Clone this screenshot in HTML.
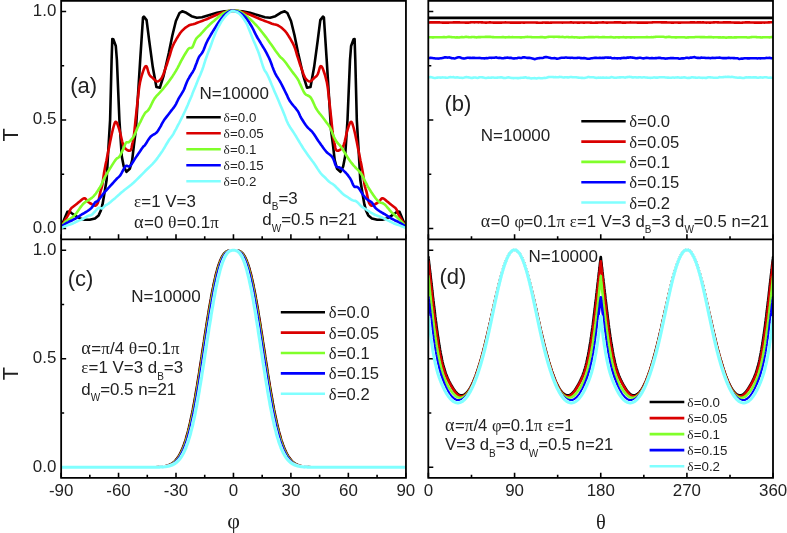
<!DOCTYPE html>
<html><head><meta charset="utf-8"><style>html,body{margin:0;padding:0;background:#fff;width:787px;height:533px;overflow:hidden}svg{display:block}</style></head>
<body><svg width="787" height="533" viewBox="0 0 787 533" style="will-change:transform">
<style>text{font-family:"Liberation Sans",sans-serif;fill:#222}.s{font-family:"Liberation Serif",serif}</style>
<rect width="787" height="533" fill="#fff"/>
<defs><clipPath id="ca"><rect x="61.1" y="0" width="344.7" height="239"/></clipPath><clipPath id="cb"><rect x="428.4" y="0" width="344.70000000000005" height="239"/></clipPath><clipPath id="cc"><rect x="61.1" y="239" width="344.7" height="239"/></clipPath><clipPath id="cd"><rect x="428.4" y="239" width="344.70000000000005" height="239"/></clipPath></defs>
<path d="M61.10 239.3V234.3M89.83 239.3V236.3M118.55 239.3V234.3M147.28 239.3V236.3M176.00 239.3V234.3M204.72 239.3V236.3M233.45 239.3V234.3M262.18 239.3V236.3M290.90 239.3V234.3M319.62 239.3V236.3M348.35 239.3V234.3M377.07 239.3V236.3M405.80 239.3V234.3M428.40 239.3V234.3M471.49 239.3V236.3M514.58 239.3V234.3M557.66 239.3V236.3M600.75 239.3V234.3M643.84 239.3V236.3M686.92 239.3V234.3M730.01 239.3V236.3M773.10 239.3V234.3M61.10 477.85V472.85M89.83 477.85V474.85M118.55 477.85V472.85M147.28 477.85V474.85M176.00 477.85V472.85M204.72 477.85V474.85M233.45 477.85V472.85M262.18 477.85V474.85M290.90 477.85V472.85M319.62 477.85V474.85M348.35 477.85V472.85M377.07 477.85V474.85M405.80 477.85V472.85M428.40 477.85V472.85M471.49 477.85V474.85M514.58 477.85V472.85M557.66 477.85V474.85M600.75 477.85V472.85M643.84 477.85V474.85M686.92 477.85V472.85M730.01 477.85V474.85M773.10 477.85V472.85M61.15 228.50H66.15M61.15 174.25H64.15M61.15 120.00H66.15M61.15 65.75H64.15M61.15 11.50H66.15M61.15 467.30H66.15M61.15 413.05H64.15M61.15 358.80H66.15M61.15 304.55H64.15M61.15 250.30H66.15M428.3 228.50H433.3M428.3 174.25H431.3M428.3 120.00H433.3M428.3 65.75H431.3M428.3 11.50H433.3M428.3 467.30H433.3M428.3 413.05H431.3M428.3 358.80H433.3M428.3 304.55H431.3M428.3 250.30H433.3" stroke="#000" stroke-width="1.6" fill="none"/>
<path d="M61.3 226.5L64.6 218.5 67.3 211.9 69.5 211.5 71.7 213.2 75.6 215.9 80 218.5 84.5 219.8 89.7 219.8 95 218.5 98.6 215.4 100.8 210.6 102.5 204.4 103.9 196.5 105.2 188.5 106.6 180 108.3 150 110.1 120 111.6 60 112.3 39 113.3 39.2 115.8 46 116.9 60 119.4 120 120.6 138.3 121.8 156.6 123.7 166.3 126.5 171.8 129.8 168.8 132.2 160.2 134 144.4 135.9 129.8 137.7 100 140.3 58.4 143 17.5 143.9 16.6 146.6 20.1 149.2 40.6 152.8 67.3 156.4 86.9 159.9 87.7 163.5 76.2 168.8 53 172.4 35.2 175.9 21 179.5 13 182.2 11.3 186.3 12.8 191.5 16.2 196.8 17.7 202 17.3 209.5 15 217 12.8 224.5 11.3 233.4 10.8 242.4 11.3 249.9 12.8 257.4 15 264.9 17.3 270.1 17.7 275.4 16.2 280.6 12.8 284.7 11.3 287.4 13 291 21 294.5 35.2 298.1 53 303.4 76.2 307 87.7 310.5 86.9 314.1 67.3 317.7 40.6 320.3 20.1 323 16.6 323.9 17.5 326.6 58.4 329.2 100 331 129.8 332.9 144.4 334.7 160.2 337.1 168.8 340.4 171.8 343.2 166.3 345.1 156.6 346.3 138.3 347.5 120 350 60 351.1 46 353.6 39.2 354.6 39 355.3 60 356.8 120 358.6 150 360.3 180 361.7 188.5 363 196.5 364.4 204.4 366.1 210.6 368.3 215.4 371.9 218.5 377.2 219.8 382.4 219.8 386.9 218.5 391.3 215.9 395.2 213.2 397.4 211.5 399.6 211.9 402.3 218.5 405.6 226.5" fill="none" stroke="#000000" stroke-width="2.6" stroke-linejoin="round" stroke-linecap="round" clip-path="url(#ca)"/>
<path d="M61.3 226.5L62 225.4 62.9 223.8 64 222 65 220.3 65.9 218.7 66.9 217.1 67.8 215.6 68.6 214.1 69.2 212.7 69.6 211.3 70.1 210 70.8 208.8 71.8 207.7 73.1 206.7 74.4 205.7 75.6 204.8 76.7 203.9 77.8 203 78.9 202.1 80 201.3 81.1 200.3 82.3 199.3 83.4 198.5 84.5 198.2 85.4 198.7 86.3 199.7 87.1 200.8 88 201.8 88.9 202.5 89.7 203 90.6 203.5 91.5 204 92.5 204.6 93.6 205.2 94.6 205.7 95.5 205.7 96.3 205.2 97 204.4 97.6 203.4 98.1 202.2 98.5 200.9 98.8 199.5 99.1 198 99.4 196.5 99.7 195 100.1 193.4 100.4 191.8 100.8 190.3 101.2 189.1 101.5 188.1 101.9 186.8 102.3 185 102.7 182.4 103.1 179.4 103.6 175.9 104.1 172.4 104.8 168.7 105.5 164.9 106.4 160.8 107.2 156.6 108.1 152 109.1 147.2 110 142.4 110.9 138.3 111.6 134.8 112.3 131.8 112.9 129.2 113.5 127 114.1 125 114.7 123.2 115.3 122 116 121.8 116.8 122.7 117.6 124.6 118.5 127 119.4 129.8 120.3 133.2 121.2 137.3 122.1 141.3 123 144.4 123.8 146.4 124.5 147.7 125.3 148.6 126.1 149.3 127.1 150 128.3 150.6 129.5 150.8 130.4 150.5 131 149.6 131.5 148.1 131.8 146.4 132.2 144.4 132.7 142.3 133.1 140 133.6 137.5 134 134.6 134.4 131.5 134.7 128.1 135.1 124.3 135.5 120 136.1 114.8 136.7 108.8 137.4 102.8 138 97.5 138.5 93.2 138.9 89.4 139.4 86 140 82.5 140.9 78.8 141.9 75 143 71.7 143.9 69.1 144.7 67.4 145.3 66.4 146 66.1 146.6 66.4 147.2 67.8 147.8 70 148.5 72.5 149.2 74.4 150 75.6 150.9 76.5 151.8 77.2 152.8 78 153.8 79 154.9 80.2 156.1 81.1 157.2 81.5 158.3 81.2 159.5 80.5 160.6 79.4 161.7 78 162.6 76.2 163.5 74 164.3 71.6 165.2 69.1 166.1 66.6 167 64 167.9 61.2 168.8 58.4 169.8 55.3 170.7 52.1 171.7 48.9 172.8 46 174 43.4 175.3 41.1 176.5 38.9 177.7 37 178.7 35.4 179.6 34 180.4 32.8 181.3 31.7 182.2 30.7 183.1 29.8 184 28.9 185 28.1 186 27.3 187.2 26.5 188.3 25.8 189.3 25.2 190.1 24.9 190.9 24.8 191.7 24.6 193 24.3 194.9 23.7 197.2 22.8 199.6 21.9 202 21 204.2 20.1 206.5 19.2 208.8 18.2 211 17.3 213.3 16.3 215.6 15.3 217.9 14.3 220 13.5 222 12.8 223.9 12.2 225.8 11.7 227.5 11.3 229.1 11 230.6 10.9 232 10.8 233.4 10.8 234.9 10.8 236.3 10.9 237.8 11 239.4 11.3 241.1 11.7 243 12.2 244.9 12.8 246.9 13.5 249 14.3 251.3 15.3 253.6 16.3 255.9 17.3 258.2 18.2 260.4 19.2 262.7 20.1 264.9 21 267.3 21.9 269.7 22.8 272 23.7 273.9 24.3 275.2 24.6 276 24.8 276.8 24.9 277.6 25.2 278.6 25.8 279.8 26.5 280.9 27.3 281.9 28.1 282.9 28.9 283.8 29.8 284.7 30.7 285.6 31.7 286.5 32.8 287.3 34 288.2 35.4 289.2 37 290.4 38.9 291.6 41.1 292.9 43.4 294.1 46 295.2 48.9 296.2 52.1 297.1 55.3 298.1 58.4 299 61.2 299.9 64 300.8 66.6 301.7 69.1 302.6 71.6 303.4 74 304.3 76.2 305.2 78 306.3 79.4 307.4 80.5 308.6 81.2 309.7 81.5 310.8 81.1 312 80.2 313.1 79 314.1 78 315.1 77.2 316 76.5 316.9 75.6 317.7 74.4 318.4 72.5 319.1 70 319.7 67.8 320.3 66.4 320.9 66.1 321.6 66.4 322.2 67.4 323 69.1 323.9 71.7 325 75 326 78.8 326.9 82.5 327.5 86 328 89.4 328.4 93.2 328.9 97.5 329.5 102.8 330.2 108.8 330.8 114.8 331.4 120 331.8 124.3 332.2 128.1 332.5 131.5 332.9 134.6 333.3 137.5 333.8 140 334.2 142.3 334.7 144.4 335.1 146.4 335.4 148.1 335.9 149.6 336.5 150.5 337.4 150.8 338.6 150.6 339.8 150 340.8 149.3 341.6 148.6 342.4 147.7 343.1 146.4 343.9 144.4 344.8 141.3 345.7 137.3 346.6 133.2 347.5 129.8 348.4 127 349.3 124.6 350.1 122.7 350.9 121.8 351.6 122 352.2 123.2 352.8 125 353.4 127 354 129.2 354.6 131.8 355.3 134.8 356 138.3 356.9 142.4 357.8 147.2 358.8 152 359.7 156.6 360.5 160.8 361.4 164.9 362.1 168.7 362.8 172.4 363.3 175.9 363.8 179.4 364.2 182.4 364.6 185 365 186.8 365.4 188 365.7 189.1 366.1 190.3 366.5 191.8 366.8 193.4 367.2 195 367.5 196.5 367.8 198 368.1 199.5 368.4 200.9 368.8 202.2 369.3 203.4 369.9 204.4 370.6 205.2 371.4 205.7 372.3 205.7 373.3 205.2 374.4 204.6 375.4 204 376.3 203.5 377.2 203 378 202.5 378.9 201.8 379.8 200.8 380.6 199.7 381.5 198.7 382.4 198.2 383.5 198.5 384.6 199.3 385.8 200.3 386.9 201.3 388 202.1 389.1 203 390.2 203.9 391.3 204.8 392.5 205.7 393.8 206.7 395.1 207.7 396.1 208.8 396.8 210 397.3 211.3 397.7 212.7 398.3 214.1 399.1 215.6 400 217.1 401 218.7 401.9 220.3 402.9 222 404 223.8 404.9 225.4 405.6 226.5" fill="none" stroke="#da0000" stroke-width="2.6" stroke-linejoin="round" stroke-linecap="round" clip-path="url(#ca)"/>
<path d="M61.3 226.5L62.1 225.5 63.3 224 64.6 222.5 65.9 221.2 67.2 220.3 68.6 219.6 69.9 218.9 71.2 218.1 72.4 217.2 73.5 216.3 74.5 215.3 75.6 214.1 76.7 212.7 77.9 211 79 209.4 80 207.9 81 206.6 81.9 205.5 82.7 204.4 83.6 203.5 84.5 202.7 85.3 202.1 86.2 201.5 87.1 200.9 88.2 200.3 89.3 199.6 90.4 198.9 91.5 198.2 92.4 197.4 93.3 196.6 94.1 195.7 95 194.7 95.9 193.5 96.9 192.1 97.8 190.7 98.6 189.4 99.3 188.3 99.9 187.4 100.5 186.3 101.2 185 101.9 183.4 102.7 181.6 103.6 179.6 104.8 177.3 106.4 174.4 108.4 171.1 110.4 167.8 112.1 165.1 113.4 163.1 114.5 161.4 115.4 160.1 116.3 159 117.1 158.3 117.8 158 118.6 157.5 119.4 156.6 120.4 154.8 121.6 152.5 122.7 150.1 123.7 148 124.4 146.3 125 144.8 125.5 143.5 126.1 142.6 126.8 142.2 127.4 142.3 128.2 142.4 129.1 142 130.2 140.9 131.5 139.4 132.8 137.7 134 135.9 135 133.9 135.9 131.7 136.8 129.4 137.7 127.3 138.6 125.4 139.5 123.5 140.4 121.8 141.3 120 142.2 118.2 143.1 116.3 144.1 114.6 145 113.1 145.9 112.1 146.8 111.5 147.7 110.8 148.8 109.4 150.1 107.1 151.5 104.2 153 101.1 154.6 98.4 156.3 96.2 158.1 94.3 159.9 92.4 161.7 90.4 163.5 88.3 165.2 86.1 167 83.9 168.8 81.5 170.6 79 172.4 76.4 174.2 73.6 175.9 70.8 177.6 67.8 179.3 64.6 180.9 61.4 182.5 58.5 184.1 55.7 185.7 53 187.2 50.6 188.5 48.8 189.6 48 190.5 48 191.4 48 192.3 47.3 193.2 45.6 194.1 43.3 195 41 196 39 197.1 37.6 198.2 36.6 199.4 35.6 200.5 34.5 201.6 33.2 202.8 31.9 203.9 30.6 205 29.3 206.1 28.1 207.2 27.1 208.3 26 209.5 24.8 210.9 23.5 212.3 22.2 213.9 20.9 215.5 19.5 217.3 18 219.2 16.3 221.2 14.8 223 13.5 224.6 12.6 226.2 11.8 227.6 11.3 229 10.9 230.2 10.7 231.3 10.7 232.4 10.8 233.4 10.8 234.6 10.8 235.7 10.7 236.8 10.7 238 10.9 239.2 11.3 240.3 11.8 241.6 12.6 243 13.5 244.7 14.8 246.7 16.3 248.7 17.9 250.5 19.5 252.1 20.9 253.5 22.3 254.9 23.8 256.5 25.5 258.3 27.5 260.2 29.8 262.1 32.2 264 34.6 265.9 37.1 267.8 39.8 269.7 42.4 271.6 45.1 273.5 47.8 275.5 50.7 277.4 53.3 279.1 55.6 280.5 57.2 281.8 58.3 283 59.4 284.4 61 286.2 63.3 288.1 66 290.1 68.8 291.9 71.3 293.5 73.4 295 75.3 296.3 77.1 297.5 78.8 298.4 80.2 299 81.5 299.5 82.8 300.3 84.4 301.3 86.6 302.5 89.2 303.7 91.8 305 93.8 306.4 94.9 307.8 95.5 309.3 96.2 310.7 97.5 312.1 99.9 313.5 102.9 314.9 106.1 316.3 108.8 317.7 110.9 319.1 112.8 320.5 114.5 321.9 116.3 323.4 118.3 324.9 120.3 326.3 122.2 327.5 123.8 328.3 124.8 328.8 125.3 329.2 126 330 127.5 331.2 130.1 332.5 133.5 334 137 335.5 140 336.9 142.1 338.4 143.8 339.9 145.4 341.5 147.5 343.3 150.3 345.2 153.5 347.2 156.7 349 159.5 350.6 161.7 352.1 163.6 353.5 165.3 355 167 356.5 168.6 358.1 170.2 359.6 171.8 361 173.5 362.2 175.5 363.4 177.7 364.4 179.9 365.5 182 366.5 183.9 367.3 185.6 368.3 187.4 369.6 189.5 371.4 192.3 373.6 195.4 375.8 198.5 377.8 200.8 379.4 202.1 380.9 202.7 382.2 203 383.3 203.5 384.2 204.1 384.8 204.5 385.4 205.1 386.2 206 387.3 207.3 388.7 208.9 390 210.6 391.3 212 392.4 213.1 393.5 214 394.6 215 395.7 216 397 217.2 398.3 218.5 399.7 219.9 401 221.2 402.3 222.6 403.7 224.2 404.9 225.5 405.8 226.5" fill="none" stroke="#80ff2a" stroke-width="2.6" stroke-linejoin="round" stroke-linecap="round" clip-path="url(#ca)"/>
<path d="M61.3 226.5L62.3 225.8 63.8 224.8 65.4 223.8 66.8 222.9 68 222.3 69.1 221.7 70.1 221.2 71.2 220.7 72.3 220.2 73.3 219.7 74.4 219.1 75.6 218.5 76.9 217.7 78.2 216.8 79.6 215.9 80.9 215 82.2 214.2 83.6 213.5 84.9 212.7 86.2 211.9 87.6 211 89 210 90.3 209 91.5 207.9 92.5 206.6 93.4 205.1 94.2 203.7 95 202.6 95.7 202 96.3 201.7 97 201.4 97.7 200.9 98.5 200 99.4 198.9 100.3 197.7 101.2 196.5 102.1 195.4 103 194.2 103.8 193.1 104.7 192.1 105.5 191.2 106.3 190.3 107.1 189.4 108 188.5 108.9 187.5 109.9 186.4 111 185.2 112.1 184 113.3 182.7 114.6 181.2 115.8 179.8 117 178.5 118 177.6 118.8 176.9 119.6 176.1 120.6 174.9 121.7 172.9 123 170.4 124.3 168 125.5 166.3 126.6 165.8 127.7 166.1 128.7 166.5 129.8 166.3 130.8 165.2 131.9 163.7 132.9 162 134 160.2 135.2 158.4 136.4 156.6 137.7 154.7 138.9 152.9 140.1 151.2 141.2 149.5 142.3 148 143.2 146.8 143.7 146.2 144 146 144.3 145.8 145 145 146.2 143.3 147.6 140.9 149.2 138.5 150.7 136.6 152.2 135.4 153.6 134.5 155 133.8 156.3 132.8 157.4 131.6 158.3 130.3 159.1 128.9 160 127.4 160.9 125.8 161.7 124.2 162.7 122.4 163.8 120.6 165.2 118.6 166.9 116.4 168.6 114.2 170.1 112.2 171.5 110.4 172.8 108.8 174.1 107.1 175.2 105.5 176.1 103.8 176.9 102.2 177.7 100.5 178.6 98.7 179.8 96.7 181.1 94.6 182.4 92.4 183.6 90.3 184.6 88.1 185.4 85.8 186.2 83.7 187 81.8 187.7 80.3 188.2 79.2 188.9 78.1 189.6 76.8 190.6 75.2 191.7 73.4 192.9 71.7 193.8 70 194.5 68.6 195 67.3 195.4 66 196 64.5 196.7 62.7 197.4 60.7 198.2 58.8 199 57 199.9 55.6 200.9 54.5 201.8 53.3 202.8 51.8 203.7 49.8 204.6 47.5 205.5 45.1 206.5 42.8 207.5 40.7 208.6 38.7 209.8 36.7 211 34.5 212.4 32.1 213.9 29.7 215.5 27.2 217 24.8 218.5 22.5 220 20.3 221.5 18.3 223 16.5 224.5 15 226.1 13.6 227.6 12.5 229 11.7 230.2 11.1 231.2 10.8 232.2 10.7 233.4 10.8 235 11 236.6 11.4 238.4 12 240 12.8 241.5 13.8 243 15 244.5 16.4 246 18 247.5 20 249.1 22.3 250.6 24.7 252 27 253.2 29.3 254.3 31.6 255.4 33.8 256.5 36 257.6 38 258.8 39.9 259.9 41.7 261 43.6 262.1 45.4 263.2 47.3 264.4 49.1 265.5 51.1 266.6 53.2 267.7 55.3 268.8 57.5 270 60.1 271.2 63.2 272.4 66.6 273.7 70 275 73.1 276.4 75.7 277.8 77.9 279.2 80.1 280.6 82.5 282.1 85.3 283.6 88.3 285 91.2 286.3 93.8 287.3 95.9 288 97.7 288.9 99.4 290 101.3 291.7 103.6 293.7 106 295.8 108.4 297.5 110.7 298.7 112.7 299.5 114.5 300.3 116.3 301.3 118.2 302.6 120.3 304 122.5 305.5 124.7 306.9 126.6 308.3 128.1 309.7 129.4 311.1 130.7 312.5 132.2 314 134.2 315.5 136.5 316.9 138.7 318.2 140.7 319.3 142.2 320.2 143.5 321 144.7 322 146 323 147.5 324.1 149 325.3 150.5 326.5 152 327.9 153.3 329.6 154.5 331.1 155.7 332.5 157.3 333.6 159.5 334.5 162 335.3 164.5 336.2 166.3 337.1 167.1 338 167.3 338.9 167.3 340 167.8 341.4 168.8 343 170.1 344.6 171.6 346 173 347.2 174.4 348.4 175.9 349.5 177.4 350.5 179 351.5 180.9 352.4 183.1 353.3 185.1 354.2 186.5 355.1 187 356 186.9 357 186.8 358 187.3 359.1 188.6 360.2 190.4 361.4 192.3 362.5 194 363.6 195.5 364.7 196.9 365.8 198.1 367 199.3 368.2 200.2 369.5 201 370.8 201.7 371.9 202.6 372.8 203.8 373.6 205.2 374.4 206.6 375.4 207.9 376.6 209 377.9 210 379.3 211 380.7 211.9 382 212.7 383.4 213.5 384.7 214.2 386 215 387.3 215.9 388.7 216.8 390 217.7 391.3 218.5 392.5 219.1 393.6 219.7 394.6 220.2 395.7 220.7 396.8 221.2 397.8 221.7 398.9 222.3 400.1 222.9 401.6 223.8 403.2 224.8 404.7 225.8 405.8 226.5" fill="none" stroke="#0000ff" stroke-width="2.6" stroke-linejoin="round" stroke-linecap="round" clip-path="url(#ca)"/>
<path d="M61.3 228L62.3 227.6 63.7 226.9 65.3 226.2 66.8 225.6 68.1 225.1 69.5 224.7 70.8 224.3 72.1 223.8 73.4 223.2 74.8 222.5 76.1 221.8 77.4 221.2 78.7 220.6 80.1 220.1 81.4 219.6 82.7 219 84.1 218.2 85.5 217.4 86.8 216.5 88 215.9 89 215.6 89.9 215.5 90.7 215.4 91.5 215 92.4 214.3 93.2 213.4 94.1 212.4 95 211.5 95.9 210.5 96.8 209.4 97.7 208.5 98.6 207.9 99.5 207.8 100.4 208.1 101.2 208.4 102.1 208.4 103 207.8 103.9 207 104.8 206 105.6 205.3 106.2 204.9 106.7 204.8 107.2 204.5 108 204 109.2 203.1 110.7 201.9 112.2 200.5 113.8 199.2 115.4 197.9 117 196.4 118.6 195.1 120 193.8 121.1 192.8 122 192 123 191.2 124.4 190 126.4 188.5 128.7 186.7 131.2 184.7 133.8 182.5 136.5 179.9 139.4 177 142.3 174.1 145 171.3 147.6 168.8 150.1 166.4 152.4 164.1 154.4 161.9 156.1 159.9 157.6 157.9 158.8 156.1 160 154.5 161 153.1 161.7 152 162.5 150.9 163.4 149.4 164.6 147.5 165.8 145.3 167.2 143 168.4 141 169.5 139.3 170.7 137.8 171.7 136.4 172.7 135 173.6 133.6 174.3 132.2 175.1 130.7 176 129.1 177 127.2 178 125.2 179.2 123 180.3 120.7 181.5 118.3 182.8 115.8 184 113.2 185.3 110.5 186.6 107.6 188 104.5 189.2 101.4 190.4 98.7 191.4 96.4 192.2 94.4 192.9 92.4 193.8 90.3 194.8 87.9 195.9 85.3 196.9 82.7 198 80.1 199 77.6 200.1 75.2 201.1 72.7 202.2 70 203.3 66.9 204.3 63.6 205.4 60.2 206.5 57 207.6 53.9 208.7 50.9 209.9 48 211 45 212.1 41.9 213.2 38.8 214.4 35.8 215.5 33 216.6 30.5 217.8 28.2 218.9 26 220 24 221.1 22.1 222.2 20.4 223.4 18.8 224.5 17.3 225.6 16 226.8 14.7 227.9 13.7 229 12.8 230.1 12 231.1 11.4 232.2 11 233.4 11 235 11.4 236.6 12 238.4 13 240 14.3 241.6 16 243.1 18 244.6 20.2 246 22.5 247.3 25 248.4 27.8 249.5 30.5 250.5 33 251.3 35 252 36.8 252.7 38.6 253.5 40.6 254.6 43.1 255.8 45.8 256.9 48.5 258 51.1 258.9 53.5 259.6 55.7 260.3 57.9 261 60.1 261.7 62.4 262.5 64.8 263.2 67.1 264 69.1 264.8 70.6 265.6 71.8 266.5 73.1 267.5 75 268.8 77.8 270.2 81.1 271.6 84.6 273.1 88.1 274.5 91.4 276 94.8 277.4 98.1 278.8 101.3 280 104.2 281.2 107 282.4 109.7 283.5 112.5 284.7 115.4 285.8 118.4 286.9 121.2 288.1 123.8 289.3 125.9 290.4 127.8 291.6 129.5 292.8 131.3 294 133.1 295.1 134.9 296.3 136.8 297.5 138.8 298.8 141 300.2 143.4 301.7 145.8 303.2 148.2 304.8 150.6 306.5 153 308.2 155.4 309.7 157.5 311 159.3 312.1 160.8 313.3 162.3 314.5 164 316 166.2 317.5 168.6 319.1 171 320.5 173 321.7 174.4 322.8 175.5 323.9 176.5 325 177.5 326.1 178.7 327.2 179.8 328.4 181 329.5 182 330.6 182.8 331.8 183.5 332.9 184.2 334 185 335.1 186 336.2 187.2 337.4 188.3 338.5 189.5 339.6 190.7 340.8 191.8 341.9 193 343 194 344.1 194.9 345.2 195.6 346.4 196.3 347.5 197 348.6 197.8 349.8 198.6 350.9 199.4 352 200 353.1 200.4 354.2 200.7 355.4 200.9 356.5 201.5 357.6 202.4 358.8 203.7 359.9 204.9 361 206 362.1 206.9 363.2 207.6 364.4 208.3 365.5 209 366.6 209.8 367.7 210.5 368.8 211.2 370 212 371.3 212.8 372.6 213.5 373.9 214.3 375.4 215 376.9 215.6 378.6 216.2 380.3 216.8 382 217.5 383.9 218.4 385.8 219.3 387.8 220.3 389.5 221.2 391 221.9 392.3 222.6 393.5 223.2 394.8 223.8 396.1 224.3 397.4 224.7 398.7 225.1 400.1 225.6 401.6 226.2 403.3 226.9 404.8 227.6 405.8 228" fill="none" stroke="#80ffff" stroke-width="2.6" stroke-linejoin="round" stroke-linecap="round" clip-path="url(#ca)"/>
<path d="M428.4 17.9L429.4 17.9 430.4 17.9 431.4 17.9 432.4 17.9 433.4 17.9 434.4 17.9 435.4 17.9 436.4 17.9 437.4 17.9 438.4 17.9 439.4 17.9 440.4 17.9 441.4 17.9 442.4 17.9 443.4 17.9 444.4 17.9 445.4 17.9 446.4 17.9 447.4 17.9 448.4 17.9 449.4 17.9 450.4 17.9 451.4 17.9 452.4 17.9 453.4 17.9 454.4 17.9 455.4 17.9 456.4 17.9 457.4 17.9 458.4 17.9 459.4 17.9 460.4 17.9 461.4 17.9 462.4 17.9 463.4 17.9 464.4 17.9 465.4 17.9 466.4 17.9 467.4 17.9 468.4 17.9 469.4 17.9 470.4 17.9 471.4 17.9 472.4 17.9 473.4 17.9 474.4 17.9 475.4 17.9 476.4 17.9 477.4 17.9 478.4 17.9 479.4 17.9 480.4 17.9 481.4 17.9 482.4 17.9 483.4 17.9 484.4 17.9 485.4 17.9 486.4 17.9 487.4 17.9 488.4 17.9 489.4 17.9 490.4 17.9 491.4 17.9 492.4 17.9 493.4 17.9 494.4 17.9 495.4 17.9 496.4 17.9 497.4 17.9 498.4 17.9 499.4 17.9 500.4 17.9 501.4 17.9 502.4 17.9 503.4 17.9 504.4 17.9 505.4 17.9 506.4 17.9 507.4 17.9 508.4 17.9 509.4 17.9 510.4 17.9 511.4 17.9 512.4 17.9 513.4 17.9 514.4 17.9 515.4 17.9 516.4 17.9 517.4 17.9 518.4 17.9 519.4 17.9 520.4 17.9 521.4 17.9 522.4 17.9 523.4 17.9 524.4 17.9 525.4 17.9 526.4 17.9 527.4 17.9 528.4 17.9 529.4 17.9 530.4 17.9 531.4 17.9 532.4 17.9 533.4 17.9 534.4 17.9 535.4 17.9 536.4 17.9 537.4 17.9 538.4 17.9 539.4 17.9 540.4 17.9 541.4 17.9 542.4 17.9 543.4 17.9 544.4 17.9 545.4 17.9 546.4 17.9 547.4 17.9 548.4 17.9 549.4 17.9 550.4 17.9 551.4 17.9 552.4 17.9 553.4 17.9 554.4 17.9 555.4 17.9 556.4 17.9 557.4 17.9 558.4 17.9 559.4 17.9 560.4 17.9 561.4 17.9 562.4 17.9 563.4 17.9 564.4 17.9 565.4 17.9 566.4 17.9 567.4 17.9 568.4 17.9 569.4 17.9 570.4 17.9 571.4 17.9 572.4 17.9 573.4 17.9 574.4 17.9 575.4 17.9 576.4 17.9 577.4 17.9 578.4 17.9 579.4 17.9 580.4 17.9 581.4 17.9 582.4 17.9 583.4 17.9 584.4 17.9 585.4 17.9 586.4 17.9 587.4 17.9 588.4 17.9 589.4 17.9 590.4 17.9 591.4 17.9 592.4 17.9 593.4 17.9 594.4 17.9 595.4 17.9 596.4 17.9 597.4 17.9 598.4 17.9 599.4 17.9 600.4 17.9 601.4 17.9 602.4 17.9 603.4 17.9 604.4 17.9 605.4 17.9 606.4 17.9 607.4 17.9 608.4 17.9 609.4 17.9 610.4 17.9 611.4 17.9 612.4 17.9 613.4 17.9 614.4 17.9 615.4 17.9 616.4 17.9 617.4 17.9 618.4 17.9 619.4 17.9 620.4 17.9 621.4 17.9 622.4 17.9 623.4 17.9 624.4 17.9 625.4 17.9 626.4 17.9 627.4 17.9 628.4 17.9 629.4 17.9 630.4 17.9 631.4 17.9 632.4 17.9 633.4 17.9 634.4 17.9 635.4 17.9 636.4 17.9 637.4 17.9 638.4 17.9 639.4 17.9 640.4 17.9 641.4 17.9 642.4 17.9 643.4 17.9 644.4 17.9 645.4 17.9 646.4 17.9 647.4 17.9 648.4 17.9 649.4 17.9 650.4 17.9 651.4 17.9 652.4 17.9 653.4 17.9 654.4 17.9 655.4 17.9 656.4 17.9 657.4 17.9 658.4 17.9 659.4 17.9 660.4 17.9 661.4 17.9 662.4 17.9 663.4 17.9 664.4 17.9 665.4 17.9 666.4 17.9 667.4 17.9 668.4 17.9 669.4 17.9 670.4 17.9 671.4 17.9 672.4 17.9 673.4 17.9 674.4 17.9 675.4 17.9 676.4 17.9 677.4 17.9 678.4 17.9 679.4 17.9 680.4 17.9 681.4 17.9 682.4 17.9 683.4 17.9 684.4 17.9 685.4 17.9 686.4 17.9 687.4 17.9 688.4 17.9 689.4 17.9 690.4 17.9 691.4 17.9 692.4 17.9 693.4 17.9 694.4 17.9 695.4 17.9 696.4 17.9 697.4 17.9 698.4 17.9 699.4 17.9 700.4 17.9 701.4 17.9 702.4 17.9 703.4 17.9 704.4 17.9 705.4 17.9 706.4 17.9 707.4 17.9 708.4 17.9 709.4 17.9 710.4 17.9 711.4 17.9 712.4 17.9 713.4 17.9 714.4 17.9 715.4 17.9 716.4 17.9 717.4 17.9 718.4 17.9 719.4 17.9 720.4 17.9 721.4 17.9 722.4 17.9 723.4 17.9 724.4 17.9 725.4 17.9 726.4 17.9 727.4 17.9 728.4 17.9 729.4 17.9 730.4 17.9 731.4 17.9 732.4 17.9 733.4 17.9 734.4 17.9 735.4 17.9 736.4 17.9 737.4 17.9 738.4 17.9 739.4 17.9 740.4 17.9 741.4 17.9 742.4 17.9 743.4 17.9 744.4 17.9 745.4 17.9 746.4 17.9 747.4 17.9 748.4 17.9 749.4 17.9 750.4 17.9 751.4 17.9 752.4 17.9 753.4 17.9 754.4 17.9 755.4 17.9 756.4 17.9 757.4 17.9 758.4 17.9 759.4 17.9 760.4 17.9 761.4 17.9 762.4 17.9 763.4 17.9 764.4 17.9 765.4 17.9 766.4 17.9 767.4 17.9 768.4 17.9 769.4 17.9 770.4 17.9 771.4 17.9 772.4 17.9" fill="none" stroke="#000000" stroke-width="2.6" stroke-linejoin="round" stroke-linecap="round" clip-path="url(#cb)"/>
<path d="M428.4 22.4L429.4 22.5 430.4 22.4 431.4 22.4 432.4 22.4 433.4 22.4 434.4 22.3 435.4 22.4 436.4 22.4 437.4 22.4 438.4 22.4 439.4 22.4 440.4 22.5 441.4 22.5 442.4 22.6 443.4 22.6 444.4 22.6 445.4 22.6 446.4 22.6 447.4 22.6 448.4 22.6 449.4 22.5 450.4 22.5 451.4 22.5 452.4 22.5 453.4 22.4 454.4 22.4 455.4 22.4 456.4 22.4 457.4 22.3 458.4 22.4 459.4 22.4 460.4 22.5 461.4 22.5 462.4 22.5 463.4 22.5 464.4 22.5 465.4 22.6 466.4 22.6 467.4 22.6 468.4 22.6 469.4 22.5 470.4 22.4 471.4 22.3 472.4 22.3 473.4 22.3 474.4 22.4 475.4 22.3 476.4 22.3 477.4 22.3 478.4 22.4 479.4 22.3 480.4 22.3 481.4 22.4 482.4 22.4 483.4 22.5 484.4 22.5 485.4 22.6 486.4 22.6 487.4 22.5 488.4 22.5 489.4 22.4 490.4 22.4 491.4 22.5 492.4 22.5 493.4 22.6 494.4 22.5 495.4 22.6 496.4 22.6 497.4 22.6 498.4 22.6 499.4 22.6 500.4 22.6 501.4 22.6 502.4 22.5 503.4 22.5 504.4 22.5 505.4 22.4 506.4 22.5 507.4 22.5 508.4 22.5 509.4 22.5 510.4 22.6 511.4 22.6 512.4 22.5 513.4 22.6 514.4 22.6 515.4 22.6 516.4 22.6 517.4 22.6 518.4 22.6 519.4 22.6 520.4 22.6 521.4 22.5 522.4 22.5 523.4 22.6 524.4 22.6 525.4 22.5 526.4 22.5 527.4 22.5 528.4 22.5 529.4 22.5 530.4 22.5 531.4 22.5 532.4 22.5 533.4 22.5 534.4 22.5 535.4 22.5 536.4 22.6 537.4 22.6 538.4 22.7 539.4 22.7 540.4 22.7 541.4 22.7 542.4 22.6 543.4 22.5 544.4 22.5 545.4 22.6 546.4 22.6 547.4 22.6 548.4 22.6 549.4 22.7 550.4 22.6 551.4 22.6 552.4 22.5 553.4 22.5 554.4 22.5 555.4 22.5 556.4 22.5 557.4 22.5 558.4 22.5 559.4 22.5 560.4 22.5 561.4 22.5 562.4 22.6 563.4 22.5 564.4 22.5 565.4 22.5 566.4 22.5 567.4 22.5 568.4 22.5 569.4 22.5 570.4 22.4 571.4 22.4 572.4 22.5 573.4 22.6 574.4 22.5 575.4 22.5 576.4 22.5 577.4 22.6 578.4 22.6 579.4 22.6 580.4 22.5 581.4 22.5 582.4 22.5 583.4 22.6 584.4 22.6 585.4 22.5 586.4 22.5 587.4 22.5 588.4 22.5 589.4 22.5 590.4 22.6 591.4 22.6 592.4 22.7 593.4 22.7 594.4 22.7 595.4 22.6 596.4 22.6 597.4 22.6 598.4 22.5 599.4 22.5 600.4 22.5 601.4 22.5 602.4 22.4 603.4 22.4 604.4 22.5 605.4 22.5 606.4 22.6 607.4 22.6 608.4 22.5 609.4 22.5 610.4 22.5 611.4 22.5 612.4 22.5 613.4 22.5 614.4 22.4 615.4 22.4 616.4 22.4 617.4 22.4 618.4 22.4 619.4 22.4 620.4 22.4 621.4 22.5 622.4 22.6 623.4 22.6 624.4 22.6 625.4 22.6 626.4 22.5 627.4 22.5 628.4 22.5 629.4 22.5 630.4 22.4 631.4 22.5 632.4 22.5 633.4 22.5 634.4 22.5 635.4 22.5 636.4 22.5 637.4 22.6 638.4 22.6 639.4 22.6 640.4 22.6 641.4 22.6 642.4 22.6 643.4 22.6 644.4 22.5 645.4 22.6 646.4 22.6 647.4 22.6 648.4 22.5 649.4 22.5 650.4 22.5 651.4 22.5 652.4 22.4 653.4 22.3 654.4 22.3 655.4 22.3 656.4 22.3 657.4 22.3 658.4 22.3 659.4 22.3 660.4 22.3 661.4 22.4 662.4 22.4 663.4 22.4 664.4 22.4 665.4 22.4 666.4 22.4 667.4 22.5 668.4 22.5 669.4 22.5 670.4 22.5 671.4 22.6 672.4 22.6 673.4 22.6 674.4 22.5 675.4 22.5 676.4 22.5 677.4 22.5 678.4 22.6 679.4 22.6 680.4 22.6 681.4 22.5 682.4 22.5 683.4 22.5 684.4 22.5 685.4 22.5 686.4 22.5 687.4 22.5 688.4 22.5 689.4 22.5 690.4 22.4 691.4 22.4 692.4 22.4 693.4 22.4 694.4 22.4 695.4 22.5 696.4 22.5 697.4 22.4 698.4 22.4 699.4 22.4 700.4 22.4 701.4 22.5 702.4 22.4 703.4 22.4 704.4 22.5 705.4 22.5 706.4 22.6 707.4 22.5 708.4 22.5 709.4 22.6 710.4 22.6 711.4 22.5 712.4 22.5 713.4 22.4 714.4 22.4 715.4 22.3 716.4 22.3 717.4 22.4 718.4 22.4 719.4 22.5 720.4 22.5 721.4 22.5 722.4 22.5 723.4 22.4 724.4 22.4 725.4 22.4 726.4 22.4 727.4 22.4 728.4 22.4 729.4 22.4 730.4 22.4 731.4 22.5 732.4 22.5 733.4 22.5 734.4 22.6 735.4 22.6 736.4 22.6 737.4 22.6 738.4 22.6 739.4 22.6 740.4 22.7 741.4 22.7 742.4 22.6 743.4 22.5 744.4 22.5 745.4 22.4 746.4 22.4 747.4 22.4 748.4 22.4 749.4 22.4 750.4 22.5 751.4 22.5 752.4 22.5 753.4 22.5 754.4 22.6 755.4 22.6 756.4 22.6 757.4 22.6 758.4 22.6 759.4 22.5 760.4 22.6 761.4 22.6 762.4 22.5 763.4 22.5 764.4 22.6 765.4 22.5 766.4 22.5 767.4 22.5 768.4 22.4 769.4 22.4 770.4 22.3 771.4 22.3 772.4 22.3" fill="none" stroke="#da0000" stroke-width="2.6" stroke-linejoin="round" stroke-linecap="round" clip-path="url(#cb)"/>
<path d="M428.4 37.3L429.4 37.3 430.4 37.3 431.4 37.3 432.4 37.4 433.4 37.4 434.4 37.3 435.4 37.3 436.4 37.2 437.4 37.2 438.4 37.3 439.4 37.3 440.4 37.3 441.4 37.3 442.4 37.3 443.4 37.1 444.4 37.1 445.4 37.3 446.4 37.2 447.4 37 448.4 36.9 449.4 36.9 450.4 37 451.4 37.1 452.4 37.2 453.4 37.2 454.4 37.3 455.4 37.5 456.4 37.4 457.4 37.4 458.4 37.5 459.4 37.4 460.4 37.2 461.4 37.1 462.4 37.1 463.4 37.2 464.4 37.1 465.4 36.9 466.4 36.9 467.4 37 468.4 37.1 469.4 37.2 470.4 37.2 471.4 37.1 472.4 37 473.4 37 474.4 37.1 475.4 37.3 476.4 37.4 477.4 37.2 478.4 37 479.4 37.1 480.4 37.1 481.4 37 482.4 37 483.4 37 484.4 37 485.4 36.9 486.4 36.8 487.4 36.9 488.4 36.9 489.4 36.8 490.4 36.9 491.4 37 492.4 37.1 493.4 37.1 494.4 37.2 495.4 37.3 496.4 37.3 497.4 37.2 498.4 37.2 499.4 37.3 500.4 37.3 501.4 37.2 502.4 37 503.4 37.1 504.4 37.3 505.4 37.4 506.4 37.3 507.4 37.2 508.4 37.1 509.4 37.1 510.4 37.2 511.4 37.2 512.4 37.1 513.4 37.3 514.4 37.3 515.4 37.2 516.4 37.2 517.4 37.3 518.4 37.3 519.4 37.3 520.4 37.4 521.4 37.4 522.4 37.3 523.4 37.3 524.4 37.2 525.4 37 526.4 37 527.4 36.9 528.4 37 529.4 37 530.4 37 531.4 37.1 532.4 37.2 533.4 37.2 534.4 37.2 535.4 37.2 536.4 37.2 537.4 37.2 538.4 37.2 539.4 37.2 540.4 37.1 541.4 37.1 542.4 37.1 543.4 37.2 544.4 37.4 545.4 37.4 546.4 37.2 547.4 37 548.4 36.9 549.4 36.8 550.4 36.8 551.4 36.8 552.4 36.8 553.4 36.9 554.4 36.9 555.4 36.8 556.4 36.8 557.4 36.8 558.4 36.9 559.4 36.9 560.4 37 561.4 37 562.4 36.9 563.4 37 564.4 37.2 565.4 37.2 566.4 37 567.4 37 568.4 37.1 569.4 37.2 570.4 37.2 571.4 37.1 572.4 37.1 573.4 37.2 574.4 37.4 575.4 37.3 576.4 37.2 577.4 37.4 578.4 37.5 579.4 37.6 580.4 37.5 581.4 37.5 582.4 37.5 583.4 37.5 584.4 37.4 585.4 37.3 586.4 37.2 587.4 37.2 588.4 37.1 589.4 37.1 590.4 37.1 591.4 37.1 592.4 37.1 593.4 37.1 594.4 37.2 595.4 37 596.4 37 597.4 37 598.4 37.1 599.4 37.2 600.4 37.2 601.4 37.2 602.4 37.1 603.4 37.1 604.4 37.1 605.4 37.2 606.4 37.2 607.4 37.2 608.4 37.3 609.4 37.2 610.4 37 611.4 37.1 612.4 37.2 613.4 37.4 614.4 37.5 615.4 37.4 616.4 37.3 617.4 37.3 618.4 37.4 619.4 37.4 620.4 37.3 621.4 37.2 622.4 37.2 623.4 37.1 624.4 37.2 625.4 37.4 626.4 37.4 627.4 37.3 628.4 37.3 629.4 37.3 630.4 37.4 631.4 37.4 632.4 37.3 633.4 37.3 634.4 37.4 635.4 37.3 636.4 37.3 637.4 37.3 638.4 37.3 639.4 37.3 640.4 37.3 641.4 37.3 642.4 37.2 643.4 37.3 644.4 37.3 645.4 37.2 646.4 37.1 647.4 37.1 648.4 37.2 649.4 37.2 650.4 37.2 651.4 37.1 652.4 37.2 653.4 37.1 654.4 37 655.4 36.9 656.4 36.8 657.4 36.8 658.4 36.8 659.4 36.8 660.4 36.8 661.4 36.7 662.4 36.8 663.4 36.8 664.4 37 665.4 37.2 666.4 37.1 667.4 37 668.4 36.9 669.4 36.9 670.4 37 671.4 37.2 672.4 37.2 673.4 37.2 674.4 37.3 675.4 37.4 676.4 37.4 677.4 37.3 678.4 37.2 679.4 37.2 680.4 37.3 681.4 37.2 682.4 37.2 683.4 37.2 684.4 37.3 685.4 37.5 686.4 37.6 687.4 37.4 688.4 37.4 689.4 37.3 690.4 37.2 691.4 37.2 692.4 37.2 693.4 37.2 694.4 37.2 695.4 37 696.4 37 697.4 37 698.4 37 699.4 37 700.4 37.1 701.4 37.1 702.4 37.1 703.4 37.1 704.4 37 705.4 37.2 706.4 37.3 707.4 37.2 708.4 37.1 709.4 37 710.4 37.1 711.4 37.1 712.4 37.3 713.4 37.4 714.4 37.3 715.4 37.3 716.4 37.2 717.4 37.3 718.4 37.4 719.4 37.3 720.4 37.4 721.4 37.5 722.4 37.4 723.4 37.3 724.4 37.4 725.4 37.6 726.4 37.6 727.4 37.5 728.4 37.3 729.4 37.4 730.4 37.4 731.4 37.4 732.4 37.5 733.4 37.5 734.4 37.4 735.4 37.4 736.4 37.4 737.4 37.3 738.4 37.2 739.4 37.3 740.4 37.3 741.4 37.3 742.4 37.3 743.4 37.3 744.4 37.2 745.4 37.2 746.4 37.3 747.4 37.5 748.4 37.5 749.4 37.4 750.4 37.2 751.4 37.1 752.4 37 753.4 37 754.4 37 755.4 37 756.4 37.1 757.4 37.2 758.4 37.2 759.4 37.3 760.4 37.4 761.4 37.5 762.4 37.4 763.4 37.3 764.4 37.3 765.4 37.2 766.4 37.2 767.4 37.2 768.4 37.3 769.4 37.4 770.4 37.3 771.4 37.1 772.4 37" fill="none" stroke="#80ff2a" stroke-width="2.6" stroke-linejoin="round" stroke-linecap="round" clip-path="url(#cb)"/>
<path d="M428.4 58.1L429.4 58 430.4 57.9 431.4 57.9 432.4 58.1 433.4 58.3 434.4 58.3 435.4 58.5 436.4 58.5 437.4 58.5 438.4 58.6 439.4 58.4 440.4 58.2 441.4 58.3 442.4 58.1 443.4 57.7 444.4 57.4 445.4 57.3 446.4 57.4 447.4 57.6 448.4 57.5 449.4 57.4 450.4 57.7 451.4 58.1 452.4 58.2 453.4 58.3 454.4 58.5 455.4 58.3 456.4 57.9 457.4 57.5 458.4 57.2 459.4 57.3 460.4 57.6 461.4 57.9 462.4 58.2 463.4 58.4 464.4 58.4 465.4 58.2 466.4 57.9 467.4 57.7 468.4 57.8 469.4 57.9 470.4 57.9 471.4 58 472.4 57.9 473.4 57.8 474.4 57.9 475.4 58 476.4 58 477.4 58 478.4 58 479.4 57.9 480.4 58.1 481.4 58.3 482.4 58.2 483.4 58.3 484.4 58.4 485.4 58.3 486.4 58.1 487.4 58.2 488.4 58 489.4 57.8 490.4 57.8 491.4 57.9 492.4 57.8 493.4 57.7 494.4 57.7 495.4 57.5 496.4 57.4 497.4 57.7 498.4 57.9 499.4 57.9 500.4 57.9 501.4 58.1 502.4 58.2 503.4 58.2 504.4 57.9 505.4 57.9 506.4 57.8 507.4 57.6 508.4 57.7 509.4 57.9 510.4 57.9 511.4 57.9 512.4 58.2 513.4 58.4 514.4 58.4 515.4 58.2 516.4 58.2 517.4 58.1 518.4 57.8 519.4 57.7 520.4 58 521.4 58 522.4 57.6 523.4 57.3 524.4 57.4 525.4 57.5 526.4 57.7 527.4 57.9 528.4 57.8 529.4 57.9 530.4 58 531.4 58.2 532.4 58.4 533.4 58.7 534.4 59.1 535.4 59 536.4 58.6 537.4 58.4 538.4 58.3 539.4 58.1 540.4 58 541.4 58 542.4 58 543.4 57.7 544.4 57.3 545.4 57.1 546.4 57.1 547.4 57.3 548.4 57.5 549.4 57.8 550.4 57.9 551.4 58.2 552.4 58.3 553.4 58.3 554.4 58.1 555.4 58.2 556.4 58.6 557.4 58.7 558.4 58.5 559.4 58.3 560.4 58 561.4 57.8 562.4 57.7 563.4 57.8 564.4 57.7 565.4 57.5 566.4 57.5 567.4 57.7 568.4 57.7 569.4 57.7 570.4 57.9 571.4 57.8 572.4 57.8 573.4 58 574.4 58 575.4 58 576.4 58 577.4 57.9 578.4 57.8 579.4 57.8 580.4 58.1 581.4 58.1 582.4 58.2 583.4 58.1 584.4 58.1 585.4 58.3 586.4 58.5 587.4 58.7 588.4 58.8 589.4 58.7 590.4 58.5 591.4 58.3 592.4 58.3 593.4 58.1 594.4 57.9 595.4 57.9 596.4 57.9 597.4 58 598.4 58 599.4 57.9 600.4 57.9 601.4 58 602.4 57.8 603.4 57.9 604.4 57.9 605.4 57.5 606.4 57.5 607.4 57.6 608.4 57.5 609.4 57.7 610.4 57.5 611.4 57.9 612.4 58.2 613.4 58.2 614.4 58.1 615.4 58.2 616.4 58.2 617.4 58.4 618.4 58.3 619.4 58.3 620.4 58.4 621.4 58.1 622.4 58 623.4 57.9 624.4 57.9 625.4 58 626.4 57.9 627.4 57.6 628.4 57.6 629.4 57.5 630.4 57.4 631.4 57.5 632.4 57.6 633.4 57.8 634.4 57.9 635.4 58.1 636.4 58.2 637.4 58.1 638.4 58 639.4 57.8 640.4 57.8 641.4 58.1 642.4 58.3 643.4 58.4 644.4 58.3 645.4 58 646.4 57.9 647.4 57.9 648.4 58.1 649.4 58.3 650.4 58.2 651.4 58 652.4 58.1 653.4 58.3 654.4 58.2 655.4 58.1 656.4 58.1 657.4 58 658.4 57.9 659.4 57.9 660.4 57.9 661.4 58.3 662.4 58.3 663.4 58.3 664.4 58.4 665.4 58.6 666.4 58.5 667.4 58.4 668.4 58.2 669.4 58.2 670.4 58.1 671.4 58.1 672.4 58.1 673.4 58.1 674.4 58.2 675.4 58.2 676.4 58.2 677.4 58.3 678.4 58.4 679.4 58.7 680.4 58.6 681.4 58.4 682.4 58.4 683.4 58.4 684.4 58.3 685.4 58.1 686.4 57.8 687.4 57.8 688.4 58.1 689.4 57.9 690.4 57.6 691.4 57.6 692.4 57.5 693.4 57.2 694.4 57.1 695.4 57.4 696.4 57.8 697.4 57.9 698.4 57.9 699.4 58 700.4 57.9 701.4 57.6 702.4 57.7 703.4 57.7 704.4 57.7 705.4 57.9 706.4 58 707.4 58 708.4 57.9 709.4 58.1 710.4 58.3 711.4 57.9 712.4 57.7 713.4 57.9 714.4 58 715.4 57.9 716.4 57.7 717.4 57.8 718.4 57.7 719.4 57.6 720.4 57.7 721.4 57.9 722.4 58.1 723.4 58.1 724.4 58.1 725.4 58.1 726.4 58.1 727.4 58 728.4 57.8 729.4 57.9 730.4 58.1 731.4 58 732.4 58 733.4 58.1 734.4 58.1 735.4 58.2 736.4 58.3 737.4 58.2 738.4 58.7 739.4 58.9 740.4 58.7 741.4 58.5 742.4 58.6 743.4 58.5 744.4 58.2 745.4 58.2 746.4 58.3 747.4 58.4 748.4 58.4 749.4 58.4 750.4 58.3 751.4 58.3 752.4 58.3 753.4 58.3 754.4 58.3 755.4 58.3 756.4 58.3 757.4 58.5 758.4 58.3 759.4 58.2 760.4 58.4 761.4 58.3 762.4 58.3 763.4 58.3 764.4 58.2 765.4 58.1 766.4 57.9 767.4 58 768.4 58 769.4 57.8 770.4 58 771.4 58.3 772.4 58.2" fill="none" stroke="#0000ff" stroke-width="2.6" stroke-linejoin="round" stroke-linecap="round" clip-path="url(#cb)"/>
<path d="M428.4 77.2L429.4 77.2 430.4 77.1 431.4 77.3 432.4 77.5 433.4 77.8 434.4 78 435.4 78 436.4 77.8 437.4 77.6 438.4 77.5 439.4 77.5 440.4 77.6 441.4 77.6 442.4 77.4 443.4 77.5 444.4 77.5 445.4 77.6 446.4 77.8 447.4 77.8 448.4 77.6 449.4 77.3 450.4 77.1 451.4 77.2 452.4 77.2 453.4 77.1 454.4 77.4 455.4 77.6 456.4 77.4 457.4 77.4 458.4 77.5 459.4 77.7 460.4 77.7 461.4 77.8 462.4 78 463.4 77.8 464.4 77.6 465.4 77.3 466.4 77.1 467.4 77.3 468.4 77.4 469.4 77.5 470.4 77.7 471.4 78 472.4 77.9 473.4 77.6 474.4 77.5 475.4 77.5 476.4 77.8 477.4 77.9 478.4 77.7 479.4 77.3 480.4 77.2 481.4 77.3 482.4 77.4 483.4 77.5 484.4 77.8 485.4 78 486.4 78 487.4 77.8 488.4 77.6 489.4 77.7 490.4 77.7 491.4 77.6 492.4 77.5 493.4 77.5 494.4 77.7 495.4 77.7 496.4 77.7 497.4 77.6 498.4 77.5 499.4 77.5 500.4 77.4 501.4 77.3 502.4 77.6 503.4 77.9 504.4 78 505.4 77.9 506.4 77.7 507.4 77.4 508.4 77.2 509.4 77.4 510.4 77.7 511.4 77.9 512.4 78 513.4 78.1 514.4 78 515.4 78 516.4 78 517.4 78.1 518.4 78.1 519.4 78 520.4 77.9 521.4 77.8 522.4 77.7 523.4 77.6 524.4 77.6 525.4 77.3 526.4 77.6 527.4 78 528.4 77.9 529.4 77.9 530.4 78.2 531.4 78.4 532.4 78.3 533.4 78.2 534.4 78.1 535.4 78.2 536.4 78.4 537.4 78.2 538.4 78 539.4 78 540.4 78.2 541.4 78.3 542.4 78.3 543.4 78.1 544.4 77.9 545.4 77.9 546.4 77.7 547.4 77.4 548.4 77.1 549.4 77 550.4 77 551.4 77 552.4 77 553.4 77.1 554.4 77.2 555.4 77.1 556.4 77.2 557.4 77.2 558.4 77.2 559.4 76.9 560.4 77 561.4 77 562.4 77.3 563.4 77.5 564.4 77.4 565.4 77.3 566.4 77.3 567.4 77.4 568.4 77.4 569.4 77.2 570.4 77 571.4 77 572.4 77.3 573.4 77.3 574.4 77.3 575.4 77.2 576.4 77.2 577.4 77.5 578.4 77.6 579.4 77.7 580.4 77.8 581.4 77.9 582.4 77.9 583.4 78 584.4 78 585.4 77.8 586.4 77.6 587.4 77.3 588.4 76.9 589.4 77.1 590.4 77.2 591.4 77.3 592.4 77.3 593.4 77.3 594.4 77.5 595.4 77.8 596.4 77.9 597.4 77.7 598.4 77.6 599.4 77.7 600.4 77.6 601.4 77.7 602.4 77.6 603.4 77.5 604.4 77.8 605.4 77.8 606.4 77.6 607.4 77.8 608.4 77.8 609.4 77.7 610.4 77.4 611.4 77.1 612.4 77.2 613.4 77.4 614.4 77.7 615.4 77.8 616.4 77.7 617.4 77.5 618.4 77.5 619.4 77.4 620.4 77.4 621.4 77.3 622.4 77.2 623.4 77.3 624.4 77.5 625.4 77.6 626.4 77.3 627.4 77.1 628.4 77 629.4 76.9 630.4 77 631.4 77.1 632.4 77.4 633.4 77.4 634.4 77.2 635.4 77.2 636.4 77.4 637.4 77.5 638.4 77.4 639.4 77.3 640.4 77.3 641.4 77.5 642.4 77.5 643.4 77.3 644.4 77.3 645.4 77.5 646.4 77.5 647.4 77.6 648.4 77.7 649.4 77.8 650.4 77.9 651.4 77.8 652.4 77.7 653.4 77.5 654.4 77.4 655.4 77.6 656.4 77.6 657.4 77.6 658.4 77.5 659.4 77.3 660.4 77.2 661.4 77.3 662.4 77.3 663.4 77.2 664.4 77.3 665.4 77.5 666.4 77.5 667.4 77.6 668.4 77.6 669.4 77.8 670.4 77.7 671.4 77.7 672.4 77.5 673.4 77.5 674.4 77.7 675.4 77.5 676.4 77.5 677.4 77.4 678.4 77.4 679.4 77.6 680.4 77.7 681.4 77.6 682.4 77.6 683.4 77.4 684.4 77.4 685.4 77.5 686.4 77.8 687.4 78 688.4 77.8 689.4 77.9 690.4 77.8 691.4 77.3 692.4 77.2 693.4 77.4 694.4 77.5 695.4 77.6 696.4 77.8 697.4 77.7 698.4 77.5 699.4 77.5 700.4 77.7 701.4 77.8 702.4 77.9 703.4 77.8 704.4 77.7 705.4 77.9 706.4 77.9 707.4 77.6 708.4 77.3 709.4 77.3 710.4 77.4 711.4 77.5 712.4 77.5 713.4 77.7 714.4 77.8 715.4 77.8 716.4 77.7 717.4 77.8 718.4 77.5 719.4 77.1 720.4 77.2 721.4 77.3 722.4 77.3 723.4 77.1 724.4 77 725.4 76.9 726.4 77 727.4 76.9 728.4 76.8 729.4 76.9 730.4 77.1 731.4 76.9 732.4 76.9 733.4 77.1 734.4 77.2 735.4 77.4 736.4 77.6 737.4 77.8 738.4 77.8 739.4 77.6 740.4 77.6 741.4 77.7 742.4 78 743.4 78 744.4 77.9 745.4 77.5 746.4 77.2 747.4 77.5 748.4 77.4 749.4 77.4 750.4 77.4 751.4 77.5 752.4 77.4 753.4 77.2 754.4 77.4 755.4 77.3 756.4 77.4 757.4 77.7 758.4 77.7 759.4 77.4 760.4 77.2 761.4 77.4 762.4 77.6 763.4 77.5 764.4 77.3 765.4 77.3 766.4 77.3 767.4 77.6 768.4 77.8 769.4 77.8 770.4 77.6 771.4 77.7 772.4 77.7" fill="none" stroke="#80ffff" stroke-width="2.6" stroke-linejoin="round" stroke-linecap="round" clip-path="url(#cb)"/>
<mask id="mc" maskUnits="userSpaceOnUse" x="0" y="0" width="787" height="533"><rect width="787" height="533" fill="#fff"/><path d="M61.1 467.3L61.5 467.3 61.9 467.3 62.2 467.3 62.6 467.3 63 467.3 63.4 467.3 63.8 467.3 64.2 467.3 64.5 467.3 64.9 467.3 65.3 467.3 65.7 467.3 66.1 467.3 66.5 467.3 66.8 467.3 67.2 467.3 67.6 467.3 68 467.3 68.4 467.3 68.8 467.3 69.1 467.3 69.5 467.3 69.9 467.3 70.3 467.3 70.7 467.3 71.1 467.3 71.4 467.3 71.8 467.3 72.2 467.3 72.6 467.3 73 467.3 73.4 467.3 73.7 467.3 74.1 467.3 74.5 467.3 74.9 467.3 75.3 467.3 75.7 467.3 76 467.3 76.4 467.3 76.8 467.3 77.2 467.3 77.6 467.3 78 467.3 78.3 467.3 78.7 467.3 79.1 467.3 79.5 467.3 79.9 467.3 80.2 467.3 80.6 467.3 81 467.3 81.4 467.3 81.8 467.3 82.2 467.3 82.5 467.3 82.9 467.3 83.3 467.3 83.7 467.3 84.1 467.3 84.5 467.3 84.8 467.3 85.2 467.3 85.6 467.3 86 467.3 86.4 467.3 86.8 467.3 87.1 467.3 87.5 467.3 87.9 467.3 88.3 467.3 88.7 467.3 89.1 467.3 89.4 467.3 89.8 467.3 90.2 467.3 90.6 467.3 91 467.3 91.4 467.3 91.7 467.3 92.1 467.3 92.5 467.3 92.9 467.3 93.3 467.3 93.7 467.3 94 467.3 94.4 467.3 94.8 467.3 95.2 467.3 95.6 467.3 96 467.3 96.3 467.3 96.7 467.3 97.1 467.3 97.5 467.3 97.9 467.3 98.3 467.3 98.6 467.3 99 467.3 99.4 467.3 99.8 467.3 100.2 467.3 100.5 467.3 100.9 467.3 101.3 467.3 101.7 467.3 102.1 467.3 102.5 467.3 102.8 467.3 103.2 467.3 103.6 467.3 104 467.3 104.4 467.3 104.8 467.3 105.1 467.3 105.5 467.3 105.9 467.3 106.3 467.3 106.7 467.3 107.1 467.3 107.4 467.3 107.8 467.3 108.2 467.3 108.6 467.3 109 467.3 109.4 467.3 109.7 467.3 110.1 467.3 110.5 467.3 110.9 467.3 111.3 467.3 111.7 467.3 112 467.3 112.4 467.3 112.8 467.3 113.2 467.3 113.6 467.3 114 467.3 114.3 467.3 114.7 467.3 115.1 467.3 115.5 467.3 115.9 467.3 116.3 467.3 116.6 467.3 117 467.3 117.4 467.3 117.8 467.3 118.2 467.3 118.5 467.3 118.9 467.3 119.3 467.3 119.7 467.3 120.1 467.3 120.5 467.3 120.8 467.3 121.2 467.3 121.6 467.3 122 467.3 122.4 467.3 122.8 467.3 123.1 467.3 123.5 467.3 123.9 467.3 124.3 467.3 124.7 467.3 125.1 467.3 125.4 467.3 125.8 467.3 126.2 467.3 126.6 467.3 127 467.3 127.4 467.3 127.7 467.3 128.1 467.3 128.5 467.3 128.9 467.3 129.3 467.3 129.7 467.3 130 467.3 130.4 467.3 130.8 467.3 131.2 467.3 131.6 467.3 132 467.3 132.3 467.3 132.7 467.3 133.1 467.3 133.5 467.3 133.9 467.3 134.3 467.3 134.6 467.3 135 467.3 135.4 467.3 135.8 467.3 136.2 467.3 136.6 467.3 136.9 467.3 137.3 467.3 137.7 467.3 138.1 467.3 138.5 467.3 138.8 467.3 139.2 467.3 139.6 467.3 140 467.3 140.4 467.3 140.8 467.3 141.1 467.3 141.5 467.3 141.9 467.3 142.3 467.3 142.7 467.3 143.1 467.3 143.4 467.3 143.8 467.3 144.2 467.3 144.6 467.3 145 467.3 145.4 467.3 145.7 467.3 146.1 467.3 146.5 467.3 146.9 467.3 147.3 467.3 147.7 467.3 148 467.3 148.4 467.3 148.8 467.3 149.2 467.3 149.6 467.3 150 467.3 150.3 467.3 150.7 467.3 151.1 467.3 151.5 467.3 151.9 467.3 152.3 467.3 152.6 467.3 153 467.3 153.4 467.3 153.8 467.3 154.2 467.3 154.6 467.3 154.9 467.3 155.3 467.3 155.7 467.2 156.1 467.2 156.5 467.2 156.8 467.2 157.2 467.2 157.6 467.2 158 467.2 158.4 467.2 158.8 467.2 159.1 467.2 159.5 467.2 159.9 467.1 160.3 467.1 160.7 467.1 161.1 467.1 161.4 467.1 161.8 467.1 162.2 467 162.6 467 163 467 163.4 466.9 163.7 466.9 164.1 466.9 164.5 466.8 164.9 466.8 165.3 466.8 165.7 466.7 166 466.7 166.4 466.6 166.8 466.5 167.2 466.5 167.6 466.4 168 466.3 168.3 466.3 168.7 466.2 169.1 466.1 169.5 466 169.9 465.9 170.3 465.8 170.6 465.6 171 465.5 171.4 465.4 171.8 465.2 172.2 465.1 172.6 464.9 172.9 464.7 173.3 464.5 173.7 464.3 174.1 464.1 174.5 463.9 174.9 463.7 175.2 463.4 175.6 463.1 176 462.9 176.4 462.6 176.8 462.2 177.1 461.9 177.5 461.6 177.9 461.2 178.3 460.8 178.7 460.4 179.1 460 179.4 459.5 179.8 459 180.2 458.5 180.6 458 181 457.5 181.4 456.9 181.7 456.3 182.1 455.7 182.5 455 182.9 454.3 183.3 453.6 183.7 452.9 184 452.1 184.4 451.3 184.8 450.5 185.2 449.6 185.6 448.7 186 447.8 186.3 446.8 186.7 445.8 187.1 444.7 187.5 443.7 187.9 442.5 188.3 441.4 188.6 440.2 189 438.9 189.4 437.7 189.8 436.4 190.2 435 190.6 433.6 190.9 432.2 191.3 430.7 191.7 429.2 192.1 427.6 192.5 426.1 192.9 424.4 193.2 422.7 193.6 421 194 419.3 194.4 417.5 194.8 415.7 195.2 413.8 195.5 411.9 195.9 409.9 196.3 408 196.7 405.9 197.1 403.9 197.4 401.8 197.8 399.7 198.2 397.5 198.6 395.3 199 393.1 199.4 390.9 199.7 388.6 200.1 386.3 200.5 384 200.9 381.6 201.3 379.3 201.7 376.9 202 374.5 202.4 372 202.8 369.6 203.2 367.1 203.6 364.6 204 362.2 204.3 359.7 204.7 357.2 205.1 354.6 205.5 352.1 205.9 349.6 206.3 347.1 206.6 344.6 207 342.1 207.4 339.5 207.8 337 208.2 334.5 208.6 332.1 208.9 329.6 209.3 327.1 209.7 324.7 210.1 322.3 210.5 319.9 210.9 317.5 211.2 315.1 211.6 312.8 212 310.5 212.4 308.2 212.8 306 213.2 303.7 213.5 301.6 213.9 299.4 214.3 297.3 214.7 295.2 215.1 293.2 215.4 291.2 215.8 289.2 216.2 287.3 216.6 285.5 217 283.7 217.4 281.9 217.7 280.2 218.1 278.5 218.5 276.8 218.9 275.3 219.3 273.7 219.7 272.3 220 270.8 220.4 269.4 220.8 268.1 221.2 266.8 221.6 265.6 222 264.4 222.3 263.3 222.7 262.2 223.1 261.2 223.5 260.3 223.9 259.3 224.3 258.5 224.6 257.7 225 256.9 225.4 256.2 225.8 255.5 226.2 254.9 226.6 254.3 226.9 253.8 227.3 253.3 227.7 252.8 228.1 252.4 228.5 252.1 228.9 251.7 229.2 251.5 229.6 251.2 230 251 230.4 250.8 230.8 250.7 231.2 250.6 231.5 250.5 231.9 250.4 232.3 250.3 232.7 250.3 233.1 250.3 233.4 250.3 233.8 250.3 234.2 250.3 234.6 250.3 235 250.4 235.4 250.5 235.7 250.6 236.1 250.7 236.5 250.8 236.9 251 237.3 251.2 237.7 251.5 238 251.7 238.4 252.1 238.8 252.4 239.2 252.8 239.6 253.3 240 253.8 240.3 254.3 240.7 254.9 241.1 255.5 241.5 256.2 241.9 256.9 242.3 257.7 242.6 258.5 243 259.3 243.4 260.3 243.8 261.2 244.2 262.2 244.6 263.3 244.9 264.4 245.3 265.6 245.7 266.8 246.1 268.1 246.5 269.4 246.9 270.8 247.2 272.3 247.6 273.7 248 275.3 248.4 276.8 248.8 278.5 249.2 280.2 249.5 281.9 249.9 283.7 250.3 285.5 250.7 287.3 251.1 289.2 251.5 291.2 251.8 293.2 252.2 295.2 252.6 297.3 253 299.4 253.4 301.6 253.7 303.7 254.1 306 254.5 308.2 254.9 310.5 255.3 312.8 255.7 315.1 256 317.5 256.4 319.9 256.8 322.3 257.2 324.7 257.6 327.1 258 329.6 258.3 332.1 258.7 334.5 259.1 337 259.5 339.5 259.9 342.1 260.3 344.6 260.6 347.1 261 349.6 261.4 352.1 261.8 354.6 262.2 357.2 262.6 359.7 262.9 362.2 263.3 364.6 263.7 367.1 264.1 369.6 264.5 372 264.9 374.5 265.2 376.9 265.6 379.3 266 381.6 266.4 384 266.8 386.3 267.2 388.6 267.5 390.9 267.9 393.1 268.3 395.3 268.7 397.5 269.1 399.7 269.5 401.8 269.8 403.9 270.2 405.9 270.6 408 271 409.9 271.4 411.9 271.8 413.8 272.1 415.7 272.5 417.5 272.9 419.3 273.3 421 273.7 422.7 274 424.4 274.4 426.1 274.8 427.6 275.2 429.2 275.6 430.7 276 432.2 276.3 433.6 276.7 435 277.1 436.4 277.5 437.7 277.9 438.9 278.3 440.2 278.6 441.4 279 442.5 279.4 443.7 279.8 444.7 280.2 445.8 280.6 446.8 280.9 447.8 281.3 448.7 281.7 449.6 282.1 450.5 282.5 451.3 282.9 452.1 283.2 452.9 283.6 453.6 284 454.3 284.4 455 284.8 455.7 285.2 456.3 285.5 456.9 285.9 457.5 286.3 458 286.7 458.5 287.1 459 287.5 459.5 287.8 460 288.2 460.4 288.6 460.8 289 461.2 289.4 461.6 289.8 461.9 290.1 462.2 290.5 462.6 290.9 462.9 291.3 463.1 291.7 463.4 292 463.7 292.4 463.9 292.8 464.1 293.2 464.3 293.6 464.5 294 464.7 294.3 464.9 294.7 465.1 295.1 465.2 295.5 465.4 295.9 465.5 296.3 465.6 296.6 465.8 297 465.9 297.4 466 297.8 466.1 298.2 466.2 298.6 466.3 298.9 466.3 299.3 466.4 299.7 466.5 300.1 466.5 300.5 466.6 300.9 466.7 301.2 466.7 301.6 466.8 302 466.8 302.4 466.8 302.8 466.9 303.2 466.9 303.5 466.9 303.9 467 304.3 467 304.7 467 305.1 467.1 305.5 467.1 305.8 467.1 306.2 467.1 306.6 467.1 307 467.1 307.4 467.2 307.8 467.2 308.1 467.2 308.5 467.2 308.9 467.2 309.3 467.2 309.7 467.2 310.1 467.2 310.4 467.2 310.8 467.2 311.2 467.2 311.6 467.3 312 467.3 312.3 467.3 312.7 467.3 313.1 467.3 313.5 467.3 313.9 467.3 314.3 467.3 314.6 467.3 315 467.3 315.4 467.3 315.8 467.3 316.2 467.3 316.6 467.3 316.9 467.3 317.3 467.3 317.7 467.3 318.1 467.3 318.5 467.3 318.9 467.3 319.2 467.3 319.6 467.3 320 467.3 320.4 467.3 320.8 467.3 321.2 467.3 321.5 467.3 321.9 467.3 322.3 467.3 322.7 467.3 323.1 467.3 323.5 467.3 323.8 467.3 324.2 467.3 324.6 467.3 325 467.3 325.4 467.3 325.8 467.3 326.1 467.3 326.5 467.3 326.9 467.3 327.3 467.3 327.7 467.3 328.1 467.3 328.4 467.3 328.8 467.3 329.2 467.3 329.6 467.3 330 467.3 330.3 467.3 330.7 467.3 331.1 467.3 331.5 467.3 331.9 467.3 332.3 467.3 332.6 467.3 333 467.3 333.4 467.3 333.8 467.3 334.2 467.3 334.6 467.3 334.9 467.3 335.3 467.3 335.7 467.3 336.1 467.3 336.5 467.3 336.9 467.3 337.2 467.3 337.6 467.3 338 467.3 338.4 467.3 338.8 467.3 339.2 467.3 339.5 467.3 339.9 467.3 340.3 467.3 340.7 467.3 341.1 467.3 341.5 467.3 341.8 467.3 342.2 467.3 342.6 467.3 343 467.3 343.4 467.3 343.8 467.3 344.1 467.3 344.5 467.3 344.9 467.3 345.3 467.3 345.7 467.3 346.1 467.3 346.4 467.3 346.8 467.3 347.2 467.3 347.6 467.3 348 467.3 348.4 467.3 348.7 467.3 349.1 467.3 349.5 467.3 349.9 467.3 350.3 467.3 350.6 467.3 351 467.3 351.4 467.3 351.8 467.3 352.2 467.3 352.6 467.3 352.9 467.3 353.3 467.3 353.7 467.3 354.1 467.3 354.5 467.3 354.9 467.3 355.2 467.3 355.6 467.3 356 467.3 356.4 467.3 356.8 467.3 357.2 467.3 357.5 467.3 357.9 467.3 358.3 467.3 358.7 467.3 359.1 467.3 359.5 467.3 359.8 467.3 360.2 467.3 360.6 467.3 361 467.3 361.4 467.3 361.8 467.3 362.1 467.3 362.5 467.3 362.9 467.3 363.3 467.3 363.7 467.3 364.1 467.3 364.4 467.3 364.8 467.3 365.2 467.3 365.6 467.3 366 467.3 366.4 467.3 366.7 467.3 367.1 467.3 367.5 467.3 367.9 467.3 368.3 467.3 368.6 467.3 369 467.3 369.4 467.3 369.8 467.3 370.2 467.3 370.6 467.3 370.9 467.3 371.3 467.3 371.7 467.3 372.1 467.3 372.5 467.3 372.9 467.3 373.2 467.3 373.6 467.3 374 467.3 374.4 467.3 374.8 467.3 375.2 467.3 375.5 467.3 375.9 467.3 376.3 467.3 376.7 467.3 377.1 467.3 377.5 467.3 377.8 467.3 378.2 467.3 378.6 467.3 379 467.3 379.4 467.3 379.8 467.3 380.1 467.3 380.5 467.3 380.9 467.3 381.3 467.3 381.7 467.3 382.1 467.3 382.4 467.3 382.8 467.3 383.2 467.3 383.6 467.3 384 467.3 384.4 467.3 384.7 467.3 385.1 467.3 385.5 467.3 385.9 467.3 386.3 467.3 386.6 467.3 387 467.3 387.4 467.3 387.8 467.3 388.2 467.3 388.6 467.3 388.9 467.3 389.3 467.3 389.7 467.3 390.1 467.3 390.5 467.3 390.9 467.3 391.2 467.3 391.6 467.3 392 467.3 392.4 467.3 392.8 467.3 393.2 467.3 393.5 467.3 393.9 467.3 394.3 467.3 394.7 467.3 395.1 467.3 395.5 467.3 395.8 467.3 396.2 467.3 396.6 467.3 397 467.3 397.4 467.3 397.8 467.3 398.1 467.3 398.5 467.3 398.9 467.3 399.3 467.3 399.7 467.3 400.1 467.3 400.4 467.3 400.8 467.3 401.2 467.3 401.6 467.3 402 467.3 402.4 467.3 402.7 467.3 403.1 467.3 403.5 467.3 403.9 467.3 404.3 467.3 404.7 467.3 405 467.3 405.4 467.3 405.8 467.3" fill="none" stroke="#000" stroke-width="3.6" stroke-linejoin="round"/></mask>
<g mask="url(#mc)">
<path d="M61.1 467.3L61.5 467.3 61.9 467.3 62.2 467.3 62.6 467.3 63 467.3 63.4 467.3 63.8 467.3 64.2 467.3 64.5 467.3 64.9 467.3 65.3 467.3 65.7 467.3 66.1 467.3 66.5 467.3 66.8 467.3 67.2 467.3 67.6 467.3 68 467.3 68.4 467.3 68.8 467.3 69.1 467.3 69.5 467.3 69.9 467.3 70.3 467.3 70.7 467.3 71.1 467.3 71.4 467.3 71.8 467.3 72.2 467.3 72.6 467.3 73 467.3 73.4 467.3 73.7 467.3 74.1 467.3 74.5 467.3 74.9 467.3 75.3 467.3 75.7 467.3 76 467.3 76.4 467.3 76.8 467.3 77.2 467.3 77.6 467.3 78 467.3 78.3 467.3 78.7 467.3 79.1 467.3 79.5 467.3 79.9 467.3 80.2 467.3 80.6 467.3 81 467.3 81.4 467.3 81.8 467.3 82.2 467.3 82.5 467.3 82.9 467.3 83.3 467.3 83.7 467.3 84.1 467.3 84.5 467.3 84.8 467.3 85.2 467.3 85.6 467.3 86 467.3 86.4 467.3 86.8 467.3 87.1 467.3 87.5 467.3 87.9 467.3 88.3 467.3 88.7 467.3 89.1 467.3 89.4 467.3 89.8 467.3 90.2 467.3 90.6 467.3 91 467.3 91.4 467.3 91.7 467.3 92.1 467.3 92.5 467.3 92.9 467.3 93.3 467.3 93.7 467.3 94 467.3 94.4 467.3 94.8 467.3 95.2 467.3 95.6 467.3 96 467.3 96.3 467.3 96.7 467.3 97.1 467.3 97.5 467.3 97.9 467.3 98.3 467.3 98.6 467.3 99 467.3 99.4 467.3 99.8 467.3 100.2 467.3 100.5 467.3 100.9 467.3 101.3 467.3 101.7 467.3 102.1 467.3 102.5 467.3 102.8 467.3 103.2 467.3 103.6 467.3 104 467.3 104.4 467.3 104.8 467.3 105.1 467.3 105.5 467.3 105.9 467.3 106.3 467.3 106.7 467.3 107.1 467.3 107.4 467.3 107.8 467.3 108.2 467.3 108.6 467.3 109 467.3 109.4 467.3 109.7 467.3 110.1 467.3 110.5 467.3 110.9 467.3 111.3 467.3 111.7 467.3 112 467.3 112.4 467.3 112.8 467.3 113.2 467.3 113.6 467.3 114 467.3 114.3 467.3 114.7 467.3 115.1 467.3 115.5 467.3 115.9 467.3 116.3 467.3 116.6 467.3 117 467.3 117.4 467.3 117.8 467.3 118.2 467.3 118.5 467.3 118.9 467.3 119.3 467.3 119.7 467.3 120.1 467.3 120.5 467.3 120.8 467.3 121.2 467.3 121.6 467.3 122 467.3 122.4 467.3 122.8 467.3 123.1 467.3 123.5 467.3 123.9 467.3 124.3 467.3 124.7 467.3 125.1 467.3 125.4 467.3 125.8 467.3 126.2 467.3 126.6 467.3 127 467.3 127.4 467.3 127.7 467.3 128.1 467.3 128.5 467.3 128.9 467.3 129.3 467.3 129.7 467.3 130 467.3 130.4 467.3 130.8 467.3 131.2 467.3 131.6 467.3 132 467.3 132.3 467.3 132.7 467.3 133.1 467.3 133.5 467.3 133.9 467.3 134.3 467.3 134.6 467.3 135 467.3 135.4 467.3 135.8 467.3 136.2 467.3 136.6 467.3 136.9 467.3 137.3 467.3 137.7 467.3 138.1 467.3 138.5 467.3 138.8 467.3 139.2 467.3 139.6 467.3 140 467.3 140.4 467.3 140.8 467.3 141.1 467.3 141.5 467.3 141.9 467.3 142.3 467.3 142.7 467.3 143.1 467.3 143.4 467.3 143.8 467.3 144.2 467.3 144.6 467.3 145 467.3 145.4 467.3 145.7 467.3 146.1 467.3 146.5 467.3 146.9 467.3 147.3 467.3 147.7 467.3 148 467.3 148.4 467.3 148.8 467.3 149.2 467.3 149.6 467.3 150 467.3 150.3 467.3 150.7 467.3 151.1 467.3 151.5 467.3 151.9 467.3 152.3 467.3 152.6 467.2 153 467.2 153.4 467.2 153.8 467.2 154.2 467.2 154.6 467.2 154.9 467.2 155.3 467.2 155.7 467.2 156.1 467.2 156.5 467.2 156.8 467.1 157.2 467.1 157.6 467.1 158 467.1 158.4 467.1 158.8 467 159.1 467 159.5 467 159.9 467 160.3 466.9 160.7 466.9 161.1 466.9 161.4 466.8 161.8 466.8 162.2 466.7 162.6 466.7 163 466.6 163.4 466.6 163.7 466.5 164.1 466.5 164.5 466.4 164.9 466.3 165.3 466.2 165.7 466.1 166 466 166.4 465.9 166.8 465.8 167.2 465.7 167.6 465.6 168 465.5 168.3 465.3 168.7 465.2 169.1 465 169.5 464.9 169.9 464.7 170.3 464.5 170.6 464.3 171 464.1 171.4 463.8 171.8 463.6 172.2 463.3 172.6 463.1 172.9 462.8 173.3 462.5 173.7 462.2 174.1 461.8 174.5 461.5 174.9 461.1 175.2 460.7 175.6 460.3 176 459.9 176.4 459.4 176.8 458.9 177.1 458.4 177.5 457.9 177.9 457.3 178.3 456.8 178.7 456.2 179.1 455.5 179.4 454.9 179.8 454.2 180.2 453.4 180.6 452.7 181 451.9 181.4 451.1 181.7 450.3 182.1 449.4 182.5 448.5 182.9 447.5 183.3 446.5 183.7 445.5 184 444.5 184.4 443.4 184.8 442.2 185.2 441.1 185.6 439.9 186 438.6 186.3 437.3 186.7 436 187.1 434.7 187.5 433.3 187.9 431.8 188.3 430.3 188.6 428.8 189 427.3 189.4 425.6 189.8 424 190.2 422.3 190.6 420.6 190.9 418.8 191.3 417 191.7 415.2 192.1 413.3 192.5 411.4 192.9 409.4 193.2 407.5 193.6 405.4 194 403.4 194.4 401.3 194.8 399.1 195.2 397 195.5 394.8 195.9 392.6 196.3 390.3 196.7 388 197.1 385.7 197.4 383.4 197.8 381.1 198.2 378.7 198.6 376.3 199 373.9 199.4 371.4 199.7 369 200.1 366.5 200.5 364 200.9 361.5 201.3 359 201.7 356.5 202 354 202.4 351.5 202.8 349 203.2 346.5 203.6 343.9 204 341.4 204.3 338.9 204.7 336.4 205.1 333.9 205.5 331.4 205.9 329 206.3 326.5 206.6 324.1 207 321.7 207.4 319.3 207.8 316.9 208.2 314.5 208.6 312.2 208.9 309.9 209.3 307.6 209.7 305.4 210.1 303.2 210.5 301 210.9 298.9 211.2 296.8 211.6 294.7 212 292.7 212.4 290.7 212.8 288.8 213.2 286.9 213.5 285 213.9 283.2 214.3 281.5 214.7 279.8 215.1 278.1 215.4 276.5 215.8 274.9 216.2 273.4 216.6 272 217 270.5 217.4 269.2 217.7 267.9 218.1 266.6 218.5 265.4 218.9 264.3 219.3 263.2 219.7 262.1 220 261.1 220.4 260.2 220.8 259.3 221.2 258.5 221.6 257.7 222 256.9 222.3 256.2 222.7 255.6 223.1 255 223.5 254.4 223.9 253.9 224.3 253.5 224.6 253 225 252.7 225.4 252.3 225.8 252 226.2 251.7 226.6 251.5 226.9 251.3 227.3 251.1 227.7 250.9 228.1 250.8 228.5 250.7 228.9 250.6 229.2 250.5 229.6 250.5 230 250.4 230.4 250.4 230.8 250.4 231.2 250.3 231.5 250.3 231.9 250.3 232.3 250.3 232.7 250.3 233.1 250.3 233.4 250.3 233.8 250.3 234.2 250.3 234.6 250.3 235 250.3 235.4 250.3 235.7 250.3 236.1 250.4 236.5 250.4 236.9 250.4 237.3 250.5 237.7 250.5 238 250.6 238.4 250.7 238.8 250.8 239.2 250.9 239.6 251.1 240 251.3 240.3 251.5 240.7 251.7 241.1 252 241.5 252.3 241.9 252.7 242.3 253 242.6 253.5 243 253.9 243.4 254.4 243.8 255 244.2 255.6 244.6 256.2 244.9 256.9 245.3 257.7 245.7 258.5 246.1 259.3 246.5 260.2 246.9 261.1 247.2 262.1 247.6 263.2 248 264.3 248.4 265.4 248.8 266.6 249.2 267.9 249.5 269.2 249.9 270.5 250.3 272 250.7 273.4 251.1 274.9 251.5 276.5 251.8 278.1 252.2 279.8 252.6 281.5 253 283.2 253.4 285 253.7 286.9 254.1 288.8 254.5 290.7 254.9 292.7 255.3 294.7 255.7 296.8 256 298.9 256.4 301 256.8 303.2 257.2 305.4 257.6 307.6 258 309.9 258.3 312.2 258.7 314.5 259.1 316.9 259.5 319.3 259.9 321.7 260.3 324.1 260.6 326.5 261 329 261.4 331.4 261.8 333.9 262.2 336.4 262.6 338.9 262.9 341.4 263.3 343.9 263.7 346.5 264.1 349 264.5 351.5 264.9 354 265.2 356.5 265.6 359 266 361.5 266.4 364 266.8 366.5 267.2 369 267.5 371.4 267.9 373.9 268.3 376.3 268.7 378.7 269.1 381.1 269.5 383.4 269.8 385.7 270.2 388 270.6 390.3 271 392.6 271.4 394.8 271.8 397 272.1 399.1 272.5 401.3 272.9 403.4 273.3 405.4 273.7 407.5 274 409.4 274.4 411.4 274.8 413.3 275.2 415.2 275.6 417 276 418.8 276.3 420.6 276.7 422.3 277.1 424 277.5 425.6 277.9 427.3 278.3 428.8 278.6 430.3 279 431.8 279.4 433.3 279.8 434.7 280.2 436 280.6 437.3 280.9 438.6 281.3 439.9 281.7 441.1 282.1 442.2 282.5 443.4 282.9 444.5 283.2 445.5 283.6 446.5 284 447.5 284.4 448.5 284.8 449.4 285.2 450.3 285.5 451.1 285.9 451.9 286.3 452.7 286.7 453.4 287.1 454.2 287.5 454.9 287.8 455.5 288.2 456.2 288.6 456.8 289 457.3 289.4 457.9 289.8 458.4 290.1 458.9 290.5 459.4 290.9 459.9 291.3 460.3 291.7 460.7 292 461.1 292.4 461.5 292.8 461.8 293.2 462.2 293.6 462.5 294 462.8 294.3 463.1 294.7 463.3 295.1 463.6 295.5 463.8 295.9 464.1 296.3 464.3 296.6 464.5 297 464.7 297.4 464.9 297.8 465 298.2 465.2 298.6 465.3 298.9 465.5 299.3 465.6 299.7 465.7 300.1 465.8 300.5 465.9 300.9 466 301.2 466.1 301.6 466.2 302 466.3 302.4 466.4 302.8 466.5 303.2 466.5 303.5 466.6 303.9 466.6 304.3 466.7 304.7 466.7 305.1 466.8 305.5 466.8 305.8 466.9 306.2 466.9 306.6 466.9 307 467 307.4 467 307.8 467 308.1 467 308.5 467.1 308.9 467.1 309.3 467.1 309.7 467.1 310.1 467.1 310.4 467.2 310.8 467.2 311.2 467.2 311.6 467.2 312 467.2 312.3 467.2 312.7 467.2 313.1 467.2 313.5 467.2 313.9 467.2 314.3 467.2 314.6 467.3 315 467.3 315.4 467.3 315.8 467.3 316.2 467.3 316.6 467.3 316.9 467.3 317.3 467.3 317.7 467.3 318.1 467.3 318.5 467.3 318.9 467.3 319.2 467.3 319.6 467.3 320 467.3 320.4 467.3 320.8 467.3 321.2 467.3 321.5 467.3 321.9 467.3 322.3 467.3 322.7 467.3 323.1 467.3 323.5 467.3 323.8 467.3 324.2 467.3 324.6 467.3 325 467.3 325.4 467.3 325.8 467.3 326.1 467.3 326.5 467.3 326.9 467.3 327.3 467.3 327.7 467.3 328.1 467.3 328.4 467.3 328.8 467.3 329.2 467.3 329.6 467.3 330 467.3 330.3 467.3 330.7 467.3 331.1 467.3 331.5 467.3 331.9 467.3 332.3 467.3 332.6 467.3 333 467.3 333.4 467.3 333.8 467.3 334.2 467.3 334.6 467.3 334.9 467.3 335.3 467.3 335.7 467.3 336.1 467.3 336.5 467.3 336.9 467.3 337.2 467.3 337.6 467.3 338 467.3 338.4 467.3 338.8 467.3 339.2 467.3 339.5 467.3 339.9 467.3 340.3 467.3 340.7 467.3 341.1 467.3 341.5 467.3 341.8 467.3 342.2 467.3 342.6 467.3 343 467.3 343.4 467.3 343.8 467.3 344.1 467.3 344.5 467.3 344.9 467.3 345.3 467.3 345.7 467.3 346.1 467.3 346.4 467.3 346.8 467.3 347.2 467.3 347.6 467.3 348 467.3 348.4 467.3 348.7 467.3 349.1 467.3 349.5 467.3 349.9 467.3 350.3 467.3 350.6 467.3 351 467.3 351.4 467.3 351.8 467.3 352.2 467.3 352.6 467.3 352.9 467.3 353.3 467.3 353.7 467.3 354.1 467.3 354.5 467.3 354.9 467.3 355.2 467.3 355.6 467.3 356 467.3 356.4 467.3 356.8 467.3 357.2 467.3 357.5 467.3 357.9 467.3 358.3 467.3 358.7 467.3 359.1 467.3 359.5 467.3 359.8 467.3 360.2 467.3 360.6 467.3 361 467.3 361.4 467.3 361.8 467.3 362.1 467.3 362.5 467.3 362.9 467.3 363.3 467.3 363.7 467.3 364.1 467.3 364.4 467.3 364.8 467.3 365.2 467.3 365.6 467.3 366 467.3 366.4 467.3 366.7 467.3 367.1 467.3 367.5 467.3 367.9 467.3 368.3 467.3 368.6 467.3 369 467.3 369.4 467.3 369.8 467.3 370.2 467.3 370.6 467.3 370.9 467.3 371.3 467.3 371.7 467.3 372.1 467.3 372.5 467.3 372.9 467.3 373.2 467.3 373.6 467.3 374 467.3 374.4 467.3 374.8 467.3 375.2 467.3 375.5 467.3 375.9 467.3 376.3 467.3 376.7 467.3 377.1 467.3 377.5 467.3 377.8 467.3 378.2 467.3 378.6 467.3 379 467.3 379.4 467.3 379.8 467.3 380.1 467.3 380.5 467.3 380.9 467.3 381.3 467.3 381.7 467.3 382.1 467.3 382.4 467.3 382.8 467.3 383.2 467.3 383.6 467.3 384 467.3 384.4 467.3 384.7 467.3 385.1 467.3 385.5 467.3 385.9 467.3 386.3 467.3 386.6 467.3 387 467.3 387.4 467.3 387.8 467.3 388.2 467.3 388.6 467.3 388.9 467.3 389.3 467.3 389.7 467.3 390.1 467.3 390.5 467.3 390.9 467.3 391.2 467.3 391.6 467.3 392 467.3 392.4 467.3 392.8 467.3 393.2 467.3 393.5 467.3 393.9 467.3 394.3 467.3 394.7 467.3 395.1 467.3 395.5 467.3 395.8 467.3 396.2 467.3 396.6 467.3 397 467.3 397.4 467.3 397.8 467.3 398.1 467.3 398.5 467.3 398.9 467.3 399.3 467.3 399.7 467.3 400.1 467.3 400.4 467.3 400.8 467.3 401.2 467.3 401.6 467.3 402 467.3 402.4 467.3 402.7 467.3 403.1 467.3 403.5 467.3 403.9 467.3 404.3 467.3 404.7 467.3 405 467.3 405.4 467.3 405.8 467.3" fill="none" stroke="#000000" stroke-width="2.6" stroke-linejoin="round" stroke-linecap="round" clip-path="url(#cc)"/>
<path d="M61.1 467.3L61.5 467.3 61.9 467.3 62.2 467.3 62.6 467.3 63 467.3 63.4 467.3 63.8 467.3 64.2 467.3 64.5 467.3 64.9 467.3 65.3 467.3 65.7 467.3 66.1 467.3 66.5 467.3 66.8 467.3 67.2 467.3 67.6 467.3 68 467.3 68.4 467.3 68.8 467.3 69.1 467.3 69.5 467.3 69.9 467.3 70.3 467.3 70.7 467.3 71.1 467.3 71.4 467.3 71.8 467.3 72.2 467.3 72.6 467.3 73 467.3 73.4 467.3 73.7 467.3 74.1 467.3 74.5 467.3 74.9 467.3 75.3 467.3 75.7 467.3 76 467.3 76.4 467.3 76.8 467.3 77.2 467.3 77.6 467.3 78 467.3 78.3 467.3 78.7 467.3 79.1 467.3 79.5 467.3 79.9 467.3 80.2 467.3 80.6 467.3 81 467.3 81.4 467.3 81.8 467.3 82.2 467.3 82.5 467.3 82.9 467.3 83.3 467.3 83.7 467.3 84.1 467.3 84.5 467.3 84.8 467.3 85.2 467.3 85.6 467.3 86 467.3 86.4 467.3 86.8 467.3 87.1 467.3 87.5 467.3 87.9 467.3 88.3 467.3 88.7 467.3 89.1 467.3 89.4 467.3 89.8 467.3 90.2 467.3 90.6 467.3 91 467.3 91.4 467.3 91.7 467.3 92.1 467.3 92.5 467.3 92.9 467.3 93.3 467.3 93.7 467.3 94 467.3 94.4 467.3 94.8 467.3 95.2 467.3 95.6 467.3 96 467.3 96.3 467.3 96.7 467.3 97.1 467.3 97.5 467.3 97.9 467.3 98.3 467.3 98.6 467.3 99 467.3 99.4 467.3 99.8 467.3 100.2 467.3 100.5 467.3 100.9 467.3 101.3 467.3 101.7 467.3 102.1 467.3 102.5 467.3 102.8 467.3 103.2 467.3 103.6 467.3 104 467.3 104.4 467.3 104.8 467.3 105.1 467.3 105.5 467.3 105.9 467.3 106.3 467.3 106.7 467.3 107.1 467.3 107.4 467.3 107.8 467.3 108.2 467.3 108.6 467.3 109 467.3 109.4 467.3 109.7 467.3 110.1 467.3 110.5 467.3 110.9 467.3 111.3 467.3 111.7 467.3 112 467.3 112.4 467.3 112.8 467.3 113.2 467.3 113.6 467.3 114 467.3 114.3 467.3 114.7 467.3 115.1 467.3 115.5 467.3 115.9 467.3 116.3 467.3 116.6 467.3 117 467.3 117.4 467.3 117.8 467.3 118.2 467.3 118.5 467.3 118.9 467.3 119.3 467.3 119.7 467.3 120.1 467.3 120.5 467.3 120.8 467.3 121.2 467.3 121.6 467.3 122 467.3 122.4 467.3 122.8 467.3 123.1 467.3 123.5 467.3 123.9 467.3 124.3 467.3 124.7 467.3 125.1 467.3 125.4 467.3 125.8 467.3 126.2 467.3 126.6 467.3 127 467.3 127.4 467.3 127.7 467.3 128.1 467.3 128.5 467.3 128.9 467.3 129.3 467.3 129.7 467.3 130 467.3 130.4 467.3 130.8 467.3 131.2 467.3 131.6 467.3 132 467.3 132.3 467.3 132.7 467.3 133.1 467.3 133.5 467.3 133.9 467.3 134.3 467.3 134.6 467.3 135 467.3 135.4 467.3 135.8 467.3 136.2 467.3 136.6 467.3 136.9 467.3 137.3 467.3 137.7 467.3 138.1 467.3 138.5 467.3 138.8 467.3 139.2 467.3 139.6 467.3 140 467.3 140.4 467.3 140.8 467.3 141.1 467.3 141.5 467.3 141.9 467.3 142.3 467.3 142.7 467.3 143.1 467.3 143.4 467.3 143.8 467.3 144.2 467.3 144.6 467.3 145 467.3 145.4 467.3 145.7 467.3 146.1 467.3 146.5 467.3 146.9 467.3 147.3 467.3 147.7 467.3 148 467.3 148.4 467.3 148.8 467.3 149.2 467.3 149.6 467.3 150 467.3 150.3 467.3 150.7 467.3 151.1 467.3 151.5 467.3 151.9 467.3 152.3 467.3 152.6 467.3 153 467.2 153.4 467.2 153.8 467.2 154.2 467.2 154.6 467.2 154.9 467.2 155.3 467.2 155.7 467.2 156.1 467.2 156.5 467.2 156.8 467.2 157.2 467.1 157.6 467.1 158 467.1 158.4 467.1 158.8 467.1 159.1 467 159.5 467 159.9 467 160.3 467 160.7 466.9 161.1 466.9 161.4 466.9 161.8 466.8 162.2 466.8 162.6 466.7 163 466.7 163.4 466.6 163.7 466.6 164.1 466.5 164.5 466.5 164.9 466.4 165.3 466.3 165.7 466.2 166 466.1 166.4 466 166.8 465.9 167.2 465.8 167.6 465.7 168 465.6 168.3 465.5 168.7 465.3 169.1 465.2 169.5 465 169.9 464.9 170.3 464.7 170.6 464.5 171 464.3 171.4 464.1 171.8 463.8 172.2 463.6 172.6 463.3 172.9 463.1 173.3 462.8 173.7 462.5 174.1 462.2 174.5 461.8 174.9 461.5 175.2 461.1 175.6 460.7 176 460.3 176.4 459.9 176.8 459.4 177.1 458.9 177.5 458.4 177.9 457.9 178.3 457.3 178.7 456.8 179.1 456.2 179.4 455.5 179.8 454.9 180.2 454.2 180.6 453.4 181 452.7 181.4 451.9 181.7 451.1 182.1 450.3 182.5 449.4 182.9 448.5 183.3 447.5 183.7 446.5 184 445.5 184.4 444.5 184.8 443.4 185.2 442.2 185.6 441.1 186 439.9 186.3 438.6 186.7 437.3 187.1 436 187.5 434.7 187.9 433.3 188.3 431.8 188.6 430.3 189 428.8 189.4 427.3 189.8 425.6 190.2 424 190.6 422.3 190.9 420.6 191.3 418.8 191.7 417 192.1 415.2 192.5 413.3 192.9 411.4 193.2 409.4 193.6 407.5 194 405.4 194.4 403.4 194.8 401.3 195.2 399.1 195.5 397 195.9 394.8 196.3 392.6 196.7 390.3 197.1 388 197.4 385.7 197.8 383.4 198.2 381.1 198.6 378.7 199 376.3 199.4 373.9 199.7 371.4 200.1 369 200.5 366.5 200.9 364 201.3 361.5 201.7 359 202 356.5 202.4 354 202.8 351.5 203.2 349 203.6 346.5 204 343.9 204.3 341.4 204.7 338.9 205.1 336.4 205.5 333.9 205.9 331.4 206.3 329 206.6 326.5 207 324.1 207.4 321.7 207.8 319.3 208.2 316.9 208.6 314.5 208.9 312.2 209.3 309.9 209.7 307.6 210.1 305.4 210.5 303.2 210.9 301 211.2 298.9 211.6 296.8 212 294.7 212.4 292.7 212.8 290.7 213.2 288.8 213.5 286.9 213.9 285 214.3 283.2 214.7 281.5 215.1 279.8 215.4 278.1 215.8 276.5 216.2 274.9 216.6 273.4 217 272 217.4 270.5 217.7 269.2 218.1 267.9 218.5 266.6 218.9 265.4 219.3 264.3 219.7 263.2 220 262.1 220.4 261.1 220.8 260.2 221.2 259.3 221.6 258.5 222 257.7 222.3 256.9 222.7 256.2 223.1 255.6 223.5 255 223.9 254.4 224.3 253.9 224.6 253.5 225 253 225.4 252.7 225.8 252.3 226.2 252 226.6 251.7 226.9 251.5 227.3 251.3 227.7 251.1 228.1 250.9 228.5 250.8 228.9 250.7 229.2 250.6 229.6 250.5 230 250.5 230.4 250.4 230.8 250.4 231.2 250.4 231.5 250.3 231.9 250.3 232.3 250.3 232.7 250.3 233.1 250.3 233.4 250.3 233.8 250.3 234.2 250.3 234.6 250.3 235 250.3 235.4 250.3 235.7 250.4 236.1 250.4 236.5 250.4 236.9 250.5 237.3 250.5 237.7 250.6 238 250.7 238.4 250.8 238.8 250.9 239.2 251.1 239.6 251.3 240 251.5 240.3 251.7 240.7 252 241.1 252.3 241.5 252.7 241.9 253 242.3 253.5 242.6 253.9 243 254.4 243.4 255 243.8 255.6 244.2 256.2 244.6 256.9 244.9 257.7 245.3 258.5 245.7 259.3 246.1 260.2 246.5 261.1 246.9 262.1 247.2 263.2 247.6 264.3 248 265.4 248.4 266.6 248.8 267.9 249.2 269.2 249.5 270.5 249.9 272 250.3 273.4 250.7 274.9 251.1 276.5 251.5 278.1 251.8 279.8 252.2 281.5 252.6 283.2 253 285 253.4 286.9 253.7 288.8 254.1 290.7 254.5 292.7 254.9 294.7 255.3 296.8 255.7 298.9 256 301 256.4 303.2 256.8 305.4 257.2 307.6 257.6 309.9 258 312.2 258.3 314.5 258.7 316.9 259.1 319.3 259.5 321.7 259.9 324.1 260.3 326.5 260.6 329 261 331.4 261.4 333.9 261.8 336.4 262.2 338.9 262.6 341.4 262.9 343.9 263.3 346.5 263.7 349 264.1 351.5 264.5 354 264.9 356.5 265.2 359 265.6 361.5 266 364 266.4 366.5 266.8 369 267.2 371.4 267.5 373.9 267.9 376.3 268.3 378.7 268.7 381.1 269.1 383.4 269.5 385.7 269.8 388 270.2 390.3 270.6 392.6 271 394.8 271.4 397 271.8 399.1 272.1 401.3 272.5 403.4 272.9 405.4 273.3 407.5 273.7 409.4 274 411.4 274.4 413.3 274.8 415.2 275.2 417 275.6 418.8 276 420.6 276.3 422.3 276.7 424 277.1 425.6 277.5 427.3 277.9 428.8 278.3 430.3 278.6 431.8 279 433.3 279.4 434.7 279.8 436 280.2 437.3 280.6 438.6 280.9 439.9 281.3 441.1 281.7 442.2 282.1 443.4 282.5 444.5 282.9 445.5 283.2 446.5 283.6 447.5 284 448.5 284.4 449.4 284.8 450.3 285.2 451.1 285.5 451.9 285.9 452.7 286.3 453.4 286.7 454.2 287.1 454.9 287.5 455.5 287.8 456.2 288.2 456.8 288.6 457.3 289 457.9 289.4 458.4 289.8 458.9 290.1 459.4 290.5 459.9 290.9 460.3 291.3 460.7 291.7 461.1 292 461.5 292.4 461.8 292.8 462.2 293.2 462.5 293.6 462.8 294 463.1 294.3 463.3 294.7 463.6 295.1 463.8 295.5 464.1 295.9 464.3 296.3 464.5 296.6 464.7 297 464.9 297.4 465 297.8 465.2 298.2 465.3 298.6 465.5 298.9 465.6 299.3 465.7 299.7 465.8 300.1 465.9 300.5 466 300.9 466.1 301.2 466.2 301.6 466.3 302 466.4 302.4 466.5 302.8 466.5 303.2 466.6 303.5 466.6 303.9 466.7 304.3 466.7 304.7 466.8 305.1 466.8 305.5 466.9 305.8 466.9 306.2 466.9 306.6 467 307 467 307.4 467 307.8 467 308.1 467.1 308.5 467.1 308.9 467.1 309.3 467.1 309.7 467.1 310.1 467.2 310.4 467.2 310.8 467.2 311.2 467.2 311.6 467.2 312 467.2 312.3 467.2 312.7 467.2 313.1 467.2 313.5 467.2 313.9 467.2 314.3 467.3 314.6 467.3 315 467.3 315.4 467.3 315.8 467.3 316.2 467.3 316.6 467.3 316.9 467.3 317.3 467.3 317.7 467.3 318.1 467.3 318.5 467.3 318.9 467.3 319.2 467.3 319.6 467.3 320 467.3 320.4 467.3 320.8 467.3 321.2 467.3 321.5 467.3 321.9 467.3 322.3 467.3 322.7 467.3 323.1 467.3 323.5 467.3 323.8 467.3 324.2 467.3 324.6 467.3 325 467.3 325.4 467.3 325.8 467.3 326.1 467.3 326.5 467.3 326.9 467.3 327.3 467.3 327.7 467.3 328.1 467.3 328.4 467.3 328.8 467.3 329.2 467.3 329.6 467.3 330 467.3 330.3 467.3 330.7 467.3 331.1 467.3 331.5 467.3 331.9 467.3 332.3 467.3 332.6 467.3 333 467.3 333.4 467.3 333.8 467.3 334.2 467.3 334.6 467.3 334.9 467.3 335.3 467.3 335.7 467.3 336.1 467.3 336.5 467.3 336.9 467.3 337.2 467.3 337.6 467.3 338 467.3 338.4 467.3 338.8 467.3 339.2 467.3 339.5 467.3 339.9 467.3 340.3 467.3 340.7 467.3 341.1 467.3 341.5 467.3 341.8 467.3 342.2 467.3 342.6 467.3 343 467.3 343.4 467.3 343.8 467.3 344.1 467.3 344.5 467.3 344.9 467.3 345.3 467.3 345.7 467.3 346.1 467.3 346.4 467.3 346.8 467.3 347.2 467.3 347.6 467.3 348 467.3 348.4 467.3 348.7 467.3 349.1 467.3 349.5 467.3 349.9 467.3 350.3 467.3 350.6 467.3 351 467.3 351.4 467.3 351.8 467.3 352.2 467.3 352.6 467.3 352.9 467.3 353.3 467.3 353.7 467.3 354.1 467.3 354.5 467.3 354.9 467.3 355.2 467.3 355.6 467.3 356 467.3 356.4 467.3 356.8 467.3 357.2 467.3 357.5 467.3 357.9 467.3 358.3 467.3 358.7 467.3 359.1 467.3 359.5 467.3 359.8 467.3 360.2 467.3 360.6 467.3 361 467.3 361.4 467.3 361.8 467.3 362.1 467.3 362.5 467.3 362.9 467.3 363.3 467.3 363.7 467.3 364.1 467.3 364.4 467.3 364.8 467.3 365.2 467.3 365.6 467.3 366 467.3 366.4 467.3 366.7 467.3 367.1 467.3 367.5 467.3 367.9 467.3 368.3 467.3 368.6 467.3 369 467.3 369.4 467.3 369.8 467.3 370.2 467.3 370.6 467.3 370.9 467.3 371.3 467.3 371.7 467.3 372.1 467.3 372.5 467.3 372.9 467.3 373.2 467.3 373.6 467.3 374 467.3 374.4 467.3 374.8 467.3 375.2 467.3 375.5 467.3 375.9 467.3 376.3 467.3 376.7 467.3 377.1 467.3 377.5 467.3 377.8 467.3 378.2 467.3 378.6 467.3 379 467.3 379.4 467.3 379.8 467.3 380.1 467.3 380.5 467.3 380.9 467.3 381.3 467.3 381.7 467.3 382.1 467.3 382.4 467.3 382.8 467.3 383.2 467.3 383.6 467.3 384 467.3 384.4 467.3 384.7 467.3 385.1 467.3 385.5 467.3 385.9 467.3 386.3 467.3 386.6 467.3 387 467.3 387.4 467.3 387.8 467.3 388.2 467.3 388.6 467.3 388.9 467.3 389.3 467.3 389.7 467.3 390.1 467.3 390.5 467.3 390.9 467.3 391.2 467.3 391.6 467.3 392 467.3 392.4 467.3 392.8 467.3 393.2 467.3 393.5 467.3 393.9 467.3 394.3 467.3 394.7 467.3 395.1 467.3 395.5 467.3 395.8 467.3 396.2 467.3 396.6 467.3 397 467.3 397.4 467.3 397.8 467.3 398.1 467.3 398.5 467.3 398.9 467.3 399.3 467.3 399.7 467.3 400.1 467.3 400.4 467.3 400.8 467.3 401.2 467.3 401.6 467.3 402 467.3 402.4 467.3 402.7 467.3 403.1 467.3 403.5 467.3 403.9 467.3 404.3 467.3 404.7 467.3 405 467.3 405.4 467.3 405.8 467.3" fill="none" stroke="#da0000" stroke-width="2.6" stroke-linejoin="round" stroke-linecap="round" clip-path="url(#cc)"/>
<path d="M61.1 467.3L61.5 467.3 61.9 467.3 62.2 467.3 62.6 467.3 63 467.3 63.4 467.3 63.8 467.3 64.2 467.3 64.5 467.3 64.9 467.3 65.3 467.3 65.7 467.3 66.1 467.3 66.5 467.3 66.8 467.3 67.2 467.3 67.6 467.3 68 467.3 68.4 467.3 68.8 467.3 69.1 467.3 69.5 467.3 69.9 467.3 70.3 467.3 70.7 467.3 71.1 467.3 71.4 467.3 71.8 467.3 72.2 467.3 72.6 467.3 73 467.3 73.4 467.3 73.7 467.3 74.1 467.3 74.5 467.3 74.9 467.3 75.3 467.3 75.7 467.3 76 467.3 76.4 467.3 76.8 467.3 77.2 467.3 77.6 467.3 78 467.3 78.3 467.3 78.7 467.3 79.1 467.3 79.5 467.3 79.9 467.3 80.2 467.3 80.6 467.3 81 467.3 81.4 467.3 81.8 467.3 82.2 467.3 82.5 467.3 82.9 467.3 83.3 467.3 83.7 467.3 84.1 467.3 84.5 467.3 84.8 467.3 85.2 467.3 85.6 467.3 86 467.3 86.4 467.3 86.8 467.3 87.1 467.3 87.5 467.3 87.9 467.3 88.3 467.3 88.7 467.3 89.1 467.3 89.4 467.3 89.8 467.3 90.2 467.3 90.6 467.3 91 467.3 91.4 467.3 91.7 467.3 92.1 467.3 92.5 467.3 92.9 467.3 93.3 467.3 93.7 467.3 94 467.3 94.4 467.3 94.8 467.3 95.2 467.3 95.6 467.3 96 467.3 96.3 467.3 96.7 467.3 97.1 467.3 97.5 467.3 97.9 467.3 98.3 467.3 98.6 467.3 99 467.3 99.4 467.3 99.8 467.3 100.2 467.3 100.5 467.3 100.9 467.3 101.3 467.3 101.7 467.3 102.1 467.3 102.5 467.3 102.8 467.3 103.2 467.3 103.6 467.3 104 467.3 104.4 467.3 104.8 467.3 105.1 467.3 105.5 467.3 105.9 467.3 106.3 467.3 106.7 467.3 107.1 467.3 107.4 467.3 107.8 467.3 108.2 467.3 108.6 467.3 109 467.3 109.4 467.3 109.7 467.3 110.1 467.3 110.5 467.3 110.9 467.3 111.3 467.3 111.7 467.3 112 467.3 112.4 467.3 112.8 467.3 113.2 467.3 113.6 467.3 114 467.3 114.3 467.3 114.7 467.3 115.1 467.3 115.5 467.3 115.9 467.3 116.3 467.3 116.6 467.3 117 467.3 117.4 467.3 117.8 467.3 118.2 467.3 118.5 467.3 118.9 467.3 119.3 467.3 119.7 467.3 120.1 467.3 120.5 467.3 120.8 467.3 121.2 467.3 121.6 467.3 122 467.3 122.4 467.3 122.8 467.3 123.1 467.3 123.5 467.3 123.9 467.3 124.3 467.3 124.7 467.3 125.1 467.3 125.4 467.3 125.8 467.3 126.2 467.3 126.6 467.3 127 467.3 127.4 467.3 127.7 467.3 128.1 467.3 128.5 467.3 128.9 467.3 129.3 467.3 129.7 467.3 130 467.3 130.4 467.3 130.8 467.3 131.2 467.3 131.6 467.3 132 467.3 132.3 467.3 132.7 467.3 133.1 467.3 133.5 467.3 133.9 467.3 134.3 467.3 134.6 467.3 135 467.3 135.4 467.3 135.8 467.3 136.2 467.3 136.6 467.3 136.9 467.3 137.3 467.3 137.7 467.3 138.1 467.3 138.5 467.3 138.8 467.3 139.2 467.3 139.6 467.3 140 467.3 140.4 467.3 140.8 467.3 141.1 467.3 141.5 467.3 141.9 467.3 142.3 467.3 142.7 467.3 143.1 467.3 143.4 467.3 143.8 467.3 144.2 467.3 144.6 467.3 145 467.3 145.4 467.3 145.7 467.3 146.1 467.3 146.5 467.3 146.9 467.3 147.3 467.3 147.7 467.3 148 467.3 148.4 467.3 148.8 467.3 149.2 467.3 149.6 467.3 150 467.3 150.3 467.3 150.7 467.3 151.1 467.3 151.5 467.3 151.9 467.3 152.3 467.3 152.6 467.3 153 467.3 153.4 467.2 153.8 467.2 154.2 467.2 154.6 467.2 154.9 467.2 155.3 467.2 155.7 467.2 156.1 467.2 156.5 467.2 156.8 467.2 157.2 467.2 157.6 467.1 158 467.1 158.4 467.1 158.8 467.1 159.1 467.1 159.5 467.1 159.9 467 160.3 467 160.7 467 161.1 466.9 161.4 466.9 161.8 466.9 162.2 466.8 162.6 466.8 163 466.8 163.4 466.7 163.7 466.7 164.1 466.6 164.5 466.5 164.9 466.5 165.3 466.4 165.7 466.3 166 466.3 166.4 466.2 166.8 466.1 167.2 466 167.6 465.9 168 465.8 168.3 465.6 168.7 465.5 169.1 465.4 169.5 465.2 169.9 465.1 170.3 464.9 170.6 464.7 171 464.5 171.4 464.3 171.8 464.1 172.2 463.9 172.6 463.7 172.9 463.4 173.3 463.1 173.7 462.9 174.1 462.6 174.5 462.2 174.9 461.9 175.2 461.6 175.6 461.2 176 460.8 176.4 460.4 176.8 460 177.1 459.5 177.5 459 177.9 458.5 178.3 458 178.7 457.5 179.1 456.9 179.4 456.3 179.8 455.7 180.2 455 180.6 454.3 181 453.6 181.4 452.9 181.7 452.1 182.1 451.3 182.5 450.5 182.9 449.6 183.3 448.7 183.7 447.8 184 446.8 184.4 445.8 184.8 444.7 185.2 443.7 185.6 442.5 186 441.4 186.3 440.2 186.7 438.9 187.1 437.7 187.5 436.4 187.9 435 188.3 433.6 188.6 432.2 189 430.7 189.4 429.2 189.8 427.6 190.2 426.1 190.6 424.4 190.9 422.7 191.3 421 191.7 419.3 192.1 417.5 192.5 415.7 192.9 413.8 193.2 411.9 193.6 409.9 194 408 194.4 405.9 194.8 403.9 195.2 401.8 195.5 399.7 195.9 397.5 196.3 395.3 196.7 393.1 197.1 390.9 197.4 388.6 197.8 386.3 198.2 384 198.6 381.6 199 379.3 199.4 376.9 199.7 374.5 200.1 372 200.5 369.6 200.9 367.1 201.3 364.6 201.7 362.2 202 359.7 202.4 357.2 202.8 354.6 203.2 352.1 203.6 349.6 204 347.1 204.3 344.6 204.7 342.1 205.1 339.5 205.5 337 205.9 334.5 206.3 332.1 206.6 329.6 207 327.1 207.4 324.7 207.8 322.3 208.2 319.9 208.6 317.5 208.9 315.1 209.3 312.8 209.7 310.5 210.1 308.2 210.5 306 210.9 303.7 211.2 301.6 211.6 299.4 212 297.3 212.4 295.2 212.8 293.2 213.2 291.2 213.5 289.3 213.9 287.4 214.3 285.5 214.7 283.7 215.1 281.9 215.4 280.2 215.8 278.5 216.2 276.9 216.6 275.3 217 273.8 217.4 272.3 217.7 270.9 218.1 269.5 218.5 268.2 218.9 266.9 219.3 265.7 219.7 264.6 220 263.4 220.4 262.4 220.8 261.4 221.2 260.4 221.6 259.5 222 258.7 222.3 257.9 222.7 257.1 223.1 256.4 223.5 255.7 223.9 255.1 224.3 254.6 224.6 254 225 253.6 225.4 253.1 225.8 252.7 226.2 252.4 226.6 252.1 226.9 251.8 227.3 251.5 227.7 251.3 228.1 251.1 228.5 251 228.9 250.8 229.2 250.7 229.6 250.6 230 250.5 230.4 250.5 230.8 250.4 231.2 250.4 231.5 250.3 231.9 250.3 232.3 250.3 232.7 250.3 233.1 250.3 233.4 250.3 233.8 250.3 234.2 250.3 234.6 250.3 235 250.3 235.4 250.3 235.7 250.4 236.1 250.4 236.5 250.5 236.9 250.5 237.3 250.6 237.7 250.7 238 250.8 238.4 251 238.8 251.1 239.2 251.3 239.6 251.5 240 251.8 240.3 252.1 240.7 252.4 241.1 252.7 241.5 253.1 241.9 253.6 242.3 254 242.6 254.6 243 255.1 243.4 255.7 243.8 256.4 244.2 257.1 244.6 257.9 244.9 258.7 245.3 259.5 245.7 260.4 246.1 261.4 246.5 262.4 246.9 263.4 247.2 264.6 247.6 265.7 248 266.9 248.4 268.2 248.8 269.5 249.2 270.9 249.5 272.3 249.9 273.8 250.3 275.3 250.7 276.9 251.1 278.5 251.5 280.2 251.8 281.9 252.2 283.7 252.6 285.5 253 287.4 253.4 289.3 253.7 291.2 254.1 293.2 254.5 295.2 254.9 297.3 255.3 299.4 255.7 301.6 256 303.7 256.4 306 256.8 308.2 257.2 310.5 257.6 312.8 258 315.1 258.3 317.5 258.7 319.9 259.1 322.3 259.5 324.7 259.9 327.1 260.3 329.6 260.6 332.1 261 334.5 261.4 337 261.8 339.5 262.2 342.1 262.6 344.6 262.9 347.1 263.3 349.6 263.7 352.1 264.1 354.6 264.5 357.2 264.9 359.7 265.2 362.2 265.6 364.6 266 367.1 266.4 369.6 266.8 372 267.2 374.5 267.5 376.9 267.9 379.3 268.3 381.6 268.7 384 269.1 386.3 269.5 388.6 269.8 390.9 270.2 393.1 270.6 395.3 271 397.5 271.4 399.7 271.8 401.8 272.1 403.9 272.5 405.9 272.9 408 273.3 409.9 273.7 411.9 274 413.8 274.4 415.7 274.8 417.5 275.2 419.3 275.6 421 276 422.7 276.3 424.4 276.7 426.1 277.1 427.6 277.5 429.2 277.9 430.7 278.3 432.2 278.6 433.6 279 435 279.4 436.4 279.8 437.7 280.2 438.9 280.6 440.2 280.9 441.4 281.3 442.5 281.7 443.7 282.1 444.7 282.5 445.8 282.9 446.8 283.2 447.8 283.6 448.7 284 449.6 284.4 450.5 284.8 451.3 285.2 452.1 285.5 452.9 285.9 453.6 286.3 454.3 286.7 455 287.1 455.7 287.5 456.3 287.8 456.9 288.2 457.5 288.6 458 289 458.5 289.4 459 289.8 459.5 290.1 460 290.5 460.4 290.9 460.8 291.3 461.2 291.7 461.6 292 461.9 292.4 462.2 292.8 462.6 293.2 462.9 293.6 463.1 294 463.4 294.3 463.7 294.7 463.9 295.1 464.1 295.5 464.3 295.9 464.5 296.3 464.7 296.6 464.9 297 465.1 297.4 465.2 297.8 465.4 298.2 465.5 298.6 465.6 298.9 465.8 299.3 465.9 299.7 466 300.1 466.1 300.5 466.2 300.9 466.3 301.2 466.3 301.6 466.4 302 466.5 302.4 466.5 302.8 466.6 303.2 466.7 303.5 466.7 303.9 466.8 304.3 466.8 304.7 466.8 305.1 466.9 305.5 466.9 305.8 466.9 306.2 467 306.6 467 307 467 307.4 467.1 307.8 467.1 308.1 467.1 308.5 467.1 308.9 467.1 309.3 467.1 309.7 467.2 310.1 467.2 310.4 467.2 310.8 467.2 311.2 467.2 311.6 467.2 312 467.2 312.3 467.2 312.7 467.2 313.1 467.2 313.5 467.2 313.9 467.3 314.3 467.3 314.6 467.3 315 467.3 315.4 467.3 315.8 467.3 316.2 467.3 316.6 467.3 316.9 467.3 317.3 467.3 317.7 467.3 318.1 467.3 318.5 467.3 318.9 467.3 319.2 467.3 319.6 467.3 320 467.3 320.4 467.3 320.8 467.3 321.2 467.3 321.5 467.3 321.9 467.3 322.3 467.3 322.7 467.3 323.1 467.3 323.5 467.3 323.8 467.3 324.2 467.3 324.6 467.3 325 467.3 325.4 467.3 325.8 467.3 326.1 467.3 326.5 467.3 326.9 467.3 327.3 467.3 327.7 467.3 328.1 467.3 328.4 467.3 328.8 467.3 329.2 467.3 329.6 467.3 330 467.3 330.3 467.3 330.7 467.3 331.1 467.3 331.5 467.3 331.9 467.3 332.3 467.3 332.6 467.3 333 467.3 333.4 467.3 333.8 467.3 334.2 467.3 334.6 467.3 334.9 467.3 335.3 467.3 335.7 467.3 336.1 467.3 336.5 467.3 336.9 467.3 337.2 467.3 337.6 467.3 338 467.3 338.4 467.3 338.8 467.3 339.2 467.3 339.5 467.3 339.9 467.3 340.3 467.3 340.7 467.3 341.1 467.3 341.5 467.3 341.8 467.3 342.2 467.3 342.6 467.3 343 467.3 343.4 467.3 343.8 467.3 344.1 467.3 344.5 467.3 344.9 467.3 345.3 467.3 345.7 467.3 346.1 467.3 346.4 467.3 346.8 467.3 347.2 467.3 347.6 467.3 348 467.3 348.4 467.3 348.7 467.3 349.1 467.3 349.5 467.3 349.9 467.3 350.3 467.3 350.6 467.3 351 467.3 351.4 467.3 351.8 467.3 352.2 467.3 352.6 467.3 352.9 467.3 353.3 467.3 353.7 467.3 354.1 467.3 354.5 467.3 354.9 467.3 355.2 467.3 355.6 467.3 356 467.3 356.4 467.3 356.8 467.3 357.2 467.3 357.5 467.3 357.9 467.3 358.3 467.3 358.7 467.3 359.1 467.3 359.5 467.3 359.8 467.3 360.2 467.3 360.6 467.3 361 467.3 361.4 467.3 361.8 467.3 362.1 467.3 362.5 467.3 362.9 467.3 363.3 467.3 363.7 467.3 364.1 467.3 364.4 467.3 364.8 467.3 365.2 467.3 365.6 467.3 366 467.3 366.4 467.3 366.7 467.3 367.1 467.3 367.5 467.3 367.9 467.3 368.3 467.3 368.6 467.3 369 467.3 369.4 467.3 369.8 467.3 370.2 467.3 370.6 467.3 370.9 467.3 371.3 467.3 371.7 467.3 372.1 467.3 372.5 467.3 372.9 467.3 373.2 467.3 373.6 467.3 374 467.3 374.4 467.3 374.8 467.3 375.2 467.3 375.5 467.3 375.9 467.3 376.3 467.3 376.7 467.3 377.1 467.3 377.5 467.3 377.8 467.3 378.2 467.3 378.6 467.3 379 467.3 379.4 467.3 379.8 467.3 380.1 467.3 380.5 467.3 380.9 467.3 381.3 467.3 381.7 467.3 382.1 467.3 382.4 467.3 382.8 467.3 383.2 467.3 383.6 467.3 384 467.3 384.4 467.3 384.7 467.3 385.1 467.3 385.5 467.3 385.9 467.3 386.3 467.3 386.6 467.3 387 467.3 387.4 467.3 387.8 467.3 388.2 467.3 388.6 467.3 388.9 467.3 389.3 467.3 389.7 467.3 390.1 467.3 390.5 467.3 390.9 467.3 391.2 467.3 391.6 467.3 392 467.3 392.4 467.3 392.8 467.3 393.2 467.3 393.5 467.3 393.9 467.3 394.3 467.3 394.7 467.3 395.1 467.3 395.5 467.3 395.8 467.3 396.2 467.3 396.6 467.3 397 467.3 397.4 467.3 397.8 467.3 398.1 467.3 398.5 467.3 398.9 467.3 399.3 467.3 399.7 467.3 400.1 467.3 400.4 467.3 400.8 467.3 401.2 467.3 401.6 467.3 402 467.3 402.4 467.3 402.7 467.3 403.1 467.3 403.5 467.3 403.9 467.3 404.3 467.3 404.7 467.3 405 467.3 405.4 467.3 405.8 467.3" fill="none" stroke="#80ff2a" stroke-width="2.6" stroke-linejoin="round" stroke-linecap="round" clip-path="url(#cc)"/>
<path d="M61.1 467.3L61.5 467.3 61.9 467.3 62.2 467.3 62.6 467.3 63 467.3 63.4 467.3 63.8 467.3 64.2 467.3 64.5 467.3 64.9 467.3 65.3 467.3 65.7 467.3 66.1 467.3 66.5 467.3 66.8 467.3 67.2 467.3 67.6 467.3 68 467.3 68.4 467.3 68.8 467.3 69.1 467.3 69.5 467.3 69.9 467.3 70.3 467.3 70.7 467.3 71.1 467.3 71.4 467.3 71.8 467.3 72.2 467.3 72.6 467.3 73 467.3 73.4 467.3 73.7 467.3 74.1 467.3 74.5 467.3 74.9 467.3 75.3 467.3 75.7 467.3 76 467.3 76.4 467.3 76.8 467.3 77.2 467.3 77.6 467.3 78 467.3 78.3 467.3 78.7 467.3 79.1 467.3 79.5 467.3 79.9 467.3 80.2 467.3 80.6 467.3 81 467.3 81.4 467.3 81.8 467.3 82.2 467.3 82.5 467.3 82.9 467.3 83.3 467.3 83.7 467.3 84.1 467.3 84.5 467.3 84.8 467.3 85.2 467.3 85.6 467.3 86 467.3 86.4 467.3 86.8 467.3 87.1 467.3 87.5 467.3 87.9 467.3 88.3 467.3 88.7 467.3 89.1 467.3 89.4 467.3 89.8 467.3 90.2 467.3 90.6 467.3 91 467.3 91.4 467.3 91.7 467.3 92.1 467.3 92.5 467.3 92.9 467.3 93.3 467.3 93.7 467.3 94 467.3 94.4 467.3 94.8 467.3 95.2 467.3 95.6 467.3 96 467.3 96.3 467.3 96.7 467.3 97.1 467.3 97.5 467.3 97.9 467.3 98.3 467.3 98.6 467.3 99 467.3 99.4 467.3 99.8 467.3 100.2 467.3 100.5 467.3 100.9 467.3 101.3 467.3 101.7 467.3 102.1 467.3 102.5 467.3 102.8 467.3 103.2 467.3 103.6 467.3 104 467.3 104.4 467.3 104.8 467.3 105.1 467.3 105.5 467.3 105.9 467.3 106.3 467.3 106.7 467.3 107.1 467.3 107.4 467.3 107.8 467.3 108.2 467.3 108.6 467.3 109 467.3 109.4 467.3 109.7 467.3 110.1 467.3 110.5 467.3 110.9 467.3 111.3 467.3 111.7 467.3 112 467.3 112.4 467.3 112.8 467.3 113.2 467.3 113.6 467.3 114 467.3 114.3 467.3 114.7 467.3 115.1 467.3 115.5 467.3 115.9 467.3 116.3 467.3 116.6 467.3 117 467.3 117.4 467.3 117.8 467.3 118.2 467.3 118.5 467.3 118.9 467.3 119.3 467.3 119.7 467.3 120.1 467.3 120.5 467.3 120.8 467.3 121.2 467.3 121.6 467.3 122 467.3 122.4 467.3 122.8 467.3 123.1 467.3 123.5 467.3 123.9 467.3 124.3 467.3 124.7 467.3 125.1 467.3 125.4 467.3 125.8 467.3 126.2 467.3 126.6 467.3 127 467.3 127.4 467.3 127.7 467.3 128.1 467.3 128.5 467.3 128.9 467.3 129.3 467.3 129.7 467.3 130 467.3 130.4 467.3 130.8 467.3 131.2 467.3 131.6 467.3 132 467.3 132.3 467.3 132.7 467.3 133.1 467.3 133.5 467.3 133.9 467.3 134.3 467.3 134.6 467.3 135 467.3 135.4 467.3 135.8 467.3 136.2 467.3 136.6 467.3 136.9 467.3 137.3 467.3 137.7 467.3 138.1 467.3 138.5 467.3 138.8 467.3 139.2 467.3 139.6 467.3 140 467.3 140.4 467.3 140.8 467.3 141.1 467.3 141.5 467.3 141.9 467.3 142.3 467.3 142.7 467.3 143.1 467.3 143.4 467.3 143.8 467.3 144.2 467.3 144.6 467.3 145 467.3 145.4 467.3 145.7 467.3 146.1 467.3 146.5 467.3 146.9 467.3 147.3 467.3 147.7 467.3 148 467.3 148.4 467.3 148.8 467.3 149.2 467.3 149.6 467.3 150 467.3 150.3 467.3 150.7 467.3 151.1 467.3 151.5 467.3 151.9 467.3 152.3 467.3 152.6 467.3 153 467.3 153.4 467.3 153.8 467.3 154.2 467.2 154.6 467.2 154.9 467.2 155.3 467.2 155.7 467.2 156.1 467.2 156.5 467.2 156.8 467.2 157.2 467.2 157.6 467.2 158 467.2 158.4 467.1 158.8 467.1 159.1 467.1 159.5 467.1 159.9 467.1 160.3 467 160.7 467 161.1 467 161.4 467 161.8 466.9 162.2 466.9 162.6 466.9 163 466.8 163.4 466.8 163.7 466.7 164.1 466.7 164.5 466.6 164.9 466.6 165.3 466.5 165.7 466.5 166 466.4 166.4 466.3 166.8 466.2 167.2 466.1 167.6 466 168 465.9 168.3 465.8 168.7 465.7 169.1 465.6 169.5 465.5 169.9 465.3 170.3 465.2 170.6 465 171 464.9 171.4 464.7 171.8 464.5 172.2 464.3 172.6 464.1 172.9 463.8 173.3 463.6 173.7 463.3 174.1 463.1 174.5 462.8 174.9 462.5 175.2 462.2 175.6 461.8 176 461.5 176.4 461.1 176.8 460.7 177.1 460.3 177.5 459.9 177.9 459.4 178.3 458.9 178.7 458.4 179.1 457.9 179.4 457.3 179.8 456.8 180.2 456.2 180.6 455.5 181 454.9 181.4 454.2 181.7 453.4 182.1 452.7 182.5 451.9 182.9 451.1 183.3 450.3 183.7 449.4 184 448.5 184.4 447.5 184.8 446.5 185.2 445.5 185.6 444.5 186 443.4 186.3 442.2 186.7 441.1 187.1 439.9 187.5 438.6 187.9 437.3 188.3 436 188.6 434.7 189 433.3 189.4 431.8 189.8 430.3 190.2 428.8 190.6 427.3 190.9 425.6 191.3 424 191.7 422.3 192.1 420.6 192.5 418.8 192.9 417 193.2 415.2 193.6 413.3 194 411.4 194.4 409.4 194.8 407.5 195.2 405.4 195.5 403.4 195.9 401.3 196.3 399.1 196.7 397 197.1 394.8 197.4 392.6 197.8 390.3 198.2 388 198.6 385.7 199 383.4 199.4 381.1 199.7 378.7 200.1 376.3 200.5 373.9 200.9 371.4 201.3 369 201.7 366.5 202 364 202.4 361.5 202.8 359 203.2 356.5 203.6 354 204 351.5 204.3 349 204.7 346.5 205.1 343.9 205.5 341.4 205.9 338.9 206.3 336.4 206.6 333.9 207 331.4 207.4 329 207.8 326.5 208.2 324.1 208.6 321.7 208.9 319.3 209.3 316.9 209.7 314.5 210.1 312.2 210.5 309.9 210.9 307.6 211.2 305.4 211.6 303.2 212 301 212.4 298.9 212.8 296.8 213.2 294.7 213.5 292.7 213.9 290.7 214.3 288.8 214.7 286.9 215.1 285 215.4 283.2 215.8 281.5 216.2 279.8 216.6 278.1 217 276.5 217.4 274.9 217.7 273.4 218.1 272 218.5 270.5 218.9 269.2 219.3 267.9 219.7 266.6 220 265.4 220.4 264.3 220.8 263.2 221.2 262.1 221.6 261.1 222 260.2 222.3 259.3 222.7 258.4 223.1 257.6 223.5 256.9 223.9 256.2 224.3 255.6 224.6 255 225 254.4 225.4 253.9 225.8 253.4 226.2 253 226.6 252.6 226.9 252.3 227.3 252 227.7 251.7 228.1 251.4 228.5 251.2 228.9 251 229.2 250.9 229.6 250.7 230 250.6 230.4 250.5 230.8 250.5 231.2 250.4 231.5 250.4 231.9 250.3 232.3 250.3 232.7 250.3 233.1 250.3 233.4 250.3 233.8 250.3 234.2 250.3 234.6 250.3 235 250.3 235.4 250.4 235.7 250.4 236.1 250.5 236.5 250.5 236.9 250.6 237.3 250.7 237.7 250.9 238 251 238.4 251.2 238.8 251.4 239.2 251.7 239.6 252 240 252.3 240.3 252.6 240.7 253 241.1 253.4 241.5 253.9 241.9 254.4 242.3 255 242.6 255.6 243 256.2 243.4 256.9 243.8 257.6 244.2 258.4 244.6 259.3 244.9 260.2 245.3 261.1 245.7 262.1 246.1 263.2 246.5 264.3 246.9 265.4 247.2 266.6 247.6 267.9 248 269.2 248.4 270.5 248.8 272 249.2 273.4 249.5 274.9 249.9 276.5 250.3 278.1 250.7 279.8 251.1 281.5 251.5 283.2 251.8 285 252.2 286.9 252.6 288.8 253 290.7 253.4 292.7 253.7 294.7 254.1 296.8 254.5 298.9 254.9 301 255.3 303.2 255.7 305.4 256 307.6 256.4 309.9 256.8 312.2 257.2 314.5 257.6 316.9 258 319.3 258.3 321.7 258.7 324.1 259.1 326.5 259.5 329 259.9 331.4 260.3 333.9 260.6 336.4 261 338.9 261.4 341.4 261.8 343.9 262.2 346.5 262.6 349 262.9 351.5 263.3 354 263.7 356.5 264.1 359 264.5 361.5 264.9 364 265.2 366.5 265.6 369 266 371.4 266.4 373.9 266.8 376.3 267.2 378.7 267.5 381.1 267.9 383.4 268.3 385.7 268.7 388 269.1 390.3 269.5 392.6 269.8 394.8 270.2 397 270.6 399.1 271 401.3 271.4 403.4 271.8 405.4 272.1 407.5 272.5 409.4 272.9 411.4 273.3 413.3 273.7 415.2 274 417 274.4 418.8 274.8 420.6 275.2 422.3 275.6 424 276 425.6 276.3 427.3 276.7 428.8 277.1 430.3 277.5 431.8 277.9 433.3 278.3 434.7 278.6 436 279 437.3 279.4 438.6 279.8 439.9 280.2 441.1 280.6 442.2 280.9 443.4 281.3 444.5 281.7 445.5 282.1 446.5 282.5 447.5 282.9 448.5 283.2 449.4 283.6 450.3 284 451.1 284.4 451.9 284.8 452.7 285.2 453.4 285.5 454.2 285.9 454.9 286.3 455.5 286.7 456.2 287.1 456.8 287.5 457.3 287.8 457.9 288.2 458.4 288.6 458.9 289 459.4 289.4 459.9 289.8 460.3 290.1 460.7 290.5 461.1 290.9 461.5 291.3 461.8 291.7 462.2 292 462.5 292.4 462.8 292.8 463.1 293.2 463.3 293.6 463.6 294 463.8 294.3 464.1 294.7 464.3 295.1 464.5 295.5 464.7 295.9 464.9 296.3 465 296.6 465.2 297 465.3 297.4 465.5 297.8 465.6 298.2 465.7 298.6 465.8 298.9 465.9 299.3 466 299.7 466.1 300.1 466.2 300.5 466.3 300.9 466.4 301.2 466.5 301.6 466.5 302 466.6 302.4 466.6 302.8 466.7 303.2 466.7 303.5 466.8 303.9 466.8 304.3 466.9 304.7 466.9 305.1 466.9 305.5 467 305.8 467 306.2 467 306.6 467 307 467.1 307.4 467.1 307.8 467.1 308.1 467.1 308.5 467.1 308.9 467.2 309.3 467.2 309.7 467.2 310.1 467.2 310.4 467.2 310.8 467.2 311.2 467.2 311.6 467.2 312 467.2 312.3 467.2 312.7 467.2 313.1 467.3 313.5 467.3 313.9 467.3 314.3 467.3 314.6 467.3 315 467.3 315.4 467.3 315.8 467.3 316.2 467.3 316.6 467.3 316.9 467.3 317.3 467.3 317.7 467.3 318.1 467.3 318.5 467.3 318.9 467.3 319.2 467.3 319.6 467.3 320 467.3 320.4 467.3 320.8 467.3 321.2 467.3 321.5 467.3 321.9 467.3 322.3 467.3 322.7 467.3 323.1 467.3 323.5 467.3 323.8 467.3 324.2 467.3 324.6 467.3 325 467.3 325.4 467.3 325.8 467.3 326.1 467.3 326.5 467.3 326.9 467.3 327.3 467.3 327.7 467.3 328.1 467.3 328.4 467.3 328.8 467.3 329.2 467.3 329.6 467.3 330 467.3 330.3 467.3 330.7 467.3 331.1 467.3 331.5 467.3 331.9 467.3 332.3 467.3 332.6 467.3 333 467.3 333.4 467.3 333.8 467.3 334.2 467.3 334.6 467.3 334.9 467.3 335.3 467.3 335.7 467.3 336.1 467.3 336.5 467.3 336.9 467.3 337.2 467.3 337.6 467.3 338 467.3 338.4 467.3 338.8 467.3 339.2 467.3 339.5 467.3 339.9 467.3 340.3 467.3 340.7 467.3 341.1 467.3 341.5 467.3 341.8 467.3 342.2 467.3 342.6 467.3 343 467.3 343.4 467.3 343.8 467.3 344.1 467.3 344.5 467.3 344.9 467.3 345.3 467.3 345.7 467.3 346.1 467.3 346.4 467.3 346.8 467.3 347.2 467.3 347.6 467.3 348 467.3 348.4 467.3 348.7 467.3 349.1 467.3 349.5 467.3 349.9 467.3 350.3 467.3 350.6 467.3 351 467.3 351.4 467.3 351.8 467.3 352.2 467.3 352.6 467.3 352.9 467.3 353.3 467.3 353.7 467.3 354.1 467.3 354.5 467.3 354.9 467.3 355.2 467.3 355.6 467.3 356 467.3 356.4 467.3 356.8 467.3 357.2 467.3 357.5 467.3 357.9 467.3 358.3 467.3 358.7 467.3 359.1 467.3 359.5 467.3 359.8 467.3 360.2 467.3 360.6 467.3 361 467.3 361.4 467.3 361.8 467.3 362.1 467.3 362.5 467.3 362.9 467.3 363.3 467.3 363.7 467.3 364.1 467.3 364.4 467.3 364.8 467.3 365.2 467.3 365.6 467.3 366 467.3 366.4 467.3 366.7 467.3 367.1 467.3 367.5 467.3 367.9 467.3 368.3 467.3 368.6 467.3 369 467.3 369.4 467.3 369.8 467.3 370.2 467.3 370.6 467.3 370.9 467.3 371.3 467.3 371.7 467.3 372.1 467.3 372.5 467.3 372.9 467.3 373.2 467.3 373.6 467.3 374 467.3 374.4 467.3 374.8 467.3 375.2 467.3 375.5 467.3 375.9 467.3 376.3 467.3 376.7 467.3 377.1 467.3 377.5 467.3 377.8 467.3 378.2 467.3 378.6 467.3 379 467.3 379.4 467.3 379.8 467.3 380.1 467.3 380.5 467.3 380.9 467.3 381.3 467.3 381.7 467.3 382.1 467.3 382.4 467.3 382.8 467.3 383.2 467.3 383.6 467.3 384 467.3 384.4 467.3 384.7 467.3 385.1 467.3 385.5 467.3 385.9 467.3 386.3 467.3 386.6 467.3 387 467.3 387.4 467.3 387.8 467.3 388.2 467.3 388.6 467.3 388.9 467.3 389.3 467.3 389.7 467.3 390.1 467.3 390.5 467.3 390.9 467.3 391.2 467.3 391.6 467.3 392 467.3 392.4 467.3 392.8 467.3 393.2 467.3 393.5 467.3 393.9 467.3 394.3 467.3 394.7 467.3 395.1 467.3 395.5 467.3 395.8 467.3 396.2 467.3 396.6 467.3 397 467.3 397.4 467.3 397.8 467.3 398.1 467.3 398.5 467.3 398.9 467.3 399.3 467.3 399.7 467.3 400.1 467.3 400.4 467.3 400.8 467.3 401.2 467.3 401.6 467.3 402 467.3 402.4 467.3 402.7 467.3 403.1 467.3 403.5 467.3 403.9 467.3 404.3 467.3 404.7 467.3 405 467.3 405.4 467.3 405.8 467.3" fill="none" stroke="#0000ff" stroke-width="2.6" stroke-linejoin="round" stroke-linecap="round" clip-path="url(#cc)"/>
</g>
<path d="M61.1 467.3L61.5 467.3 61.9 467.3 62.2 467.3 62.6 467.3 63 467.3 63.4 467.3 63.8 467.3 64.2 467.3 64.5 467.3 64.9 467.3 65.3 467.3 65.7 467.3 66.1 467.3 66.5 467.3 66.8 467.3 67.2 467.3 67.6 467.3 68 467.3 68.4 467.3 68.8 467.3 69.1 467.3 69.5 467.3 69.9 467.3 70.3 467.3 70.7 467.3 71.1 467.3 71.4 467.3 71.8 467.3 72.2 467.3 72.6 467.3 73 467.3 73.4 467.3 73.7 467.3 74.1 467.3 74.5 467.3 74.9 467.3 75.3 467.3 75.7 467.3 76 467.3 76.4 467.3 76.8 467.3 77.2 467.3 77.6 467.3 78 467.3 78.3 467.3 78.7 467.3 79.1 467.3 79.5 467.3 79.9 467.3 80.2 467.3 80.6 467.3 81 467.3 81.4 467.3 81.8 467.3 82.2 467.3 82.5 467.3 82.9 467.3 83.3 467.3 83.7 467.3 84.1 467.3 84.5 467.3 84.8 467.3 85.2 467.3 85.6 467.3 86 467.3 86.4 467.3 86.8 467.3 87.1 467.3 87.5 467.3 87.9 467.3 88.3 467.3 88.7 467.3 89.1 467.3 89.4 467.3 89.8 467.3 90.2 467.3 90.6 467.3 91 467.3 91.4 467.3 91.7 467.3 92.1 467.3 92.5 467.3 92.9 467.3 93.3 467.3 93.7 467.3 94 467.3 94.4 467.3 94.8 467.3 95.2 467.3 95.6 467.3 96 467.3 96.3 467.3 96.7 467.3 97.1 467.3 97.5 467.3 97.9 467.3 98.3 467.3 98.6 467.3 99 467.3 99.4 467.3 99.8 467.3 100.2 467.3 100.5 467.3 100.9 467.3 101.3 467.3 101.7 467.3 102.1 467.3 102.5 467.3 102.8 467.3 103.2 467.3 103.6 467.3 104 467.3 104.4 467.3 104.8 467.3 105.1 467.3 105.5 467.3 105.9 467.3 106.3 467.3 106.7 467.3 107.1 467.3 107.4 467.3 107.8 467.3 108.2 467.3 108.6 467.3 109 467.3 109.4 467.3 109.7 467.3 110.1 467.3 110.5 467.3 110.9 467.3 111.3 467.3 111.7 467.3 112 467.3 112.4 467.3 112.8 467.3 113.2 467.3 113.6 467.3 114 467.3 114.3 467.3 114.7 467.3 115.1 467.3 115.5 467.3 115.9 467.3 116.3 467.3 116.6 467.3 117 467.3 117.4 467.3 117.8 467.3 118.2 467.3 118.5 467.3 118.9 467.3 119.3 467.3 119.7 467.3 120.1 467.3 120.5 467.3 120.8 467.3 121.2 467.3 121.6 467.3 122 467.3 122.4 467.3 122.8 467.3 123.1 467.3 123.5 467.3 123.9 467.3 124.3 467.3 124.7 467.3 125.1 467.3 125.4 467.3 125.8 467.3 126.2 467.3 126.6 467.3 127 467.3 127.4 467.3 127.7 467.3 128.1 467.3 128.5 467.3 128.9 467.3 129.3 467.3 129.7 467.3 130 467.3 130.4 467.3 130.8 467.3 131.2 467.3 131.6 467.3 132 467.3 132.3 467.3 132.7 467.3 133.1 467.3 133.5 467.3 133.9 467.3 134.3 467.3 134.6 467.3 135 467.3 135.4 467.3 135.8 467.3 136.2 467.3 136.6 467.3 136.9 467.3 137.3 467.3 137.7 467.3 138.1 467.3 138.5 467.3 138.8 467.3 139.2 467.3 139.6 467.3 140 467.3 140.4 467.3 140.8 467.3 141.1 467.3 141.5 467.3 141.9 467.3 142.3 467.3 142.7 467.3 143.1 467.3 143.4 467.3 143.8 467.3 144.2 467.3 144.6 467.3 145 467.3 145.4 467.3 145.7 467.3 146.1 467.3 146.5 467.3 146.9 467.3 147.3 467.3 147.7 467.3 148 467.3 148.4 467.3 148.8 467.3 149.2 467.3 149.6 467.3 150 467.3 150.3 467.3 150.7 467.3 151.1 467.3 151.5 467.3 151.9 467.3 152.3 467.3 152.6 467.3 153 467.3 153.4 467.3 153.8 467.3 154.2 467.3 154.6 467.3 154.9 467.3 155.3 467.3 155.7 467.2 156.1 467.2 156.5 467.2 156.8 467.2 157.2 467.2 157.6 467.2 158 467.2 158.4 467.2 158.8 467.2 159.1 467.2 159.5 467.2 159.9 467.1 160.3 467.1 160.7 467.1 161.1 467.1 161.4 467.1 161.8 467.1 162.2 467 162.6 467 163 467 163.4 466.9 163.7 466.9 164.1 466.9 164.5 466.8 164.9 466.8 165.3 466.8 165.7 466.7 166 466.7 166.4 466.6 166.8 466.5 167.2 466.5 167.6 466.4 168 466.3 168.3 466.3 168.7 466.2 169.1 466.1 169.5 466 169.9 465.9 170.3 465.8 170.6 465.6 171 465.5 171.4 465.4 171.8 465.2 172.2 465.1 172.6 464.9 172.9 464.7 173.3 464.5 173.7 464.3 174.1 464.1 174.5 463.9 174.9 463.7 175.2 463.4 175.6 463.1 176 462.9 176.4 462.6 176.8 462.2 177.1 461.9 177.5 461.6 177.9 461.2 178.3 460.8 178.7 460.4 179.1 460 179.4 459.5 179.8 459 180.2 458.5 180.6 458 181 457.5 181.4 456.9 181.7 456.3 182.1 455.7 182.5 455 182.9 454.3 183.3 453.6 183.7 452.9 184 452.1 184.4 451.3 184.8 450.5 185.2 449.6 185.6 448.7 186 447.8 186.3 446.8 186.7 445.8 187.1 444.7 187.5 443.7 187.9 442.5 188.3 441.4 188.6 440.2 189 438.9 189.4 437.7 189.8 436.4 190.2 435 190.6 433.6 190.9 432.2 191.3 430.7 191.7 429.2 192.1 427.6 192.5 426.1 192.9 424.4 193.2 422.7 193.6 421 194 419.3 194.4 417.5 194.8 415.7 195.2 413.8 195.5 411.9 195.9 409.9 196.3 408 196.7 405.9 197.1 403.9 197.4 401.8 197.8 399.7 198.2 397.5 198.6 395.3 199 393.1 199.4 390.9 199.7 388.6 200.1 386.3 200.5 384 200.9 381.6 201.3 379.3 201.7 376.9 202 374.5 202.4 372 202.8 369.6 203.2 367.1 203.6 364.6 204 362.2 204.3 359.7 204.7 357.2 205.1 354.6 205.5 352.1 205.9 349.6 206.3 347.1 206.6 344.6 207 342.1 207.4 339.5 207.8 337 208.2 334.5 208.6 332.1 208.9 329.6 209.3 327.1 209.7 324.7 210.1 322.3 210.5 319.9 210.9 317.5 211.2 315.1 211.6 312.8 212 310.5 212.4 308.2 212.8 306 213.2 303.7 213.5 301.6 213.9 299.4 214.3 297.3 214.7 295.2 215.1 293.2 215.4 291.2 215.8 289.2 216.2 287.3 216.6 285.5 217 283.7 217.4 281.9 217.7 280.2 218.1 278.5 218.5 276.8 218.9 275.3 219.3 273.7 219.7 272.3 220 270.8 220.4 269.4 220.8 268.1 221.2 266.8 221.6 265.6 222 264.4 222.3 263.3 222.7 262.2 223.1 261.2 223.5 260.3 223.9 259.3 224.3 258.5 224.6 257.7 225 256.9 225.4 256.2 225.8 255.5 226.2 254.9 226.6 254.3 226.9 253.8 227.3 253.3 227.7 252.8 228.1 252.4 228.5 252.1 228.9 251.7 229.2 251.5 229.6 251.2 230 251 230.4 250.8 230.8 250.7 231.2 250.6 231.5 250.5 231.9 250.4 232.3 250.3 232.7 250.3 233.1 250.3 233.4 250.3 233.8 250.3 234.2 250.3 234.6 250.3 235 250.4 235.4 250.5 235.7 250.6 236.1 250.7 236.5 250.8 236.9 251 237.3 251.2 237.7 251.5 238 251.7 238.4 252.1 238.8 252.4 239.2 252.8 239.6 253.3 240 253.8 240.3 254.3 240.7 254.9 241.1 255.5 241.5 256.2 241.9 256.9 242.3 257.7 242.6 258.5 243 259.3 243.4 260.3 243.8 261.2 244.2 262.2 244.6 263.3 244.9 264.4 245.3 265.6 245.7 266.8 246.1 268.1 246.5 269.4 246.9 270.8 247.2 272.3 247.6 273.7 248 275.3 248.4 276.8 248.8 278.5 249.2 280.2 249.5 281.9 249.9 283.7 250.3 285.5 250.7 287.3 251.1 289.2 251.5 291.2 251.8 293.2 252.2 295.2 252.6 297.3 253 299.4 253.4 301.6 253.7 303.7 254.1 306 254.5 308.2 254.9 310.5 255.3 312.8 255.7 315.1 256 317.5 256.4 319.9 256.8 322.3 257.2 324.7 257.6 327.1 258 329.6 258.3 332.1 258.7 334.5 259.1 337 259.5 339.5 259.9 342.1 260.3 344.6 260.6 347.1 261 349.6 261.4 352.1 261.8 354.6 262.2 357.2 262.6 359.7 262.9 362.2 263.3 364.6 263.7 367.1 264.1 369.6 264.5 372 264.9 374.5 265.2 376.9 265.6 379.3 266 381.6 266.4 384 266.8 386.3 267.2 388.6 267.5 390.9 267.9 393.1 268.3 395.3 268.7 397.5 269.1 399.7 269.5 401.8 269.8 403.9 270.2 405.9 270.6 408 271 409.9 271.4 411.9 271.8 413.8 272.1 415.7 272.5 417.5 272.9 419.3 273.3 421 273.7 422.7 274 424.4 274.4 426.1 274.8 427.6 275.2 429.2 275.6 430.7 276 432.2 276.3 433.6 276.7 435 277.1 436.4 277.5 437.7 277.9 438.9 278.3 440.2 278.6 441.4 279 442.5 279.4 443.7 279.8 444.7 280.2 445.8 280.6 446.8 280.9 447.8 281.3 448.7 281.7 449.6 282.1 450.5 282.5 451.3 282.9 452.1 283.2 452.9 283.6 453.6 284 454.3 284.4 455 284.8 455.7 285.2 456.3 285.5 456.9 285.9 457.5 286.3 458 286.7 458.5 287.1 459 287.5 459.5 287.8 460 288.2 460.4 288.6 460.8 289 461.2 289.4 461.6 289.8 461.9 290.1 462.2 290.5 462.6 290.9 462.9 291.3 463.1 291.7 463.4 292 463.7 292.4 463.9 292.8 464.1 293.2 464.3 293.6 464.5 294 464.7 294.3 464.9 294.7 465.1 295.1 465.2 295.5 465.4 295.9 465.5 296.3 465.6 296.6 465.8 297 465.9 297.4 466 297.8 466.1 298.2 466.2 298.6 466.3 298.9 466.3 299.3 466.4 299.7 466.5 300.1 466.5 300.5 466.6 300.9 466.7 301.2 466.7 301.6 466.8 302 466.8 302.4 466.8 302.8 466.9 303.2 466.9 303.5 466.9 303.9 467 304.3 467 304.7 467 305.1 467.1 305.5 467.1 305.8 467.1 306.2 467.1 306.6 467.1 307 467.1 307.4 467.2 307.8 467.2 308.1 467.2 308.5 467.2 308.9 467.2 309.3 467.2 309.7 467.2 310.1 467.2 310.4 467.2 310.8 467.2 311.2 467.2 311.6 467.3 312 467.3 312.3 467.3 312.7 467.3 313.1 467.3 313.5 467.3 313.9 467.3 314.3 467.3 314.6 467.3 315 467.3 315.4 467.3 315.8 467.3 316.2 467.3 316.6 467.3 316.9 467.3 317.3 467.3 317.7 467.3 318.1 467.3 318.5 467.3 318.9 467.3 319.2 467.3 319.6 467.3 320 467.3 320.4 467.3 320.8 467.3 321.2 467.3 321.5 467.3 321.9 467.3 322.3 467.3 322.7 467.3 323.1 467.3 323.5 467.3 323.8 467.3 324.2 467.3 324.6 467.3 325 467.3 325.4 467.3 325.8 467.3 326.1 467.3 326.5 467.3 326.9 467.3 327.3 467.3 327.7 467.3 328.1 467.3 328.4 467.3 328.8 467.3 329.2 467.3 329.6 467.3 330 467.3 330.3 467.3 330.7 467.3 331.1 467.3 331.5 467.3 331.9 467.3 332.3 467.3 332.6 467.3 333 467.3 333.4 467.3 333.8 467.3 334.2 467.3 334.6 467.3 334.9 467.3 335.3 467.3 335.7 467.3 336.1 467.3 336.5 467.3 336.9 467.3 337.2 467.3 337.6 467.3 338 467.3 338.4 467.3 338.8 467.3 339.2 467.3 339.5 467.3 339.9 467.3 340.3 467.3 340.7 467.3 341.1 467.3 341.5 467.3 341.8 467.3 342.2 467.3 342.6 467.3 343 467.3 343.4 467.3 343.8 467.3 344.1 467.3 344.5 467.3 344.9 467.3 345.3 467.3 345.7 467.3 346.1 467.3 346.4 467.3 346.8 467.3 347.2 467.3 347.6 467.3 348 467.3 348.4 467.3 348.7 467.3 349.1 467.3 349.5 467.3 349.9 467.3 350.3 467.3 350.6 467.3 351 467.3 351.4 467.3 351.8 467.3 352.2 467.3 352.6 467.3 352.9 467.3 353.3 467.3 353.7 467.3 354.1 467.3 354.5 467.3 354.9 467.3 355.2 467.3 355.6 467.3 356 467.3 356.4 467.3 356.8 467.3 357.2 467.3 357.5 467.3 357.9 467.3 358.3 467.3 358.7 467.3 359.1 467.3 359.5 467.3 359.8 467.3 360.2 467.3 360.6 467.3 361 467.3 361.4 467.3 361.8 467.3 362.1 467.3 362.5 467.3 362.9 467.3 363.3 467.3 363.7 467.3 364.1 467.3 364.4 467.3 364.8 467.3 365.2 467.3 365.6 467.3 366 467.3 366.4 467.3 366.7 467.3 367.1 467.3 367.5 467.3 367.9 467.3 368.3 467.3 368.6 467.3 369 467.3 369.4 467.3 369.8 467.3 370.2 467.3 370.6 467.3 370.9 467.3 371.3 467.3 371.7 467.3 372.1 467.3 372.5 467.3 372.9 467.3 373.2 467.3 373.6 467.3 374 467.3 374.4 467.3 374.8 467.3 375.2 467.3 375.5 467.3 375.9 467.3 376.3 467.3 376.7 467.3 377.1 467.3 377.5 467.3 377.8 467.3 378.2 467.3 378.6 467.3 379 467.3 379.4 467.3 379.8 467.3 380.1 467.3 380.5 467.3 380.9 467.3 381.3 467.3 381.7 467.3 382.1 467.3 382.4 467.3 382.8 467.3 383.2 467.3 383.6 467.3 384 467.3 384.4 467.3 384.7 467.3 385.1 467.3 385.5 467.3 385.9 467.3 386.3 467.3 386.6 467.3 387 467.3 387.4 467.3 387.8 467.3 388.2 467.3 388.6 467.3 388.9 467.3 389.3 467.3 389.7 467.3 390.1 467.3 390.5 467.3 390.9 467.3 391.2 467.3 391.6 467.3 392 467.3 392.4 467.3 392.8 467.3 393.2 467.3 393.5 467.3 393.9 467.3 394.3 467.3 394.7 467.3 395.1 467.3 395.5 467.3 395.8 467.3 396.2 467.3 396.6 467.3 397 467.3 397.4 467.3 397.8 467.3 398.1 467.3 398.5 467.3 398.9 467.3 399.3 467.3 399.7 467.3 400.1 467.3 400.4 467.3 400.8 467.3 401.2 467.3 401.6 467.3 402 467.3 402.4 467.3 402.7 467.3 403.1 467.3 403.5 467.3 403.9 467.3 404.3 467.3 404.7 467.3 405 467.3 405.4 467.3 405.8 467.3" fill="none" stroke="#80ffff" stroke-width="3.0" stroke-linejoin="round" clip-path="url(#cc)"/>
<mask id="md" maskUnits="userSpaceOnUse" x="0" y="0" width="787" height="533"><rect width="787" height="533" fill="#fff"/><path d="M428.4 316.3L428.6 318.6 428.9 320.8 429.1 323 429.4 325.1 429.6 327.2 429.8 329.2 430.1 331.2 430.3 333.2 430.6 335 430.8 336.9 431 338.7 431.3 340.4 431.5 342.1 431.8 343.7 432 345.4 432.2 346.9 432.5 348.4 432.7 349.9 432.9 351.4 433.2 352.8 433.4 354.1 433.7 355.5 433.9 356.7 434.1 358 434.4 359.2 434.6 360.4 434.9 361.6 435.1 362.7 435.3 363.8 435.6 364.8 435.8 365.8 436.1 366.8 436.3 367.8 436.5 368.8 436.8 369.7 437 370.6 437.3 371.4 437.5 372.3 437.7 373.1 438 373.9 438.2 374.7 438.5 375.4 438.7 376.2 438.9 376.9 439.2 377.6 439.4 378.2 439.7 378.9 439.9 379.6 440.1 380.2 440.4 380.8 440.6 381.4 440.8 382 441.1 382.6 441.3 383.2 441.6 383.8 441.8 384.3 442 384.9 442.3 385.4 442.5 385.9 442.8 386.5 443 387 443.2 387.5 443.5 388 443.7 388.5 444 389 444.2 389.5 444.4 389.9 444.7 390.4 444.9 390.8 445.2 391.3 445.4 391.7 445.6 392.1 445.9 392.6 446.1 393 446.4 393.4 446.6 393.8 446.8 394.1 447.1 394.5 447.3 394.9 447.5 395.2 447.8 395.6 448 395.9 448.3 396.3 448.5 396.6 448.7 396.9 449 397.2 449.2 397.5 449.5 397.8 449.7 398.1 449.9 398.4 450.2 398.7 450.4 398.9 450.7 399.2 450.9 399.4 451.1 399.7 451.4 399.9 451.6 400.1 451.9 400.3 452.1 400.5 452.3 400.7 452.6 400.9 452.8 401.1 453.1 401.2 453.3 401.4 453.5 401.6 453.8 401.7 454 401.8 454.3 402 454.5 402.1 454.7 402.2 455 402.3 455.2 402.4 455.4 402.5 455.7 402.6 455.9 402.6 456.2 402.7 456.4 402.8 456.6 402.8 456.9 402.8 457.1 402.9 457.4 402.9 457.6 402.9 457.8 402.9 458.1 402.9 458.3 402.9 458.6 402.9 458.8 402.8 459 402.8 459.3 402.7 459.5 402.7 459.8 402.6 460 402.6 460.2 402.5 460.5 402.4 460.7 402.3 461 402.2 461.2 402.1 461.4 402 461.7 401.8 461.9 401.7 462.2 401.6 462.4 401.4 462.6 401.2 462.9 401.1 463.1 400.9 463.3 400.7 463.6 400.5 463.8 400.3 464.1 400.1 464.3 399.9 464.5 399.6 464.8 399.4 465 399.2 465.3 398.9 465.5 398.6 465.7 398.4 466 398.1 466.2 397.8 466.5 397.5 466.7 397.2 466.9 396.9 467.2 396.6 467.4 396.3 467.7 395.9 467.9 395.6 468.1 395.2 468.4 394.9 468.6 394.5 468.9 394.1 469.1 393.7 469.3 393.3 469.6 392.9 469.8 392.5 470.1 392.1 470.3 391.6 470.5 391.2 470.8 390.8 471 390.3 471.2 389.8 471.5 389.4 471.7 388.9 472 388.4 472.2 387.9 472.4 387.4 472.7 386.9 472.9 386.4 473.2 385.8 473.4 385.3 473.6 384.7 473.9 384.2 474.1 383.6 474.4 383 474.6 382.5 474.8 381.9 475.1 381.3 475.3 380.7 475.6 380 475.8 379.4 476 378.8 476.3 378.1 476.5 377.5 476.8 376.8 477 376.2 477.2 375.5 477.5 374.8 477.7 374.1 478 373.4 478.2 372.7 478.4 372 478.7 371.2 478.9 370.5 479.1 369.8 479.4 369 479.6 368.2 479.9 367.5 480.1 366.7 480.3 365.9 480.6 365.1 480.8 364.3 481.1 363.5 481.3 362.7 481.5 361.8 481.8 361 482 360.1 482.3 359.3 482.5 358.4 482.7 357.5 483 356.7 483.2 355.8 483.5 354.9 483.7 354 483.9 353 484.2 352.1 484.4 351.2 484.7 350.2 484.9 349.3 485.1 348.3 485.4 347.3 485.6 346.4 485.8 345.4 486.1 344.4 486.3 343.4 486.6 342.4 486.8 341.3 487 340.3 487.3 339.3 487.5 338.2 487.8 337.2 488 336.1 488.2 335 488.5 334 488.7 332.9 489 331.8 489.2 330.7 489.4 329.6 489.7 328.5 489.9 327.4 490.2 326.2 490.4 325.1 490.6 324 490.9 322.9 491.1 321.7 491.4 320.6 491.6 319.5 491.8 318.3 492.1 317.2 492.3 316.1 492.6 314.9 492.8 313.8 493 312.6 493.3 311.5 493.5 310.4 493.7 309.2 494 308.1 494.2 307 494.5 305.8 494.7 304.7 494.9 303.6 495.2 302.4 495.4 301.3 495.7 300.2 495.9 299.1 496.1 298 496.4 296.9 496.6 295.8 496.9 294.7 497.1 293.6 497.3 292.5 497.6 291.5 497.8 290.4 498.1 289.4 498.3 288.3 498.5 287.3 498.8 286.2 499 285.2 499.3 284.2 499.5 283.2 499.7 282.2 500 281.2 500.2 280.3 500.5 279.3 500.7 278.4 500.9 277.4 501.2 276.5 501.4 275.6 501.6 274.7 501.9 273.8 502.1 273 502.4 272.1 502.6 271.3 502.8 270.5 503.1 269.7 503.3 268.9 503.6 268.1 503.8 267.3 504 266.6 504.3 265.8 504.5 265.1 504.8 264.4 505 263.7 505.2 263.1 505.5 262.4 505.7 261.8 506 261.1 506.2 260.5 506.4 259.9 506.7 259.4 506.9 258.8 507.2 258.3 507.4 257.7 507.6 257.2 507.9 256.7 508.1 256.2 508.4 255.8 508.6 255.3 508.8 254.9 509.1 254.5 509.3 254.1 509.5 253.7 509.8 253.4 510 253 510.3 252.7 510.5 252.4 510.7 252.1 511 251.8 511.2 251.5 511.5 251.3 511.7 251.1 511.9 250.9 512.2 250.7 512.4 250.5 512.7 250.4 512.9 250.3 513.1 250.1 513.4 250.1 513.6 250 513.9 249.9 514.1 249.9 514.3 249.9 514.6 249.9 514.8 249.9 515.1 249.9 515.3 249.9 515.5 250 515.8 250.1 516 250.1 516.3 250.3 516.5 250.4 516.7 250.5 517 250.7 517.2 250.9 517.4 251.1 517.7 251.3 517.9 251.5 518.2 251.8 518.4 252.1 518.6 252.4 518.9 252.7 519.1 253 519.4 253.4 519.6 253.7 519.8 254.1 520.1 254.5 520.3 254.9 520.6 255.3 520.8 255.8 521 256.2 521.3 256.7 521.5 257.2 521.8 257.7 522 258.3 522.2 258.8 522.5 259.4 522.7 259.9 523 260.5 523.2 261.1 523.4 261.8 523.7 262.4 523.9 263.1 524.1 263.7 524.4 264.4 524.6 265.1 524.9 265.8 525.1 266.6 525.3 267.3 525.6 268.1 525.8 268.9 526.1 269.7 526.3 270.5 526.5 271.3 526.8 272.1 527 273 527.3 273.8 527.5 274.7 527.7 275.6 528 276.5 528.2 277.4 528.5 278.4 528.7 279.3 528.9 280.3 529.2 281.2 529.4 282.2 529.7 283.2 529.9 284.2 530.1 285.2 530.4 286.2 530.6 287.3 530.9 288.3 531.1 289.4 531.3 290.4 531.6 291.5 531.8 292.5 532 293.6 532.3 294.7 532.5 295.8 532.8 296.9 533 298 533.2 299.1 533.5 300.2 533.7 301.3 534 302.4 534.2 303.6 534.4 304.7 534.7 305.8 534.9 307 535.2 308.1 535.4 309.2 535.6 310.4 535.9 311.5 536.1 312.6 536.4 313.8 536.6 314.9 536.8 316.1 537.1 317.2 537.3 318.3 537.6 319.5 537.8 320.6 538 321.7 538.3 322.9 538.5 324 538.8 325.1 539 326.2 539.2 327.4 539.5 328.5 539.7 329.6 539.9 330.7 540.2 331.8 540.4 332.9 540.7 334 540.9 335 541.1 336.1 541.4 337.2 541.6 338.2 541.9 339.3 542.1 340.3 542.3 341.3 542.6 342.4 542.8 343.4 543.1 344.4 543.3 345.4 543.5 346.4 543.8 347.3 544 348.3 544.3 349.3 544.5 350.2 544.7 351.2 545 352.1 545.2 353 545.5 354 545.7 354.9 545.9 355.8 546.2 356.7 546.4 357.5 546.7 358.4 546.9 359.3 547.1 360.1 547.4 361 547.6 361.8 547.8 362.7 548.1 363.5 548.3 364.3 548.6 365.1 548.8 365.9 549 366.7 549.3 367.5 549.5 368.2 549.8 369 550 369.8 550.2 370.5 550.5 371.2 550.7 372 551 372.7 551.2 373.4 551.4 374.1 551.7 374.8 551.9 375.5 552.2 376.2 552.4 376.8 552.6 377.5 552.9 378.1 553.1 378.8 553.4 379.4 553.6 380 553.8 380.7 554.1 381.3 554.3 381.9 554.6 382.5 554.8 383 555 383.6 555.3 384.2 555.5 384.7 555.7 385.3 556 385.8 556.2 386.4 556.5 386.9 556.7 387.4 556.9 387.9 557.2 388.4 557.4 388.9 557.7 389.4 557.9 389.8 558.1 390.3 558.4 390.8 558.6 391.2 558.9 391.6 559.1 392.1 559.3 392.5 559.6 392.9 559.8 393.3 560.1 393.7 560.3 394.1 560.5 394.5 560.8 394.9 561 395.2 561.3 395.6 561.5 395.9 561.7 396.3 562 396.6 562.2 396.9 562.5 397.2 562.7 397.5 562.9 397.8 563.2 398.1 563.4 398.4 563.6 398.6 563.9 398.9 564.1 399.2 564.4 399.4 564.6 399.6 564.8 399.9 565.1 400.1 565.3 400.3 565.6 400.5 565.8 400.7 566 400.9 566.3 401.1 566.5 401.2 566.8 401.4 567 401.6 567.2 401.7 567.5 401.8 567.7 402 568 402.1 568.2 402.2 568.4 402.3 568.7 402.4 568.9 402.5 569.2 402.6 569.4 402.6 569.6 402.7 569.9 402.7 570.1 402.8 570.3 402.8 570.6 402.9 570.8 402.9 571.1 402.9 571.3 402.9 571.5 402.9 571.8 402.9 572 402.9 572.3 402.8 572.5 402.8 572.7 402.8 573 402.7 573.2 402.6 573.5 402.6 573.7 402.5 573.9 402.4 574.2 402.3 574.4 402.2 574.7 402.1 574.9 402 575.1 401.8 575.4 401.7 575.6 401.6 575.9 401.4 576.1 401.2 576.3 401.1 576.6 400.9 576.8 400.7 577.1 400.5 577.3 400.3 577.5 400.1 577.8 399.9 578 399.7 578.2 399.4 578.5 399.2 578.7 398.9 579 398.7 579.2 398.4 579.4 398.1 579.7 397.8 579.9 397.5 580.2 397.2 580.4 396.9 580.6 396.6 580.9 396.3 581.1 395.9 581.4 395.6 581.6 395.2 581.8 394.9 582.1 394.5 582.3 394.1 582.6 393.8 582.8 393.4 583 393 583.3 392.6 583.5 392.1 583.8 391.7 584 391.3 584.2 390.8 584.5 390.4 584.7 389.9 585 389.5 585.2 389 585.4 388.5 585.7 388 585.9 387.5 586.1 387 586.4 386.5 586.6 385.9 586.9 385.4 587.1 384.9 587.3 384.3 587.6 383.8 587.8 383.2 588.1 382.6 588.3 382 588.5 381.4 588.8 380.8 589 380.2 589.3 379.6 589.5 378.9 589.7 378.2 590 377.6 590.2 376.9 590.5 376.2 590.7 375.4 590.9 374.7 591.2 373.9 591.4 373.1 591.7 372.3 591.9 371.4 592.1 370.6 592.4 369.7 592.6 368.8 592.9 367.8 593.1 366.8 593.3 365.8 593.6 364.8 593.8 363.8 594 362.7 594.3 361.6 594.5 360.4 594.8 359.2 595 358 595.2 356.7 595.5 355.5 595.7 354.1 596 352.8 596.2 351.4 596.4 349.9 596.7 348.4 596.9 346.9 597.2 345.4 597.4 343.7 597.6 342.1 597.9 340.4 598.1 338.7 598.4 336.9 598.6 335 598.8 333.2 599.1 331.2 599.3 329.2 599.6 327.2 599.8 325.1 600 323 600.3 320.8 600.5 318.6 600.8 316.3 601 318.6 601.2 320.8 601.5 323 601.7 325.1 601.9 327.2 602.2 329.2 602.4 331.2 602.7 333.2 602.9 335 603.1 336.9 603.4 338.7 603.6 340.4 603.9 342.1 604.1 343.7 604.3 345.4 604.6 346.9 604.8 348.4 605.1 349.9 605.3 351.4 605.5 352.8 605.8 354.1 606 355.5 606.3 356.7 606.5 358 606.7 359.2 607 360.4 607.2 361.6 607.5 362.7 607.7 363.8 607.9 364.8 608.2 365.8 608.4 366.8 608.6 367.8 608.9 368.8 609.1 369.7 609.4 370.6 609.6 371.4 609.8 372.3 610.1 373.1 610.3 373.9 610.6 374.7 610.8 375.4 611 376.2 611.3 376.9 611.5 377.6 611.8 378.2 612 378.9 612.2 379.6 612.5 380.2 612.7 380.8 613 381.4 613.2 382 613.4 382.6 613.7 383.2 613.9 383.8 614.2 384.3 614.4 384.9 614.6 385.4 614.9 385.9 615.1 386.5 615.4 387 615.6 387.5 615.8 388 616.1 388.5 616.3 389 616.5 389.5 616.8 389.9 617 390.4 617.3 390.8 617.5 391.3 617.7 391.7 618 392.1 618.2 392.6 618.5 393 618.7 393.4 618.9 393.8 619.2 394.1 619.4 394.5 619.7 394.9 619.9 395.2 620.1 395.6 620.4 395.9 620.6 396.3 620.9 396.6 621.1 396.9 621.3 397.2 621.6 397.5 621.8 397.8 622.1 398.1 622.3 398.4 622.5 398.7 622.8 398.9 623 399.2 623.3 399.4 623.5 399.7 623.7 399.9 624 400.1 624.2 400.3 624.4 400.5 624.7 400.7 624.9 400.9 625.2 401.1 625.4 401.2 625.6 401.4 625.9 401.6 626.1 401.7 626.4 401.8 626.6 402 626.8 402.1 627.1 402.2 627.3 402.3 627.6 402.4 627.8 402.5 628 402.6 628.3 402.6 628.5 402.7 628.8 402.8 629 402.8 629.2 402.8 629.5 402.9 629.7 402.9 630 402.9 630.2 402.9 630.4 402.9 630.7 402.9 630.9 402.9 631.2 402.8 631.4 402.8 631.6 402.7 631.9 402.7 632.1 402.6 632.3 402.6 632.6 402.5 632.8 402.4 633.1 402.3 633.3 402.2 633.5 402.1 633.8 402 634 401.8 634.3 401.7 634.5 401.6 634.7 401.4 635 401.2 635.2 401.1 635.5 400.9 635.7 400.7 635.9 400.5 636.2 400.3 636.4 400.1 636.7 399.9 636.9 399.6 637.1 399.4 637.4 399.2 637.6 398.9 637.9 398.6 638.1 398.4 638.3 398.1 638.6 397.8 638.8 397.5 639 397.2 639.3 396.9 639.5 396.6 639.8 396.3 640 395.9 640.2 395.6 640.5 395.2 640.7 394.9 641 394.5 641.2 394.1 641.4 393.7 641.7 393.3 641.9 392.9 642.2 392.5 642.4 392.1 642.6 391.6 642.9 391.2 643.1 390.8 643.4 390.3 643.6 389.8 643.8 389.4 644.1 388.9 644.3 388.4 644.6 387.9 644.8 387.4 645 386.9 645.3 386.4 645.5 385.8 645.8 385.3 646 384.7 646.2 384.2 646.5 383.6 646.7 383 646.9 382.5 647.2 381.9 647.4 381.3 647.7 380.7 647.9 380 648.1 379.4 648.4 378.8 648.6 378.1 648.9 377.5 649.1 376.8 649.3 376.2 649.6 375.5 649.8 374.8 650.1 374.1 650.3 373.4 650.5 372.7 650.8 372 651 371.2 651.3 370.5 651.5 369.8 651.7 369 652 368.2 652.2 367.5 652.5 366.7 652.7 365.9 652.9 365.1 653.2 364.3 653.4 363.5 653.7 362.7 653.9 361.8 654.1 361 654.4 360.1 654.6 359.3 654.8 358.4 655.1 357.5 655.3 356.7 655.6 355.8 655.8 354.9 656 354 656.3 353 656.5 352.1 656.8 351.2 657 350.2 657.2 349.3 657.5 348.3 657.7 347.3 658 346.4 658.2 345.4 658.4 344.4 658.7 343.4 658.9 342.4 659.2 341.3 659.4 340.3 659.6 339.3 659.9 338.2 660.1 337.2 660.4 336.1 660.6 335 660.8 334 661.1 332.9 661.3 331.8 661.6 330.7 661.8 329.6 662 328.5 662.3 327.4 662.5 326.2 662.7 325.1 663 324 663.2 322.9 663.5 321.7 663.7 320.6 663.9 319.5 664.2 318.3 664.4 317.2 664.7 316.1 664.9 314.9 665.1 313.8 665.4 312.6 665.6 311.5 665.9 310.4 666.1 309.2 666.3 308.1 666.6 307 666.8 305.8 667.1 304.7 667.3 303.6 667.5 302.4 667.8 301.3 668 300.2 668.3 299.1 668.5 298 668.7 296.9 669 295.8 669.2 294.7 669.5 293.6 669.7 292.5 669.9 291.5 670.2 290.4 670.4 289.4 670.6 288.3 670.9 287.3 671.1 286.2 671.4 285.2 671.6 284.2 671.8 283.2 672.1 282.2 672.3 281.2 672.6 280.3 672.8 279.3 673 278.4 673.3 277.4 673.5 276.5 673.8 275.6 674 274.7 674.2 273.8 674.5 273 674.7 272.1 675 271.3 675.2 270.5 675.4 269.7 675.7 268.9 675.9 268.1 676.2 267.3 676.4 266.6 676.6 265.8 676.9 265.1 677.1 264.4 677.4 263.7 677.6 263.1 677.8 262.4 678.1 261.8 678.3 261.1 678.5 260.5 678.8 259.9 679 259.4 679.3 258.8 679.5 258.3 679.7 257.7 680 257.2 680.2 256.7 680.5 256.2 680.7 255.8 680.9 255.3 681.2 254.9 681.4 254.5 681.7 254.1 681.9 253.7 682.1 253.4 682.4 253 682.6 252.7 682.9 252.4 683.1 252.1 683.3 251.8 683.6 251.5 683.8 251.3 684.1 251.1 684.3 250.9 684.5 250.7 684.8 250.5 685 250.4 685.2 250.3 685.5 250.1 685.7 250.1 686 250 686.2 249.9 686.4 249.9 686.7 249.9 686.9 249.9 687.2 249.9 687.4 249.9 687.6 249.9 687.9 250 688.1 250.1 688.4 250.1 688.6 250.3 688.8 250.4 689.1 250.5 689.3 250.7 689.6 250.9 689.8 251.1 690 251.3 690.3 251.5 690.5 251.8 690.8 252.1 691 252.4 691.2 252.7 691.5 253 691.7 253.4 692 253.7 692.2 254.1 692.4 254.5 692.7 254.9 692.9 255.3 693.1 255.8 693.4 256.2 693.6 256.7 693.9 257.2 694.1 257.7 694.3 258.3 694.6 258.8 694.8 259.4 695.1 259.9 695.3 260.5 695.5 261.1 695.8 261.8 696 262.4 696.3 263.1 696.5 263.7 696.7 264.4 697 265.1 697.2 265.8 697.5 266.6 697.7 267.3 697.9 268.1 698.2 268.9 698.4 269.7 698.7 270.5 698.9 271.3 699.1 272.1 699.4 273 699.6 273.8 699.9 274.7 700.1 275.6 700.3 276.5 700.6 277.4 700.8 278.4 701 279.3 701.3 280.3 701.5 281.2 701.8 282.2 702 283.2 702.2 284.2 702.5 285.2 702.7 286.2 703 287.3 703.2 288.3 703.4 289.4 703.7 290.4 703.9 291.5 704.2 292.5 704.4 293.6 704.6 294.7 704.9 295.8 705.1 296.9 705.4 298 705.6 299.1 705.8 300.2 706.1 301.3 706.3 302.4 706.6 303.6 706.8 304.7 707 305.8 707.3 307 707.5 308.1 707.8 309.2 708 310.4 708.2 311.5 708.5 312.6 708.7 313.8 708.9 314.9 709.2 316.1 709.4 317.2 709.7 318.3 709.9 319.5 710.1 320.6 710.4 321.7 710.6 322.9 710.9 324 711.1 325.1 711.3 326.2 711.6 327.4 711.8 328.5 712.1 329.6 712.3 330.7 712.5 331.8 712.8 332.9 713 334 713.3 335 713.5 336.1 713.7 337.2 714 338.2 714.2 339.3 714.5 340.3 714.7 341.3 714.9 342.4 715.2 343.4 715.4 344.4 715.7 345.4 715.9 346.4 716.1 347.3 716.4 348.3 716.6 349.3 716.8 350.2 717.1 351.2 717.3 352.1 717.6 353 717.8 354 718 354.9 718.3 355.8 718.5 356.7 718.8 357.5 719 358.4 719.2 359.3 719.5 360.1 719.7 361 720 361.8 720.2 362.7 720.4 363.5 720.7 364.3 720.9 365.1 721.2 365.9 721.4 366.7 721.6 367.5 721.9 368.2 722.1 369 722.4 369.8 722.6 370.5 722.8 371.2 723.1 372 723.3 372.7 723.5 373.4 723.8 374.1 724 374.8 724.3 375.5 724.5 376.2 724.7 376.8 725 377.5 725.2 378.1 725.5 378.8 725.7 379.4 725.9 380 726.2 380.7 726.4 381.3 726.7 381.9 726.9 382.5 727.1 383 727.4 383.6 727.6 384.2 727.9 384.7 728.1 385.3 728.3 385.8 728.6 386.4 728.8 386.9 729.1 387.4 729.3 387.9 729.5 388.4 729.8 388.9 730 389.4 730.3 389.8 730.5 390.3 730.7 390.8 731 391.2 731.2 391.6 731.4 392.1 731.7 392.5 731.9 392.9 732.2 393.3 732.4 393.7 732.6 394.1 732.9 394.5 733.1 394.9 733.4 395.2 733.6 395.6 733.8 395.9 734.1 396.3 734.3 396.6 734.6 396.9 734.8 397.2 735 397.5 735.3 397.8 735.5 398.1 735.8 398.4 736 398.6 736.2 398.9 736.5 399.2 736.7 399.4 737 399.6 737.2 399.9 737.4 400.1 737.7 400.3 737.9 400.5 738.2 400.7 738.4 400.9 738.6 401.1 738.9 401.2 739.1 401.4 739.3 401.6 739.6 401.7 739.8 401.8 740.1 402 740.3 402.1 740.5 402.2 740.8 402.3 741 402.4 741.3 402.5 741.5 402.6 741.7 402.6 742 402.7 742.2 402.7 742.5 402.8 742.7 402.8 742.9 402.9 743.2 402.9 743.4 402.9 743.7 402.9 743.9 402.9 744.1 402.9 744.4 402.9 744.6 402.8 744.9 402.8 745.1 402.8 745.3 402.7 745.6 402.6 745.8 402.6 746.1 402.5 746.3 402.4 746.5 402.3 746.8 402.2 747 402.1 747.2 402 747.5 401.8 747.7 401.7 748 401.6 748.2 401.4 748.4 401.2 748.7 401.1 748.9 400.9 749.2 400.7 749.4 400.5 749.6 400.3 749.9 400.1 750.1 399.9 750.4 399.7 750.6 399.4 750.8 399.2 751.1 398.9 751.3 398.7 751.6 398.4 751.8 398.1 752 397.8 752.3 397.5 752.5 397.2 752.8 396.9 753 396.6 753.2 396.3 753.5 395.9 753.7 395.6 754 395.2 754.2 394.9 754.4 394.5 754.7 394.1 754.9 393.8 755.1 393.4 755.4 393 755.6 392.6 755.9 392.1 756.1 391.7 756.3 391.3 756.6 390.8 756.8 390.4 757.1 389.9 757.3 389.5 757.5 389 757.8 388.5 758 388 758.3 387.5 758.5 387 758.7 386.5 759 385.9 759.2 385.4 759.5 384.9 759.7 384.3 759.9 383.8 760.2 383.2 760.4 382.6 760.7 382 760.9 381.4 761.1 380.8 761.4 380.2 761.6 379.6 761.8 378.9 762.1 378.2 762.3 377.6 762.6 376.9 762.8 376.2 763 375.4 763.3 374.7 763.5 373.9 763.8 373.1 764 372.3 764.2 371.4 764.5 370.6 764.7 369.7 765 368.8 765.2 367.8 765.4 366.8 765.7 365.8 765.9 364.8 766.2 363.8 766.4 362.7 766.6 361.6 766.9 360.4 767.1 359.2 767.4 358 767.6 356.7 767.8 355.5 768.1 354.1 768.3 352.8 768.6 351.4 768.8 349.9 769 348.4 769.3 346.9 769.5 345.4 769.7 343.7 770 342.1 770.2 340.4 770.5 338.7 770.7 336.9 770.9 335 771.2 333.2 771.4 331.2 771.7 329.2 771.9 327.2 772.1 325.1 772.4 323 772.6 320.8 772.9 318.6 773.1 316.3" fill="none" stroke="#000" stroke-width="3.6" stroke-linejoin="round"/></mask>
<g mask="url(#md)">
<path d="M428.4 257L428.6 259 428.9 261.1 429.1 263.1 429.4 265.2 429.6 267.3 429.8 269.3 430.1 271.4 430.3 273.5 430.6 275.6 430.8 277.7 431 279.8 431.3 281.9 431.5 284 431.8 286.1 432 288.2 432.2 290.3 432.5 292.4 432.7 294.5 432.9 296.6 433.2 298.7 433.4 300.7 433.7 302.8 433.9 304.8 434.1 306.8 434.4 308.8 434.6 310.8 434.9 312.8 435.1 314.8 435.3 316.7 435.6 318.6 435.8 320.5 436.1 322.4 436.3 324.2 436.5 326.1 436.8 327.9 437 329.6 437.3 331.4 437.5 333.1 437.7 334.8 438 336.4 438.2 338.1 438.5 339.7 438.7 341.2 438.9 342.8 439.2 344.3 439.4 345.8 439.7 347.2 439.9 348.6 440.1 350 440.4 351.3 440.6 352.7 440.8 353.9 441.1 355.2 441.3 356.4 441.6 357.6 441.8 358.7 442 359.8 442.3 360.9 442.5 362 442.8 363 443 364 443.2 364.9 443.5 365.8 443.7 366.7 444 367.6 444.2 368.4 444.4 369.2 444.7 370 444.9 370.8 445.2 371.5 445.4 372.2 445.6 372.9 445.9 373.6 446.1 374.2 446.4 374.9 446.6 375.5 446.8 376.1 447.1 376.7 447.3 377.2 447.5 377.8 447.8 378.3 448 378.9 448.3 379.4 448.5 379.9 448.7 380.4 449 380.9 449.2 381.3 449.5 381.8 449.7 382.3 449.9 382.7 450.2 383.2 450.4 383.6 450.7 384.1 450.9 384.5 451.1 385 451.4 385.4 451.6 385.8 451.9 386.2 452.1 386.6 452.3 387 452.6 387.4 452.8 387.8 453.1 388.2 453.3 388.6 453.5 388.9 453.8 389.3 454 389.7 454.3 390 454.5 390.3 454.7 390.7 455 391 455.2 391.3 455.4 391.6 455.7 391.9 455.9 392.1 456.2 392.4 456.4 392.7 456.6 392.9 456.9 393.2 457.1 393.4 457.4 393.6 457.6 393.8 457.8 394 458.1 394.2 458.3 394.3 458.6 394.5 458.8 394.7 459 394.8 459.3 394.9 459.5 395 459.8 395.1 460 395.2 460.2 395.3 460.5 395.3 460.7 395.4 461 395.4 461.2 395.4 461.4 395.4 461.7 395.4 461.9 395.4 462.2 395.4 462.4 395.3 462.6 395.3 462.9 395.2 463.1 395.1 463.3 395 463.6 394.9 463.8 394.8 464.1 394.7 464.3 394.6 464.5 394.4 464.8 394.3 465 394.1 465.3 393.9 465.5 393.7 465.7 393.5 466 393.3 466.2 393.1 466.5 392.8 466.7 392.6 466.9 392.3 467.2 392 467.4 391.8 467.7 391.5 467.9 391.2 468.1 390.9 468.4 390.6 468.6 390.2 468.9 389.9 469.1 389.6 469.3 389.2 469.6 388.8 469.8 388.5 470.1 388.1 470.3 387.7 470.5 387.2 470.8 386.8 471 386.4 471.2 385.9 471.5 385.5 471.7 385 472 384.5 472.2 384 472.4 383.5 472.7 383 472.9 382.5 473.2 381.9 473.4 381.4 473.6 380.8 473.9 380.2 474.1 379.6 474.4 379.1 474.6 378.5 474.8 377.8 475.1 377.2 475.3 376.6 475.6 375.9 475.8 375.3 476 374.6 476.3 374 476.5 373.3 476.8 372.6 477 371.9 477.2 371.2 477.5 370.5 477.7 369.8 478 369 478.2 368.3 478.4 367.5 478.7 366.8 478.9 366 479.1 365.3 479.4 364.5 479.6 363.7 479.9 362.9 480.1 362.1 480.3 361.3 480.6 360.5 480.8 359.7 481.1 358.8 481.3 358 481.5 357.2 481.8 356.3 482 355.5 482.3 354.6 482.5 353.7 482.7 352.8 483 351.9 483.2 351 483.5 350.1 483.7 349.2 483.9 348.3 484.2 347.4 484.4 346.5 484.7 345.5 484.9 344.6 485.1 343.6 485.4 342.6 485.6 341.7 485.8 340.7 486.1 339.7 486.3 338.7 486.6 337.7 486.8 336.7 487 335.7 487.3 334.7 487.5 333.7 487.8 332.6 488 331.6 488.2 330.5 488.5 329.5 488.7 328.5 489 327.4 489.2 326.3 489.4 325.3 489.7 324.2 489.9 323.2 490.2 322.1 490.4 321 490.6 319.9 490.9 318.9 491.1 317.8 491.4 316.7 491.6 315.6 491.8 314.6 492.1 313.5 492.3 312.4 492.6 311.3 492.8 310.3 493 309.2 493.3 308.1 493.5 307 493.7 306 494 304.9 494.2 303.8 494.5 302.8 494.7 301.7 494.9 300.7 495.2 299.6 495.4 298.6 495.7 297.5 495.9 296.5 496.1 295.4 496.4 294.4 496.6 293.4 496.9 292.4 497.1 291.4 497.3 290.4 497.6 289.4 497.8 288.4 498.1 287.4 498.3 286.4 498.5 285.4 498.8 284.5 499 283.5 499.3 282.6 499.5 281.6 499.7 280.7 500 279.8 500.2 278.9 500.5 278 500.7 277.1 500.9 276.2 501.2 275.4 501.4 274.5 501.6 273.7 501.9 272.9 502.1 272 502.4 271.2 502.6 270.5 502.8 269.7 503.1 268.9 503.3 268.2 503.6 267.4 503.8 266.7 504 266 504.3 265.3 504.5 264.6 504.8 263.9 505 263.3 505.2 262.7 505.5 262 505.7 261.4 506 260.8 506.2 260.2 506.4 259.7 506.7 259.1 506.9 258.6 507.2 258 507.4 257.5 507.6 257 507.9 256.6 508.1 256.1 508.4 255.7 508.6 255.2 508.8 254.8 509.1 254.4 509.3 254 509.5 253.7 509.8 253.3 510 253 510.3 252.6 510.5 252.3 510.7 252.1 511 251.8 511.2 251.5 511.5 251.3 511.7 251.1 511.9 250.9 512.2 250.7 512.4 250.5 512.7 250.4 512.9 250.3 513.1 250.1 513.4 250.1 513.6 250 513.9 249.9 514.1 249.9 514.3 249.9 514.6 249.9 514.8 249.9 515.1 249.9 515.3 249.9 515.5 250 515.8 250.1 516 250.1 516.3 250.3 516.5 250.4 516.7 250.5 517 250.7 517.2 250.9 517.4 251.1 517.7 251.3 517.9 251.5 518.2 251.8 518.4 252.1 518.6 252.3 518.9 252.6 519.1 253 519.4 253.3 519.6 253.7 519.8 254 520.1 254.4 520.3 254.8 520.6 255.2 520.8 255.7 521 256.1 521.3 256.6 521.5 257 521.8 257.5 522 258 522.2 258.6 522.5 259.1 522.7 259.7 523 260.2 523.2 260.8 523.4 261.4 523.7 262 523.9 262.7 524.1 263.3 524.4 263.9 524.6 264.6 524.9 265.3 525.1 266 525.3 266.7 525.6 267.4 525.8 268.2 526.1 268.9 526.3 269.7 526.5 270.5 526.8 271.2 527 272 527.3 272.9 527.5 273.7 527.7 274.5 528 275.4 528.2 276.2 528.5 277.1 528.7 278 528.9 278.9 529.2 279.8 529.4 280.7 529.7 281.6 529.9 282.6 530.1 283.5 530.4 284.5 530.6 285.4 530.9 286.4 531.1 287.4 531.3 288.4 531.6 289.4 531.8 290.4 532 291.4 532.3 292.4 532.5 293.4 532.8 294.4 533 295.4 533.2 296.5 533.5 297.5 533.7 298.6 534 299.6 534.2 300.7 534.4 301.7 534.7 302.8 534.9 303.8 535.2 304.9 535.4 306 535.6 307 535.9 308.1 536.1 309.2 536.4 310.3 536.6 311.3 536.8 312.4 537.1 313.5 537.3 314.6 537.6 315.6 537.8 316.7 538 317.8 538.3 318.9 538.5 319.9 538.8 321 539 322.1 539.2 323.2 539.5 324.2 539.7 325.3 539.9 326.3 540.2 327.4 540.4 328.5 540.7 329.5 540.9 330.5 541.1 331.6 541.4 332.6 541.6 333.7 541.9 334.7 542.1 335.7 542.3 336.7 542.6 337.7 542.8 338.7 543.1 339.7 543.3 340.7 543.5 341.7 543.8 342.6 544 343.6 544.3 344.6 544.5 345.5 544.7 346.5 545 347.4 545.2 348.3 545.5 349.2 545.7 350.1 545.9 351 546.2 351.9 546.4 352.8 546.7 353.7 546.9 354.6 547.1 355.5 547.4 356.3 547.6 357.2 547.8 358 548.1 358.8 548.3 359.7 548.6 360.5 548.8 361.3 549 362.1 549.3 362.9 549.5 363.7 549.8 364.5 550 365.3 550.2 366 550.5 366.8 550.7 367.5 551 368.3 551.2 369 551.4 369.8 551.7 370.5 551.9 371.2 552.2 371.9 552.4 372.6 552.6 373.3 552.9 374 553.1 374.6 553.4 375.3 553.6 375.9 553.8 376.6 554.1 377.2 554.3 377.8 554.6 378.5 554.8 379.1 555 379.6 555.3 380.2 555.5 380.8 555.7 381.4 556 381.9 556.2 382.5 556.5 383 556.7 383.5 556.9 384 557.2 384.5 557.4 385 557.7 385.5 557.9 385.9 558.1 386.4 558.4 386.8 558.6 387.2 558.9 387.7 559.1 388.1 559.3 388.5 559.6 388.8 559.8 389.2 560.1 389.6 560.3 389.9 560.5 390.2 560.8 390.6 561 390.9 561.3 391.2 561.5 391.5 561.7 391.8 562 392 562.2 392.3 562.5 392.6 562.7 392.8 562.9 393.1 563.2 393.3 563.4 393.5 563.6 393.7 563.9 393.9 564.1 394.1 564.4 394.3 564.6 394.4 564.8 394.6 565.1 394.7 565.3 394.8 565.6 394.9 565.8 395 566 395.1 566.3 395.2 566.5 395.3 566.8 395.3 567 395.4 567.2 395.4 567.5 395.4 567.7 395.4 568 395.4 568.2 395.4 568.4 395.4 568.7 395.3 568.9 395.3 569.2 395.2 569.4 395.1 569.6 395 569.9 394.9 570.1 394.8 570.3 394.7 570.6 394.5 570.8 394.3 571.1 394.2 571.3 394 571.5 393.8 571.8 393.6 572 393.4 572.3 393.2 572.5 392.9 572.7 392.7 573 392.4 573.2 392.1 573.5 391.9 573.7 391.6 573.9 391.3 574.2 391 574.4 390.7 574.7 390.3 574.9 390 575.1 389.7 575.4 389.3 575.6 388.9 575.9 388.6 576.1 388.2 576.3 387.8 576.6 387.4 576.8 387 577.1 386.6 577.3 386.2 577.5 385.8 577.8 385.4 578 385 578.2 384.5 578.5 384.1 578.7 383.6 579 383.2 579.2 382.7 579.4 382.3 579.7 381.8 579.9 381.3 580.2 380.9 580.4 380.4 580.6 379.9 580.9 379.4 581.1 378.9 581.4 378.3 581.6 377.8 581.8 377.2 582.1 376.7 582.3 376.1 582.6 375.5 582.8 374.9 583 374.2 583.3 373.6 583.5 372.9 583.8 372.2 584 371.5 584.2 370.8 584.5 370 584.7 369.2 585 368.4 585.2 367.6 585.4 366.7 585.7 365.8 585.9 364.9 586.1 364 586.4 363 586.6 362 586.9 360.9 587.1 359.8 587.3 358.7 587.6 357.6 587.8 356.4 588.1 355.2 588.3 353.9 588.5 352.7 588.8 351.3 589 350 589.3 348.6 589.5 347.2 589.7 345.8 590 344.3 590.2 342.8 590.5 341.2 590.7 339.7 590.9 338.1 591.2 336.4 591.4 334.8 591.7 333.1 591.9 331.4 592.1 329.6 592.4 327.9 592.6 326.1 592.9 324.2 593.1 322.4 593.3 320.5 593.6 318.6 593.8 316.7 594 314.8 594.3 312.8 594.5 310.8 594.8 308.8 595 306.8 595.2 304.8 595.5 302.8 595.7 300.7 596 298.7 596.2 296.6 596.4 294.5 596.7 292.4 596.9 290.3 597.2 288.2 597.4 286.1 597.6 284 597.9 281.9 598.1 279.8 598.4 277.7 598.6 275.6 598.8 273.5 599.1 271.4 599.3 269.3 599.6 267.3 599.8 265.2 600 263.1 600.3 261.1 600.5 259 600.8 257 601 259 601.2 261.1 601.5 263.1 601.7 265.2 601.9 267.3 602.2 269.3 602.4 271.4 602.7 273.5 602.9 275.6 603.1 277.7 603.4 279.8 603.6 281.9 603.9 284 604.1 286.1 604.3 288.2 604.6 290.3 604.8 292.4 605.1 294.5 605.3 296.6 605.5 298.7 605.8 300.7 606 302.8 606.3 304.8 606.5 306.8 606.7 308.8 607 310.8 607.2 312.8 607.5 314.8 607.7 316.7 607.9 318.6 608.2 320.5 608.4 322.4 608.6 324.2 608.9 326.1 609.1 327.9 609.4 329.6 609.6 331.4 609.8 333.1 610.1 334.8 610.3 336.4 610.6 338.1 610.8 339.7 611 341.2 611.3 342.8 611.5 344.3 611.8 345.8 612 347.2 612.2 348.6 612.5 350 612.7 351.3 613 352.7 613.2 353.9 613.4 355.2 613.7 356.4 613.9 357.6 614.2 358.7 614.4 359.8 614.6 360.9 614.9 362 615.1 363 615.4 364 615.6 364.9 615.8 365.8 616.1 366.7 616.3 367.6 616.5 368.4 616.8 369.2 617 370 617.3 370.8 617.5 371.5 617.7 372.2 618 372.9 618.2 373.6 618.5 374.2 618.7 374.9 618.9 375.5 619.2 376.1 619.4 376.7 619.7 377.2 619.9 377.8 620.1 378.3 620.4 378.9 620.6 379.4 620.9 379.9 621.1 380.4 621.3 380.9 621.6 381.3 621.8 381.8 622.1 382.3 622.3 382.7 622.5 383.2 622.8 383.6 623 384.1 623.3 384.5 623.5 385 623.7 385.4 624 385.8 624.2 386.2 624.4 386.6 624.7 387 624.9 387.4 625.2 387.8 625.4 388.2 625.6 388.6 625.9 388.9 626.1 389.3 626.4 389.7 626.6 390 626.8 390.3 627.1 390.7 627.3 391 627.6 391.3 627.8 391.6 628 391.9 628.3 392.1 628.5 392.4 628.8 392.7 629 392.9 629.2 393.2 629.5 393.4 629.7 393.6 630 393.8 630.2 394 630.4 394.2 630.7 394.3 630.9 394.5 631.2 394.7 631.4 394.8 631.6 394.9 631.9 395 632.1 395.1 632.3 395.2 632.6 395.3 632.8 395.3 633.1 395.4 633.3 395.4 633.5 395.4 633.8 395.4 634 395.4 634.3 395.4 634.5 395.4 634.7 395.3 635 395.3 635.2 395.2 635.5 395.1 635.7 395 635.9 394.9 636.2 394.8 636.4 394.7 636.7 394.6 636.9 394.4 637.1 394.3 637.4 394.1 637.6 393.9 637.9 393.7 638.1 393.5 638.3 393.3 638.6 393.1 638.8 392.8 639 392.6 639.3 392.3 639.5 392 639.8 391.8 640 391.5 640.2 391.2 640.5 390.9 640.7 390.6 641 390.2 641.2 389.9 641.4 389.6 641.7 389.2 641.9 388.8 642.2 388.5 642.4 388.1 642.6 387.7 642.9 387.2 643.1 386.8 643.4 386.4 643.6 385.9 643.8 385.5 644.1 385 644.3 384.5 644.6 384 644.8 383.5 645 383 645.3 382.5 645.5 381.9 645.8 381.4 646 380.8 646.2 380.2 646.5 379.6 646.7 379.1 646.9 378.5 647.2 377.8 647.4 377.2 647.7 376.6 647.9 375.9 648.1 375.3 648.4 374.6 648.6 374 648.9 373.3 649.1 372.6 649.3 371.9 649.6 371.2 649.8 370.5 650.1 369.8 650.3 369 650.5 368.3 650.8 367.5 651 366.8 651.3 366 651.5 365.3 651.7 364.5 652 363.7 652.2 362.9 652.5 362.1 652.7 361.3 652.9 360.5 653.2 359.7 653.4 358.8 653.7 358 653.9 357.2 654.1 356.3 654.4 355.5 654.6 354.6 654.8 353.7 655.1 352.8 655.3 351.9 655.6 351 655.8 350.1 656 349.2 656.3 348.3 656.5 347.4 656.8 346.5 657 345.5 657.2 344.6 657.5 343.6 657.7 342.6 658 341.7 658.2 340.7 658.4 339.7 658.7 338.7 658.9 337.7 659.2 336.7 659.4 335.7 659.6 334.7 659.9 333.7 660.1 332.6 660.4 331.6 660.6 330.5 660.8 329.5 661.1 328.5 661.3 327.4 661.6 326.3 661.8 325.3 662 324.2 662.3 323.2 662.5 322.1 662.7 321 663 319.9 663.2 318.9 663.5 317.8 663.7 316.7 663.9 315.6 664.2 314.6 664.4 313.5 664.7 312.4 664.9 311.3 665.1 310.3 665.4 309.2 665.6 308.1 665.9 307 666.1 306 666.3 304.9 666.6 303.8 666.8 302.8 667.1 301.7 667.3 300.7 667.5 299.6 667.8 298.6 668 297.5 668.3 296.5 668.5 295.4 668.7 294.4 669 293.4 669.2 292.4 669.5 291.4 669.7 290.4 669.9 289.4 670.2 288.4 670.4 287.4 670.6 286.4 670.9 285.4 671.1 284.5 671.4 283.5 671.6 282.6 671.8 281.6 672.1 280.7 672.3 279.8 672.6 278.9 672.8 278 673 277.1 673.3 276.2 673.5 275.4 673.8 274.5 674 273.7 674.2 272.9 674.5 272 674.7 271.2 675 270.5 675.2 269.7 675.4 268.9 675.7 268.2 675.9 267.4 676.2 266.7 676.4 266 676.6 265.3 676.9 264.6 677.1 263.9 677.4 263.3 677.6 262.7 677.8 262 678.1 261.4 678.3 260.8 678.5 260.2 678.8 259.7 679 259.1 679.3 258.6 679.5 258 679.7 257.5 680 257 680.2 256.6 680.5 256.1 680.7 255.7 680.9 255.2 681.2 254.8 681.4 254.4 681.7 254 681.9 253.7 682.1 253.3 682.4 253 682.6 252.6 682.9 252.3 683.1 252.1 683.3 251.8 683.6 251.5 683.8 251.3 684.1 251.1 684.3 250.9 684.5 250.7 684.8 250.5 685 250.4 685.2 250.3 685.5 250.1 685.7 250.1 686 250 686.2 249.9 686.4 249.9 686.7 249.9 686.9 249.9 687.2 249.9 687.4 249.9 687.6 249.9 687.9 250 688.1 250.1 688.4 250.1 688.6 250.3 688.8 250.4 689.1 250.5 689.3 250.7 689.6 250.9 689.8 251.1 690 251.3 690.3 251.5 690.5 251.8 690.8 252.1 691 252.3 691.2 252.6 691.5 253 691.7 253.3 692 253.7 692.2 254 692.4 254.4 692.7 254.8 692.9 255.2 693.1 255.7 693.4 256.1 693.6 256.6 693.9 257 694.1 257.5 694.3 258 694.6 258.6 694.8 259.1 695.1 259.7 695.3 260.2 695.5 260.8 695.8 261.4 696 262 696.3 262.7 696.5 263.3 696.7 263.9 697 264.6 697.2 265.3 697.5 266 697.7 266.7 697.9 267.4 698.2 268.2 698.4 268.9 698.7 269.7 698.9 270.5 699.1 271.2 699.4 272 699.6 272.9 699.9 273.7 700.1 274.5 700.3 275.4 700.6 276.2 700.8 277.1 701 278 701.3 278.9 701.5 279.8 701.8 280.7 702 281.6 702.2 282.6 702.5 283.5 702.7 284.5 703 285.4 703.2 286.4 703.4 287.4 703.7 288.4 703.9 289.4 704.2 290.4 704.4 291.4 704.6 292.4 704.9 293.4 705.1 294.4 705.4 295.4 705.6 296.5 705.8 297.5 706.1 298.6 706.3 299.6 706.6 300.7 706.8 301.7 707 302.8 707.3 303.8 707.5 304.9 707.8 306 708 307 708.2 308.1 708.5 309.2 708.7 310.3 708.9 311.3 709.2 312.4 709.4 313.5 709.7 314.6 709.9 315.6 710.1 316.7 710.4 317.8 710.6 318.9 710.9 319.9 711.1 321 711.3 322.1 711.6 323.2 711.8 324.2 712.1 325.3 712.3 326.3 712.5 327.4 712.8 328.5 713 329.5 713.3 330.5 713.5 331.6 713.7 332.6 714 333.7 714.2 334.7 714.5 335.7 714.7 336.7 714.9 337.7 715.2 338.7 715.4 339.7 715.7 340.7 715.9 341.7 716.1 342.6 716.4 343.6 716.6 344.6 716.8 345.5 717.1 346.5 717.3 347.4 717.6 348.3 717.8 349.2 718 350.1 718.3 351 718.5 351.9 718.8 352.8 719 353.7 719.2 354.6 719.5 355.5 719.7 356.3 720 357.2 720.2 358 720.4 358.8 720.7 359.7 720.9 360.5 721.2 361.3 721.4 362.1 721.6 362.9 721.9 363.7 722.1 364.5 722.4 365.3 722.6 366 722.8 366.8 723.1 367.5 723.3 368.3 723.5 369 723.8 369.8 724 370.5 724.3 371.2 724.5 371.9 724.7 372.6 725 373.3 725.2 374 725.5 374.6 725.7 375.3 725.9 375.9 726.2 376.6 726.4 377.2 726.7 377.8 726.9 378.5 727.1 379.1 727.4 379.6 727.6 380.2 727.9 380.8 728.1 381.4 728.3 381.9 728.6 382.5 728.8 383 729.1 383.5 729.3 384 729.5 384.5 729.8 385 730 385.5 730.3 385.9 730.5 386.4 730.7 386.8 731 387.2 731.2 387.7 731.4 388.1 731.7 388.5 731.9 388.8 732.2 389.2 732.4 389.6 732.6 389.9 732.9 390.2 733.1 390.6 733.4 390.9 733.6 391.2 733.8 391.5 734.1 391.8 734.3 392 734.6 392.3 734.8 392.6 735 392.8 735.3 393.1 735.5 393.3 735.8 393.5 736 393.7 736.2 393.9 736.5 394.1 736.7 394.3 737 394.4 737.2 394.6 737.4 394.7 737.7 394.8 737.9 394.9 738.2 395 738.4 395.1 738.6 395.2 738.9 395.3 739.1 395.3 739.3 395.4 739.6 395.4 739.8 395.4 740.1 395.4 740.3 395.4 740.5 395.4 740.8 395.4 741 395.3 741.3 395.3 741.5 395.2 741.7 395.1 742 395 742.2 394.9 742.5 394.8 742.7 394.7 742.9 394.5 743.2 394.3 743.4 394.2 743.7 394 743.9 393.8 744.1 393.6 744.4 393.4 744.6 393.2 744.9 392.9 745.1 392.7 745.3 392.4 745.6 392.1 745.8 391.9 746.1 391.6 746.3 391.3 746.5 391 746.8 390.7 747 390.3 747.2 390 747.5 389.7 747.7 389.3 748 388.9 748.2 388.6 748.4 388.2 748.7 387.8 748.9 387.4 749.2 387 749.4 386.6 749.6 386.2 749.9 385.8 750.1 385.4 750.4 385 750.6 384.5 750.8 384.1 751.1 383.6 751.3 383.2 751.6 382.7 751.8 382.3 752 381.8 752.3 381.3 752.5 380.9 752.8 380.4 753 379.9 753.2 379.4 753.5 378.9 753.7 378.3 754 377.8 754.2 377.2 754.4 376.7 754.7 376.1 754.9 375.5 755.1 374.9 755.4 374.2 755.6 373.6 755.9 372.9 756.1 372.2 756.3 371.5 756.6 370.8 756.8 370 757.1 369.2 757.3 368.4 757.5 367.6 757.8 366.7 758 365.8 758.3 364.9 758.5 364 758.7 363 759 362 759.2 360.9 759.5 359.8 759.7 358.7 759.9 357.6 760.2 356.4 760.4 355.2 760.7 353.9 760.9 352.7 761.1 351.3 761.4 350 761.6 348.6 761.8 347.2 762.1 345.8 762.3 344.3 762.6 342.8 762.8 341.2 763 339.7 763.3 338.1 763.5 336.4 763.8 334.8 764 333.1 764.2 331.4 764.5 329.6 764.7 327.9 765 326.1 765.2 324.2 765.4 322.4 765.7 320.5 765.9 318.6 766.2 316.7 766.4 314.8 766.6 312.8 766.9 310.8 767.1 308.8 767.4 306.8 767.6 304.8 767.8 302.8 768.1 300.7 768.3 298.7 768.6 296.6 768.8 294.5 769 292.4 769.3 290.3 769.5 288.2 769.7 286.1 770 284 770.2 281.9 770.5 279.8 770.7 277.7 770.9 275.6 771.2 273.5 771.4 271.4 771.7 269.3 771.9 267.3 772.1 265.2 772.4 263.1 772.6 261.1 772.9 259 773.1 257" fill="none" stroke="#000000" stroke-width="2.6" stroke-linejoin="round" stroke-linecap="round" clip-path="url(#cd)"/>
<path d="M428.4 261.4L428.6 263.5 428.9 265.6 429.1 267.8 429.4 269.9 429.6 272.1 429.8 274.3 430.1 276.5 430.3 278.7 430.6 280.9 430.8 283 431 285.2 431.3 287.4 431.5 289.6 431.8 291.8 432 293.9 432.2 296.1 432.5 298.2 432.7 300.4 432.9 302.5 433.2 304.6 433.4 306.7 433.7 308.8 433.9 310.8 434.1 312.9 434.4 314.9 434.6 316.9 434.9 318.8 435.1 320.8 435.3 322.7 435.6 324.6 435.8 326.4 436.1 328.3 436.3 330 436.5 331.8 436.8 333.5 437 335.2 437.3 336.9 437.5 338.5 437.7 340.1 438 341.7 438.2 343.2 438.5 344.8 438.7 346.2 438.9 347.7 439.2 349.1 439.4 350.4 439.7 351.8 439.9 353.1 440.1 354.3 440.4 355.6 440.6 356.8 440.8 357.9 441.1 359.1 441.3 360.1 441.6 361.2 441.8 362.2 442 363.2 442.3 364.2 442.5 365.1 442.8 366 443 366.9 443.2 367.7 443.5 368.5 443.7 369.3 444 370.1 444.2 370.8 444.4 371.6 444.7 372.3 444.9 372.9 445.2 373.6 445.4 374.2 445.6 374.8 445.9 375.4 446.1 376 446.4 376.6 446.6 377.1 446.8 377.7 447.1 378.2 447.3 378.7 447.5 379.2 447.8 379.7 448 380.2 448.3 380.7 448.5 381.1 448.7 381.6 449 382 449.2 382.5 449.5 382.9 449.7 383.4 449.9 383.8 450.2 384.3 450.4 384.7 450.7 385.1 450.9 385.6 451.1 386 451.4 386.4 451.6 386.8 451.9 387.2 452.1 387.6 452.3 388 452.6 388.4 452.8 388.8 453.1 389.2 453.3 389.5 453.5 389.9 453.8 390.3 454 390.6 454.3 391 454.5 391.3 454.7 391.6 455 391.9 455.2 392.2 455.4 392.5 455.7 392.8 455.9 393.1 456.2 393.4 456.4 393.6 456.6 393.9 456.9 394.1 457.1 394.4 457.4 394.6 457.6 394.8 457.8 395 458.1 395.2 458.3 395.3 458.6 395.5 458.8 395.6 459 395.8 459.3 395.9 459.5 396 459.8 396.1 460 396.2 460.2 396.2 460.5 396.3 460.7 396.3 461 396.4 461.2 396.4 461.4 396.4 461.7 396.4 461.9 396.4 462.2 396.3 462.4 396.3 462.6 396.2 462.9 396.2 463.1 396.1 463.3 396 463.6 395.9 463.8 395.8 464.1 395.6 464.3 395.5 464.5 395.3 464.8 395.2 465 395 465.3 394.8 465.5 394.6 465.7 394.4 466 394.2 466.2 393.9 466.5 393.7 466.7 393.4 466.9 393.1 467.2 392.9 467.4 392.6 467.7 392.3 467.9 392 468.1 391.7 468.4 391.3 468.6 391 468.9 390.7 469.1 390.3 469.3 389.9 469.6 389.5 469.8 389.1 470.1 388.7 470.3 388.3 470.5 387.9 470.8 387.5 471 387 471.2 386.5 471.5 386.1 471.7 385.6 472 385.1 472.2 384.6 472.4 384.1 472.7 383.5 472.9 383 473.2 382.5 473.4 381.9 473.6 381.3 473.9 380.7 474.1 380.2 474.4 379.6 474.6 379 474.8 378.3 475.1 377.7 475.3 377.1 475.6 376.4 475.8 375.8 476 375.1 476.3 374.5 476.5 373.8 476.8 373.1 477 372.4 477.2 371.7 477.5 371 477.7 370.3 478 369.5 478.2 368.8 478.4 368.1 478.7 367.3 478.9 366.6 479.1 365.8 479.4 365 479.6 364.2 479.9 363.5 480.1 362.7 480.3 361.9 480.6 361 480.8 360.2 481.1 359.4 481.3 358.6 481.5 357.7 481.8 356.9 482 356 482.3 355.2 482.5 354.3 482.7 353.4 483 352.5 483.2 351.6 483.5 350.7 483.7 349.8 483.9 348.9 484.2 348 484.4 347 484.7 346.1 484.9 345.1 485.1 344.2 485.4 343.2 485.6 342.2 485.8 341.3 486.1 340.3 486.3 339.3 486.6 338.3 486.8 337.3 487 336.2 487.3 335.2 487.5 334.2 487.8 333.2 488 332.1 488.2 331.1 488.5 330 488.7 329 489 327.9 489.2 326.9 489.4 325.8 489.7 324.7 489.9 323.7 490.2 322.6 490.4 321.5 490.6 320.4 490.9 319.3 491.1 318.3 491.4 317.2 491.6 316.1 491.8 315 492.1 313.9 492.3 312.8 492.6 311.8 492.8 310.7 493 309.6 493.3 308.5 493.5 307.4 493.7 306.4 494 305.3 494.2 304.2 494.5 303.1 494.7 302.1 494.9 301 495.2 299.9 495.4 298.9 495.7 297.8 495.9 296.8 496.1 295.7 496.4 294.7 496.6 293.7 496.9 292.6 497.1 291.6 497.3 290.6 497.6 289.6 497.8 288.6 498.1 287.6 498.3 286.6 498.5 285.6 498.8 284.7 499 283.7 499.3 282.8 499.5 281.8 499.7 280.9 500 280 500.2 279.1 500.5 278.1 500.7 277.3 500.9 276.4 501.2 275.5 501.4 274.6 501.6 273.8 501.9 273 502.1 272.2 502.4 271.3 502.6 270.5 502.8 269.8 503.1 269 503.3 268.2 503.6 267.5 503.8 266.8 504 266.1 504.3 265.4 504.5 264.7 504.8 264 505 263.3 505.2 262.7 505.5 262.1 505.7 261.5 506 260.9 506.2 260.3 506.4 259.7 506.7 259.1 506.9 258.6 507.2 258.1 507.4 257.6 507.6 257.1 507.9 256.6 508.1 256.1 508.4 255.7 508.6 255.2 508.8 254.8 509.1 254.4 509.3 254 509.5 253.7 509.8 253.3 510 253 510.3 252.6 510.5 252.3 510.7 252.1 511 251.8 511.2 251.5 511.5 251.3 511.7 251.1 511.9 250.9 512.2 250.7 512.4 250.5 512.7 250.4 512.9 250.3 513.1 250.1 513.4 250.1 513.6 250 513.9 249.9 514.1 249.9 514.3 249.9 514.6 249.9 514.8 249.9 515.1 249.9 515.3 249.9 515.5 250 515.8 250.1 516 250.1 516.3 250.3 516.5 250.4 516.7 250.5 517 250.7 517.2 250.9 517.4 251.1 517.7 251.3 517.9 251.5 518.2 251.8 518.4 252.1 518.6 252.3 518.9 252.6 519.1 253 519.4 253.3 519.6 253.7 519.8 254 520.1 254.4 520.3 254.8 520.6 255.2 520.8 255.7 521 256.1 521.3 256.6 521.5 257.1 521.8 257.6 522 258.1 522.2 258.6 522.5 259.1 522.7 259.7 523 260.3 523.2 260.9 523.4 261.5 523.7 262.1 523.9 262.7 524.1 263.3 524.4 264 524.6 264.7 524.9 265.4 525.1 266.1 525.3 266.8 525.6 267.5 525.8 268.2 526.1 269 526.3 269.8 526.5 270.5 526.8 271.3 527 272.2 527.3 273 527.5 273.8 527.7 274.6 528 275.5 528.2 276.4 528.5 277.3 528.7 278.1 528.9 279.1 529.2 280 529.4 280.9 529.7 281.8 529.9 282.8 530.1 283.7 530.4 284.7 530.6 285.6 530.9 286.6 531.1 287.6 531.3 288.6 531.6 289.6 531.8 290.6 532 291.6 532.3 292.6 532.5 293.7 532.8 294.7 533 295.7 533.2 296.8 533.5 297.8 533.7 298.9 534 299.9 534.2 301 534.4 302.1 534.7 303.1 534.9 304.2 535.2 305.3 535.4 306.4 535.6 307.4 535.9 308.5 536.1 309.6 536.4 310.7 536.6 311.8 536.8 312.8 537.1 313.9 537.3 315 537.6 316.1 537.8 317.2 538 318.3 538.3 319.3 538.5 320.4 538.8 321.5 539 322.6 539.2 323.7 539.5 324.7 539.7 325.8 539.9 326.9 540.2 327.9 540.4 329 540.7 330 540.9 331.1 541.1 332.1 541.4 333.2 541.6 334.2 541.9 335.2 542.1 336.2 542.3 337.3 542.6 338.3 542.8 339.3 543.1 340.3 543.3 341.3 543.5 342.2 543.8 343.2 544 344.2 544.3 345.1 544.5 346.1 544.7 347 545 348 545.2 348.9 545.5 349.8 545.7 350.7 545.9 351.6 546.2 352.5 546.4 353.4 546.7 354.3 546.9 355.2 547.1 356 547.4 356.9 547.6 357.7 547.8 358.6 548.1 359.4 548.3 360.2 548.6 361 548.8 361.9 549 362.7 549.3 363.5 549.5 364.2 549.8 365 550 365.8 550.2 366.6 550.5 367.3 550.7 368.1 551 368.8 551.2 369.5 551.4 370.3 551.7 371 551.9 371.7 552.2 372.4 552.4 373.1 552.6 373.8 552.9 374.5 553.1 375.1 553.4 375.8 553.6 376.4 553.8 377.1 554.1 377.7 554.3 378.3 554.6 379 554.8 379.6 555 380.2 555.3 380.7 555.5 381.3 555.7 381.9 556 382.5 556.2 383 556.5 383.5 556.7 384.1 556.9 384.6 557.2 385.1 557.4 385.6 557.7 386.1 557.9 386.5 558.1 387 558.4 387.5 558.6 387.9 558.9 388.3 559.1 388.7 559.3 389.1 559.6 389.5 559.8 389.9 560.1 390.3 560.3 390.7 560.5 391 560.8 391.3 561 391.7 561.3 392 561.5 392.3 561.7 392.6 562 392.9 562.2 393.1 562.5 393.4 562.7 393.7 562.9 393.9 563.2 394.2 563.4 394.4 563.6 394.6 563.9 394.8 564.1 395 564.4 395.2 564.6 395.3 564.8 395.5 565.1 395.6 565.3 395.8 565.6 395.9 565.8 396 566 396.1 566.3 396.2 566.5 396.2 566.8 396.3 567 396.3 567.2 396.4 567.5 396.4 567.7 396.4 568 396.4 568.2 396.4 568.4 396.3 568.7 396.3 568.9 396.2 569.2 396.2 569.4 396.1 569.6 396 569.9 395.9 570.1 395.8 570.3 395.6 570.6 395.5 570.8 395.3 571.1 395.2 571.3 395 571.5 394.8 571.8 394.6 572 394.4 572.3 394.1 572.5 393.9 572.7 393.6 573 393.4 573.2 393.1 573.5 392.8 573.7 392.5 573.9 392.2 574.2 391.9 574.4 391.6 574.7 391.3 574.9 391 575.1 390.6 575.4 390.3 575.6 389.9 575.9 389.5 576.1 389.2 576.3 388.8 576.6 388.4 576.8 388 577.1 387.6 577.3 387.2 577.5 386.8 577.8 386.4 578 386 578.2 385.6 578.5 385.1 578.7 384.7 579 384.3 579.2 383.8 579.4 383.4 579.7 382.9 579.9 382.5 580.2 382 580.4 381.6 580.6 381.1 580.9 380.7 581.1 380.2 581.4 379.7 581.6 379.2 581.8 378.7 582.1 378.2 582.3 377.7 582.6 377.1 582.8 376.6 583 376 583.3 375.4 583.5 374.8 583.8 374.2 584 373.6 584.2 372.9 584.5 372.3 584.7 371.6 585 370.8 585.2 370.1 585.4 369.3 585.7 368.5 585.9 367.7 586.1 366.9 586.4 366 586.6 365.1 586.9 364.2 587.1 363.2 587.3 362.2 587.6 361.2 587.8 360.1 588.1 359.1 588.3 357.9 588.5 356.8 588.8 355.6 589 354.3 589.3 353.1 589.5 351.8 589.7 350.4 590 349.1 590.2 347.7 590.5 346.2 590.7 344.8 590.9 343.2 591.2 341.7 591.4 340.1 591.7 338.5 591.9 336.9 592.1 335.2 592.4 333.5 592.6 331.8 592.9 330 593.1 328.3 593.3 326.4 593.6 324.6 593.8 322.7 594 320.8 594.3 318.8 594.5 316.9 594.8 314.9 595 312.9 595.2 310.8 595.5 308.8 595.7 306.7 596 304.6 596.2 302.5 596.4 300.4 596.7 298.2 596.9 296.1 597.2 293.9 597.4 291.8 597.6 289.6 597.9 287.4 598.1 285.2 598.4 283 598.6 280.9 598.8 278.7 599.1 276.5 599.3 274.3 599.6 272.1 599.8 269.9 600 267.8 600.3 265.6 600.5 263.5 600.8 261.4 601 263.5 601.2 265.6 601.5 267.8 601.7 269.9 601.9 272.1 602.2 274.3 602.4 276.5 602.7 278.7 602.9 280.9 603.1 283 603.4 285.2 603.6 287.4 603.9 289.6 604.1 291.8 604.3 293.9 604.6 296.1 604.8 298.2 605.1 300.4 605.3 302.5 605.5 304.6 605.8 306.7 606 308.8 606.3 310.8 606.5 312.9 606.7 314.9 607 316.9 607.2 318.8 607.5 320.8 607.7 322.7 607.9 324.6 608.2 326.4 608.4 328.3 608.6 330 608.9 331.8 609.1 333.5 609.4 335.2 609.6 336.9 609.8 338.5 610.1 340.1 610.3 341.7 610.6 343.2 610.8 344.8 611 346.2 611.3 347.7 611.5 349.1 611.8 350.4 612 351.8 612.2 353.1 612.5 354.3 612.7 355.6 613 356.8 613.2 357.9 613.4 359.1 613.7 360.1 613.9 361.2 614.2 362.2 614.4 363.2 614.6 364.2 614.9 365.1 615.1 366 615.4 366.9 615.6 367.7 615.8 368.5 616.1 369.3 616.3 370.1 616.5 370.8 616.8 371.6 617 372.3 617.3 372.9 617.5 373.6 617.7 374.2 618 374.8 618.2 375.4 618.5 376 618.7 376.6 618.9 377.1 619.2 377.7 619.4 378.2 619.7 378.7 619.9 379.2 620.1 379.7 620.4 380.2 620.6 380.7 620.9 381.1 621.1 381.6 621.3 382 621.6 382.5 621.8 382.9 622.1 383.4 622.3 383.8 622.5 384.3 622.8 384.7 623 385.1 623.3 385.6 623.5 386 623.7 386.4 624 386.8 624.2 387.2 624.4 387.6 624.7 388 624.9 388.4 625.2 388.8 625.4 389.2 625.6 389.5 625.9 389.9 626.1 390.3 626.4 390.6 626.6 391 626.8 391.3 627.1 391.6 627.3 391.9 627.6 392.2 627.8 392.5 628 392.8 628.3 393.1 628.5 393.4 628.8 393.6 629 393.9 629.2 394.1 629.5 394.4 629.7 394.6 630 394.8 630.2 395 630.4 395.2 630.7 395.3 630.9 395.5 631.2 395.6 631.4 395.8 631.6 395.9 631.9 396 632.1 396.1 632.3 396.2 632.6 396.2 632.8 396.3 633.1 396.3 633.3 396.4 633.5 396.4 633.8 396.4 634 396.4 634.3 396.4 634.5 396.3 634.7 396.3 635 396.2 635.2 396.2 635.5 396.1 635.7 396 635.9 395.9 636.2 395.8 636.4 395.6 636.7 395.5 636.9 395.3 637.1 395.2 637.4 395 637.6 394.8 637.9 394.6 638.1 394.4 638.3 394.2 638.6 393.9 638.8 393.7 639 393.4 639.3 393.1 639.5 392.9 639.8 392.6 640 392.3 640.2 392 640.5 391.7 640.7 391.3 641 391 641.2 390.7 641.4 390.3 641.7 389.9 641.9 389.5 642.2 389.1 642.4 388.7 642.6 388.3 642.9 387.9 643.1 387.5 643.4 387 643.6 386.5 643.8 386.1 644.1 385.6 644.3 385.1 644.6 384.6 644.8 384.1 645 383.5 645.3 383 645.5 382.5 645.8 381.9 646 381.3 646.2 380.7 646.5 380.2 646.7 379.6 646.9 379 647.2 378.3 647.4 377.7 647.7 377.1 647.9 376.4 648.1 375.8 648.4 375.1 648.6 374.5 648.9 373.8 649.1 373.1 649.3 372.4 649.6 371.7 649.8 371 650.1 370.3 650.3 369.5 650.5 368.8 650.8 368.1 651 367.3 651.3 366.6 651.5 365.8 651.7 365 652 364.2 652.2 363.5 652.5 362.7 652.7 361.9 652.9 361 653.2 360.2 653.4 359.4 653.7 358.6 653.9 357.7 654.1 356.9 654.4 356 654.6 355.2 654.8 354.3 655.1 353.4 655.3 352.5 655.6 351.6 655.8 350.7 656 349.8 656.3 348.9 656.5 348 656.8 347 657 346.1 657.2 345.1 657.5 344.2 657.7 343.2 658 342.2 658.2 341.3 658.4 340.3 658.7 339.3 658.9 338.3 659.2 337.3 659.4 336.2 659.6 335.2 659.9 334.2 660.1 333.2 660.4 332.1 660.6 331.1 660.8 330 661.1 329 661.3 327.9 661.6 326.9 661.8 325.8 662 324.7 662.3 323.7 662.5 322.6 662.7 321.5 663 320.4 663.2 319.3 663.5 318.3 663.7 317.2 663.9 316.1 664.2 315 664.4 313.9 664.7 312.8 664.9 311.8 665.1 310.7 665.4 309.6 665.6 308.5 665.9 307.4 666.1 306.4 666.3 305.3 666.6 304.2 666.8 303.1 667.1 302.1 667.3 301 667.5 299.9 667.8 298.9 668 297.8 668.3 296.8 668.5 295.7 668.7 294.7 669 293.7 669.2 292.6 669.5 291.6 669.7 290.6 669.9 289.6 670.2 288.6 670.4 287.6 670.6 286.6 670.9 285.6 671.1 284.7 671.4 283.7 671.6 282.8 671.8 281.8 672.1 280.9 672.3 280 672.6 279.1 672.8 278.1 673 277.3 673.3 276.4 673.5 275.5 673.8 274.6 674 273.8 674.2 273 674.5 272.2 674.7 271.3 675 270.5 675.2 269.8 675.4 269 675.7 268.2 675.9 267.5 676.2 266.8 676.4 266.1 676.6 265.4 676.9 264.7 677.1 264 677.4 263.3 677.6 262.7 677.8 262.1 678.1 261.5 678.3 260.9 678.5 260.3 678.8 259.7 679 259.1 679.3 258.6 679.5 258.1 679.7 257.6 680 257.1 680.2 256.6 680.5 256.1 680.7 255.7 680.9 255.2 681.2 254.8 681.4 254.4 681.7 254 681.9 253.7 682.1 253.3 682.4 253 682.6 252.6 682.9 252.3 683.1 252.1 683.3 251.8 683.6 251.5 683.8 251.3 684.1 251.1 684.3 250.9 684.5 250.7 684.8 250.5 685 250.4 685.2 250.3 685.5 250.1 685.7 250.1 686 250 686.2 249.9 686.4 249.9 686.7 249.9 686.9 249.9 687.2 249.9 687.4 249.9 687.6 249.9 687.9 250 688.1 250.1 688.4 250.1 688.6 250.3 688.8 250.4 689.1 250.5 689.3 250.7 689.6 250.9 689.8 251.1 690 251.3 690.3 251.5 690.5 251.8 690.8 252.1 691 252.3 691.2 252.6 691.5 253 691.7 253.3 692 253.7 692.2 254 692.4 254.4 692.7 254.8 692.9 255.2 693.1 255.7 693.4 256.1 693.6 256.6 693.9 257.1 694.1 257.6 694.3 258.1 694.6 258.6 694.8 259.1 695.1 259.7 695.3 260.3 695.5 260.9 695.8 261.5 696 262.1 696.3 262.7 696.5 263.3 696.7 264 697 264.7 697.2 265.4 697.5 266.1 697.7 266.8 697.9 267.5 698.2 268.2 698.4 269 698.7 269.8 698.9 270.5 699.1 271.3 699.4 272.2 699.6 273 699.9 273.8 700.1 274.6 700.3 275.5 700.6 276.4 700.8 277.3 701 278.1 701.3 279.1 701.5 280 701.8 280.9 702 281.8 702.2 282.8 702.5 283.7 702.7 284.7 703 285.6 703.2 286.6 703.4 287.6 703.7 288.6 703.9 289.6 704.2 290.6 704.4 291.6 704.6 292.6 704.9 293.7 705.1 294.7 705.4 295.7 705.6 296.8 705.8 297.8 706.1 298.9 706.3 299.9 706.6 301 706.8 302.1 707 303.1 707.3 304.2 707.5 305.3 707.8 306.4 708 307.4 708.2 308.5 708.5 309.6 708.7 310.7 708.9 311.8 709.2 312.8 709.4 313.9 709.7 315 709.9 316.1 710.1 317.2 710.4 318.3 710.6 319.3 710.9 320.4 711.1 321.5 711.3 322.6 711.6 323.7 711.8 324.7 712.1 325.8 712.3 326.9 712.5 327.9 712.8 329 713 330 713.3 331.1 713.5 332.1 713.7 333.2 714 334.2 714.2 335.2 714.5 336.2 714.7 337.3 714.9 338.3 715.2 339.3 715.4 340.3 715.7 341.3 715.9 342.2 716.1 343.2 716.4 344.2 716.6 345.1 716.8 346.1 717.1 347 717.3 348 717.6 348.9 717.8 349.8 718 350.7 718.3 351.6 718.5 352.5 718.8 353.4 719 354.3 719.2 355.2 719.5 356 719.7 356.9 720 357.7 720.2 358.6 720.4 359.4 720.7 360.2 720.9 361 721.2 361.9 721.4 362.7 721.6 363.5 721.9 364.2 722.1 365 722.4 365.8 722.6 366.6 722.8 367.3 723.1 368.1 723.3 368.8 723.5 369.5 723.8 370.3 724 371 724.3 371.7 724.5 372.4 724.7 373.1 725 373.8 725.2 374.5 725.5 375.1 725.7 375.8 725.9 376.4 726.2 377.1 726.4 377.7 726.7 378.3 726.9 379 727.1 379.6 727.4 380.2 727.6 380.7 727.9 381.3 728.1 381.9 728.3 382.5 728.6 383 728.8 383.5 729.1 384.1 729.3 384.6 729.5 385.1 729.8 385.6 730 386.1 730.3 386.5 730.5 387 730.7 387.5 731 387.9 731.2 388.3 731.4 388.7 731.7 389.1 731.9 389.5 732.2 389.9 732.4 390.3 732.6 390.7 732.9 391 733.1 391.3 733.4 391.7 733.6 392 733.8 392.3 734.1 392.6 734.3 392.9 734.6 393.1 734.8 393.4 735 393.7 735.3 393.9 735.5 394.2 735.8 394.4 736 394.6 736.2 394.8 736.5 395 736.7 395.2 737 395.3 737.2 395.5 737.4 395.6 737.7 395.8 737.9 395.9 738.2 396 738.4 396.1 738.6 396.2 738.9 396.2 739.1 396.3 739.3 396.3 739.6 396.4 739.8 396.4 740.1 396.4 740.3 396.4 740.5 396.4 740.8 396.3 741 396.3 741.3 396.2 741.5 396.2 741.7 396.1 742 396 742.2 395.9 742.5 395.8 742.7 395.6 742.9 395.5 743.2 395.3 743.4 395.2 743.7 395 743.9 394.8 744.1 394.6 744.4 394.4 744.6 394.1 744.9 393.9 745.1 393.6 745.3 393.4 745.6 393.1 745.8 392.8 746.1 392.5 746.3 392.2 746.5 391.9 746.8 391.6 747 391.3 747.2 391 747.5 390.6 747.7 390.3 748 389.9 748.2 389.5 748.4 389.2 748.7 388.8 748.9 388.4 749.2 388 749.4 387.6 749.6 387.2 749.9 386.8 750.1 386.4 750.4 386 750.6 385.6 750.8 385.1 751.1 384.7 751.3 384.3 751.6 383.8 751.8 383.4 752 382.9 752.3 382.5 752.5 382 752.8 381.6 753 381.1 753.2 380.7 753.5 380.2 753.7 379.7 754 379.2 754.2 378.7 754.4 378.2 754.7 377.7 754.9 377.1 755.1 376.6 755.4 376 755.6 375.4 755.9 374.8 756.1 374.2 756.3 373.6 756.6 372.9 756.8 372.3 757.1 371.6 757.3 370.8 757.5 370.1 757.8 369.3 758 368.5 758.3 367.7 758.5 366.9 758.7 366 759 365.1 759.2 364.2 759.5 363.2 759.7 362.2 759.9 361.2 760.2 360.1 760.4 359.1 760.7 357.9 760.9 356.8 761.1 355.6 761.4 354.3 761.6 353.1 761.8 351.8 762.1 350.4 762.3 349.1 762.6 347.7 762.8 346.2 763 344.8 763.3 343.2 763.5 341.7 763.8 340.1 764 338.5 764.2 336.9 764.5 335.2 764.7 333.5 765 331.8 765.2 330 765.4 328.3 765.7 326.4 765.9 324.6 766.2 322.7 766.4 320.8 766.6 318.8 766.9 316.9 767.1 314.9 767.4 312.9 767.6 310.8 767.8 308.8 768.1 306.7 768.3 304.6 768.6 302.5 768.8 300.4 769 298.2 769.3 296.1 769.5 293.9 769.7 291.8 770 289.6 770.2 287.4 770.5 285.2 770.7 283 770.9 280.9 771.2 278.7 771.4 276.5 771.7 274.3 771.9 272.1 772.1 269.9 772.4 267.8 772.6 265.6 772.9 263.5 773.1 261.4" fill="none" stroke="#da0000" stroke-width="2.6" stroke-linejoin="round" stroke-linecap="round" clip-path="url(#cd)"/>
<path d="M428.4 276.1L428.6 278.5 428.9 280.9 429.1 283.3 429.4 285.7 429.6 288 429.8 290.3 430.1 292.6 430.3 294.9 430.6 297.1 430.8 299.4 431 301.6 431.3 303.7 431.5 305.9 431.8 308 432 310.1 432.2 312.2 432.5 314.2 432.7 316.2 432.9 318.2 433.2 320.2 433.4 322.1 433.7 324 433.9 325.9 434.1 327.7 434.4 329.5 434.6 331.3 434.9 333.1 435.1 334.8 435.3 336.5 435.6 338.1 435.8 339.7 436.1 341.3 436.3 342.9 436.5 344.4 436.8 345.9 437 347.4 437.3 348.8 437.5 350.2 437.7 351.6 438 352.9 438.2 354.2 438.5 355.5 438.7 356.7 438.9 358 439.2 359.1 439.4 360.3 439.7 361.4 439.9 362.5 440.1 363.5 440.4 364.6 440.6 365.6 440.8 366.5 441.1 367.5 441.3 368.4 441.6 369.3 441.8 370.2 442 371 442.3 371.8 442.5 372.6 442.8 373.4 443 374.1 443.2 374.9 443.5 375.6 443.7 376.2 444 376.9 444.2 377.6 444.4 378.2 444.7 378.8 444.9 379.4 445.2 380 445.4 380.5 445.6 381.1 445.9 381.6 446.1 382.2 446.4 382.7 446.6 383.2 446.8 383.6 447.1 384.1 447.3 384.6 447.5 385 447.8 385.5 448 385.9 448.3 386.3 448.5 386.8 448.7 387.2 449 387.6 449.2 388 449.5 388.4 449.7 388.8 449.9 389.1 450.2 389.5 450.4 389.9 450.7 390.2 450.9 390.6 451.1 390.9 451.4 391.3 451.6 391.6 451.9 391.9 452.1 392.2 452.3 392.5 452.6 392.8 452.8 393.1 453.1 393.4 453.3 393.7 453.5 393.9 453.8 394.2 454 394.4 454.3 394.7 454.5 394.9 454.7 395.1 455 395.4 455.2 395.6 455.4 395.8 455.7 396 455.9 396.1 456.2 396.3 456.4 396.5 456.6 396.6 456.9 396.8 457.1 396.9 457.4 397 457.6 397.2 457.8 397.3 458.1 397.4 458.3 397.4 458.6 397.5 458.8 397.6 459 397.7 459.3 397.7 459.5 397.7 459.8 397.8 460 397.8 460.2 397.8 460.5 397.8 460.7 397.8 461 397.8 461.2 397.7 461.4 397.7 461.7 397.7 461.9 397.6 462.2 397.5 462.4 397.4 462.6 397.4 462.9 397.3 463.1 397.1 463.3 397 463.6 396.9 463.8 396.8 464.1 396.6 464.3 396.5 464.5 396.3 464.8 396.1 465 395.9 465.3 395.7 465.5 395.5 465.7 395.3 466 395.1 466.2 394.8 466.5 394.6 466.7 394.3 466.9 394.1 467.2 393.8 467.4 393.5 467.7 393.2 467.9 392.9 468.1 392.6 468.4 392.3 468.6 392 468.9 391.7 469.1 391.3 469.3 391 469.6 390.6 469.8 390.2 470.1 389.8 470.3 389.4 470.5 389 470.8 388.6 471 388.1 471.2 387.7 471.5 387.2 471.7 386.8 472 386.3 472.2 385.8 472.4 385.3 472.7 384.8 472.9 384.3 473.2 383.7 473.4 383.2 473.6 382.6 473.9 382.1 474.1 381.5 474.4 380.9 474.6 380.3 474.8 379.7 475.1 379.1 475.3 378.4 475.6 377.8 475.8 377.1 476 376.5 476.3 375.8 476.5 375.1 476.8 374.5 477 373.8 477.2 373.1 477.5 372.4 477.7 371.6 478 370.9 478.2 370.2 478.4 369.4 478.7 368.7 478.9 367.9 479.1 367.2 479.4 366.4 479.6 365.6 479.9 364.8 480.1 364 480.3 363.2 480.6 362.4 480.8 361.6 481.1 360.8 481.3 360 481.5 359.1 481.8 358.3 482 357.4 482.3 356.5 482.5 355.7 482.7 354.8 483 353.9 483.2 353 483.5 352.1 483.7 351.2 483.9 350.3 484.2 349.4 484.4 348.4 484.7 347.5 484.9 346.5 485.1 345.6 485.4 344.6 485.6 343.6 485.8 342.6 486.1 341.7 486.3 340.7 486.6 339.7 486.8 338.6 487 337.6 487.3 336.6 487.5 335.5 487.8 334.5 488 333.5 488.2 332.4 488.5 331.3 488.7 330.3 489 329.2 489.2 328.1 489.4 327.1 489.7 326 489.9 324.9 490.2 323.8 490.4 322.7 490.6 321.6 490.9 320.5 491.1 319.4 491.4 318.3 491.6 317.2 491.8 316.1 492.1 315 492.3 313.9 492.6 312.8 492.8 311.7 493 310.6 493.3 309.5 493.5 308.4 493.7 307.3 494 306.2 494.2 305.1 494.5 304 494.7 302.9 494.9 301.9 495.2 300.8 495.4 299.7 495.7 298.6 495.9 297.6 496.1 296.5 496.4 295.4 496.6 294.4 496.9 293.3 497.1 292.3 497.3 291.3 497.6 290.2 497.8 289.2 498.1 288.2 498.3 287.2 498.5 286.2 498.8 285.2 499 284.2 499.3 283.2 499.5 282.3 499.7 281.3 500 280.4 500.2 279.5 500.5 278.5 500.7 277.6 500.9 276.7 501.2 275.8 501.4 275 501.6 274.1 501.9 273.3 502.1 272.4 502.4 271.6 502.6 270.8 502.8 270 503.1 269.2 503.3 268.5 503.6 267.7 503.8 267 504 266.2 504.3 265.5 504.5 264.8 504.8 264.1 505 263.5 505.2 262.8 505.5 262.2 505.7 261.6 506 261 506.2 260.4 506.4 259.8 506.7 259.2 506.9 258.7 507.2 258.1 507.4 257.6 507.6 257.1 507.9 256.6 508.1 256.2 508.4 255.7 508.6 255.3 508.8 254.8 509.1 254.4 509.3 254.1 509.5 253.7 509.8 253.3 510 253 510.3 252.7 510.5 252.4 510.7 252.1 511 251.8 511.2 251.5 511.5 251.3 511.7 251.1 511.9 250.9 512.2 250.7 512.4 250.5 512.7 250.4 512.9 250.3 513.1 250.1 513.4 250.1 513.6 250 513.9 249.9 514.1 249.9 514.3 249.9 514.6 249.9 514.8 249.9 515.1 249.9 515.3 249.9 515.5 250 515.8 250.1 516 250.1 516.3 250.3 516.5 250.4 516.7 250.5 517 250.7 517.2 250.9 517.4 251.1 517.7 251.3 517.9 251.5 518.2 251.8 518.4 252.1 518.6 252.4 518.9 252.7 519.1 253 519.4 253.3 519.6 253.7 519.8 254.1 520.1 254.4 520.3 254.8 520.6 255.3 520.8 255.7 521 256.2 521.3 256.6 521.5 257.1 521.8 257.6 522 258.1 522.2 258.7 522.5 259.2 522.7 259.8 523 260.4 523.2 261 523.4 261.6 523.7 262.2 523.9 262.8 524.1 263.5 524.4 264.1 524.6 264.8 524.9 265.5 525.1 266.2 525.3 267 525.6 267.7 525.8 268.5 526.1 269.2 526.3 270 526.5 270.8 526.8 271.6 527 272.4 527.3 273.3 527.5 274.1 527.7 275 528 275.8 528.2 276.7 528.5 277.6 528.7 278.5 528.9 279.5 529.2 280.4 529.4 281.3 529.7 282.3 529.9 283.2 530.1 284.2 530.4 285.2 530.6 286.2 530.9 287.2 531.1 288.2 531.3 289.2 531.6 290.2 531.8 291.3 532 292.3 532.3 293.3 532.5 294.4 532.8 295.4 533 296.5 533.2 297.6 533.5 298.6 533.7 299.7 534 300.8 534.2 301.9 534.4 302.9 534.7 304 534.9 305.1 535.2 306.2 535.4 307.3 535.6 308.4 535.9 309.5 536.1 310.6 536.4 311.7 536.6 312.8 536.8 313.9 537.1 315 537.3 316.1 537.6 317.2 537.8 318.3 538 319.4 538.3 320.5 538.5 321.6 538.8 322.7 539 323.8 539.2 324.9 539.5 326 539.7 327.1 539.9 328.1 540.2 329.2 540.4 330.3 540.7 331.3 540.9 332.4 541.1 333.5 541.4 334.5 541.6 335.5 541.9 336.6 542.1 337.6 542.3 338.6 542.6 339.7 542.8 340.7 543.1 341.7 543.3 342.6 543.5 343.6 543.8 344.6 544 345.6 544.3 346.5 544.5 347.5 544.7 348.4 545 349.4 545.2 350.3 545.5 351.2 545.7 352.1 545.9 353 546.2 353.9 546.4 354.8 546.7 355.7 546.9 356.5 547.1 357.4 547.4 358.3 547.6 359.1 547.8 360 548.1 360.8 548.3 361.6 548.6 362.4 548.8 363.2 549 364 549.3 364.8 549.5 365.6 549.8 366.4 550 367.2 550.2 367.9 550.5 368.7 550.7 369.4 551 370.2 551.2 370.9 551.4 371.6 551.7 372.4 551.9 373.1 552.2 373.8 552.4 374.5 552.6 375.1 552.9 375.8 553.1 376.5 553.4 377.1 553.6 377.8 553.8 378.4 554.1 379.1 554.3 379.7 554.6 380.3 554.8 380.9 555 381.5 555.3 382.1 555.5 382.6 555.7 383.2 556 383.7 556.2 384.3 556.5 384.8 556.7 385.3 556.9 385.8 557.2 386.3 557.4 386.8 557.7 387.2 557.9 387.7 558.1 388.1 558.4 388.6 558.6 389 558.9 389.4 559.1 389.8 559.3 390.2 559.6 390.6 559.8 391 560.1 391.3 560.3 391.7 560.5 392 560.8 392.3 561 392.6 561.3 392.9 561.5 393.2 561.7 393.5 562 393.8 562.2 394.1 562.5 394.3 562.7 394.6 562.9 394.8 563.2 395.1 563.4 395.3 563.6 395.5 563.9 395.7 564.1 395.9 564.4 396.1 564.6 396.3 564.8 396.5 565.1 396.6 565.3 396.8 565.6 396.9 565.8 397 566 397.1 566.3 397.3 566.5 397.4 566.8 397.4 567 397.5 567.2 397.6 567.5 397.7 567.7 397.7 568 397.7 568.2 397.8 568.4 397.8 568.7 397.8 568.9 397.8 569.2 397.8 569.4 397.8 569.6 397.7 569.9 397.7 570.1 397.7 570.3 397.6 570.6 397.5 570.8 397.4 571.1 397.4 571.3 397.3 571.5 397.2 571.8 397 572 396.9 572.3 396.8 572.5 396.6 572.7 396.5 573 396.3 573.2 396.1 573.5 396 573.7 395.8 573.9 395.6 574.2 395.4 574.4 395.1 574.7 394.9 574.9 394.7 575.1 394.4 575.4 394.2 575.6 393.9 575.9 393.7 576.1 393.4 576.3 393.1 576.6 392.8 576.8 392.5 577.1 392.2 577.3 391.9 577.5 391.6 577.8 391.3 578 390.9 578.2 390.6 578.5 390.2 578.7 389.9 579 389.5 579.2 389.1 579.4 388.8 579.7 388.4 579.9 388 580.2 387.6 580.4 387.2 580.6 386.8 580.9 386.3 581.1 385.9 581.4 385.5 581.6 385 581.8 384.6 582.1 384.1 582.3 383.6 582.6 383.2 582.8 382.7 583 382.2 583.3 381.6 583.5 381.1 583.8 380.5 584 380 584.2 379.4 584.5 378.8 584.7 378.2 585 377.6 585.2 376.9 585.4 376.2 585.7 375.6 585.9 374.9 586.1 374.1 586.4 373.4 586.6 372.6 586.9 371.8 587.1 371 587.3 370.2 587.6 369.3 587.8 368.4 588.1 367.5 588.3 366.5 588.5 365.6 588.8 364.6 589 363.5 589.3 362.5 589.5 361.4 589.7 360.3 590 359.1 590.2 358 590.5 356.7 590.7 355.5 590.9 354.2 591.2 352.9 591.4 351.6 591.7 350.2 591.9 348.8 592.1 347.4 592.4 345.9 592.6 344.4 592.9 342.9 593.1 341.3 593.3 339.7 593.6 338.1 593.8 336.5 594 334.8 594.3 333.1 594.5 331.3 594.8 329.5 595 327.7 595.2 325.9 595.5 324 595.7 322.1 596 320.2 596.2 318.2 596.4 316.2 596.7 314.2 596.9 312.2 597.2 310.1 597.4 308 597.6 305.9 597.9 303.7 598.1 301.6 598.4 299.4 598.6 297.1 598.8 294.9 599.1 292.6 599.3 290.3 599.6 288 599.8 285.7 600 283.3 600.3 280.9 600.5 278.5 600.8 276.1 601 278.5 601.2 280.9 601.5 283.3 601.7 285.7 601.9 288 602.2 290.3 602.4 292.6 602.7 294.9 602.9 297.1 603.1 299.4 603.4 301.6 603.6 303.7 603.9 305.9 604.1 308 604.3 310.1 604.6 312.2 604.8 314.2 605.1 316.2 605.3 318.2 605.5 320.2 605.8 322.1 606 324 606.3 325.9 606.5 327.7 606.7 329.5 607 331.3 607.2 333.1 607.5 334.8 607.7 336.5 607.9 338.1 608.2 339.7 608.4 341.3 608.6 342.9 608.9 344.4 609.1 345.9 609.4 347.4 609.6 348.8 609.8 350.2 610.1 351.6 610.3 352.9 610.6 354.2 610.8 355.5 611 356.7 611.3 358 611.5 359.1 611.8 360.3 612 361.4 612.2 362.5 612.5 363.5 612.7 364.6 613 365.6 613.2 366.5 613.4 367.5 613.7 368.4 613.9 369.3 614.2 370.2 614.4 371 614.6 371.8 614.9 372.6 615.1 373.4 615.4 374.1 615.6 374.9 615.8 375.6 616.1 376.2 616.3 376.9 616.5 377.6 616.8 378.2 617 378.8 617.3 379.4 617.5 380 617.7 380.5 618 381.1 618.2 381.6 618.5 382.2 618.7 382.7 618.9 383.2 619.2 383.6 619.4 384.1 619.7 384.6 619.9 385 620.1 385.5 620.4 385.9 620.6 386.3 620.9 386.8 621.1 387.2 621.3 387.6 621.6 388 621.8 388.4 622.1 388.8 622.3 389.1 622.5 389.5 622.8 389.9 623 390.2 623.3 390.6 623.5 390.9 623.7 391.3 624 391.6 624.2 391.9 624.4 392.2 624.7 392.5 624.9 392.8 625.2 393.1 625.4 393.4 625.6 393.7 625.9 393.9 626.1 394.2 626.4 394.4 626.6 394.7 626.8 394.9 627.1 395.1 627.3 395.4 627.6 395.6 627.8 395.8 628 396 628.3 396.1 628.5 396.3 628.8 396.5 629 396.6 629.2 396.8 629.5 396.9 629.7 397 630 397.2 630.2 397.3 630.4 397.4 630.7 397.4 630.9 397.5 631.2 397.6 631.4 397.7 631.6 397.7 631.9 397.7 632.1 397.8 632.3 397.8 632.6 397.8 632.8 397.8 633.1 397.8 633.3 397.8 633.5 397.7 633.8 397.7 634 397.7 634.3 397.6 634.5 397.5 634.7 397.4 635 397.4 635.2 397.3 635.5 397.1 635.7 397 635.9 396.9 636.2 396.8 636.4 396.6 636.7 396.5 636.9 396.3 637.1 396.1 637.4 395.9 637.6 395.7 637.9 395.5 638.1 395.3 638.3 395.1 638.6 394.8 638.8 394.6 639 394.3 639.3 394.1 639.5 393.8 639.8 393.5 640 393.2 640.2 392.9 640.5 392.6 640.7 392.3 641 392 641.2 391.7 641.4 391.3 641.7 391 641.9 390.6 642.2 390.2 642.4 389.8 642.6 389.4 642.9 389 643.1 388.6 643.4 388.1 643.6 387.7 643.8 387.2 644.1 386.8 644.3 386.3 644.6 385.8 644.8 385.3 645 384.8 645.3 384.3 645.5 383.7 645.8 383.2 646 382.6 646.2 382.1 646.5 381.5 646.7 380.9 646.9 380.3 647.2 379.7 647.4 379.1 647.7 378.4 647.9 377.8 648.1 377.1 648.4 376.5 648.6 375.8 648.9 375.1 649.1 374.5 649.3 373.8 649.6 373.1 649.8 372.4 650.1 371.6 650.3 370.9 650.5 370.2 650.8 369.4 651 368.7 651.3 367.9 651.5 367.2 651.7 366.4 652 365.6 652.2 364.8 652.5 364 652.7 363.2 652.9 362.4 653.2 361.6 653.4 360.8 653.7 360 653.9 359.1 654.1 358.3 654.4 357.4 654.6 356.5 654.8 355.7 655.1 354.8 655.3 353.9 655.6 353 655.8 352.1 656 351.2 656.3 350.3 656.5 349.4 656.8 348.4 657 347.5 657.2 346.5 657.5 345.6 657.7 344.6 658 343.6 658.2 342.6 658.4 341.7 658.7 340.7 658.9 339.7 659.2 338.6 659.4 337.6 659.6 336.6 659.9 335.5 660.1 334.5 660.4 333.5 660.6 332.4 660.8 331.3 661.1 330.3 661.3 329.2 661.6 328.1 661.8 327.1 662 326 662.3 324.9 662.5 323.8 662.7 322.7 663 321.6 663.2 320.5 663.5 319.4 663.7 318.3 663.9 317.2 664.2 316.1 664.4 315 664.7 313.9 664.9 312.8 665.1 311.7 665.4 310.6 665.6 309.5 665.9 308.4 666.1 307.3 666.3 306.2 666.6 305.1 666.8 304 667.1 302.9 667.3 301.9 667.5 300.8 667.8 299.7 668 298.6 668.3 297.6 668.5 296.5 668.7 295.4 669 294.4 669.2 293.3 669.5 292.3 669.7 291.3 669.9 290.2 670.2 289.2 670.4 288.2 670.6 287.2 670.9 286.2 671.1 285.2 671.4 284.2 671.6 283.2 671.8 282.3 672.1 281.3 672.3 280.4 672.6 279.5 672.8 278.5 673 277.6 673.3 276.7 673.5 275.8 673.8 275 674 274.1 674.2 273.3 674.5 272.4 674.7 271.6 675 270.8 675.2 270 675.4 269.2 675.7 268.5 675.9 267.7 676.2 267 676.4 266.2 676.6 265.5 676.9 264.8 677.1 264.1 677.4 263.5 677.6 262.8 677.8 262.2 678.1 261.6 678.3 261 678.5 260.4 678.8 259.8 679 259.2 679.3 258.7 679.5 258.1 679.7 257.6 680 257.1 680.2 256.6 680.5 256.2 680.7 255.7 680.9 255.3 681.2 254.8 681.4 254.4 681.7 254.1 681.9 253.7 682.1 253.3 682.4 253 682.6 252.7 682.9 252.4 683.1 252.1 683.3 251.8 683.6 251.5 683.8 251.3 684.1 251.1 684.3 250.9 684.5 250.7 684.8 250.5 685 250.4 685.2 250.3 685.5 250.1 685.7 250.1 686 250 686.2 249.9 686.4 249.9 686.7 249.9 686.9 249.9 687.2 249.9 687.4 249.9 687.6 249.9 687.9 250 688.1 250.1 688.4 250.1 688.6 250.3 688.8 250.4 689.1 250.5 689.3 250.7 689.6 250.9 689.8 251.1 690 251.3 690.3 251.5 690.5 251.8 690.8 252.1 691 252.4 691.2 252.7 691.5 253 691.7 253.3 692 253.7 692.2 254.1 692.4 254.4 692.7 254.8 692.9 255.3 693.1 255.7 693.4 256.2 693.6 256.6 693.9 257.1 694.1 257.6 694.3 258.1 694.6 258.7 694.8 259.2 695.1 259.8 695.3 260.4 695.5 261 695.8 261.6 696 262.2 696.3 262.8 696.5 263.5 696.7 264.1 697 264.8 697.2 265.5 697.5 266.2 697.7 267 697.9 267.7 698.2 268.5 698.4 269.2 698.7 270 698.9 270.8 699.1 271.6 699.4 272.4 699.6 273.3 699.9 274.1 700.1 275 700.3 275.8 700.6 276.7 700.8 277.6 701 278.5 701.3 279.5 701.5 280.4 701.8 281.3 702 282.3 702.2 283.2 702.5 284.2 702.7 285.2 703 286.2 703.2 287.2 703.4 288.2 703.7 289.2 703.9 290.2 704.2 291.3 704.4 292.3 704.6 293.3 704.9 294.4 705.1 295.4 705.4 296.5 705.6 297.6 705.8 298.6 706.1 299.7 706.3 300.8 706.6 301.9 706.8 302.9 707 304 707.3 305.1 707.5 306.2 707.8 307.3 708 308.4 708.2 309.5 708.5 310.6 708.7 311.7 708.9 312.8 709.2 313.9 709.4 315 709.7 316.1 709.9 317.2 710.1 318.3 710.4 319.4 710.6 320.5 710.9 321.6 711.1 322.7 711.3 323.8 711.6 324.9 711.8 326 712.1 327.1 712.3 328.1 712.5 329.2 712.8 330.3 713 331.3 713.3 332.4 713.5 333.5 713.7 334.5 714 335.5 714.2 336.6 714.5 337.6 714.7 338.6 714.9 339.7 715.2 340.7 715.4 341.7 715.7 342.6 715.9 343.6 716.1 344.6 716.4 345.6 716.6 346.5 716.8 347.5 717.1 348.4 717.3 349.4 717.6 350.3 717.8 351.2 718 352.1 718.3 353 718.5 353.9 718.8 354.8 719 355.7 719.2 356.5 719.5 357.4 719.7 358.3 720 359.1 720.2 360 720.4 360.8 720.7 361.6 720.9 362.4 721.2 363.2 721.4 364 721.6 364.8 721.9 365.6 722.1 366.4 722.4 367.2 722.6 367.9 722.8 368.7 723.1 369.4 723.3 370.2 723.5 370.9 723.8 371.6 724 372.4 724.3 373.1 724.5 373.8 724.7 374.5 725 375.1 725.2 375.8 725.5 376.5 725.7 377.1 725.9 377.8 726.2 378.4 726.4 379.1 726.7 379.7 726.9 380.3 727.1 380.9 727.4 381.5 727.6 382.1 727.9 382.6 728.1 383.2 728.3 383.7 728.6 384.3 728.8 384.8 729.1 385.3 729.3 385.8 729.5 386.3 729.8 386.8 730 387.2 730.3 387.7 730.5 388.1 730.7 388.6 731 389 731.2 389.4 731.4 389.8 731.7 390.2 731.9 390.6 732.2 391 732.4 391.3 732.6 391.7 732.9 392 733.1 392.3 733.4 392.6 733.6 392.9 733.8 393.2 734.1 393.5 734.3 393.8 734.6 394.1 734.8 394.3 735 394.6 735.3 394.8 735.5 395.1 735.8 395.3 736 395.5 736.2 395.7 736.5 395.9 736.7 396.1 737 396.3 737.2 396.5 737.4 396.6 737.7 396.8 737.9 396.9 738.2 397 738.4 397.1 738.6 397.3 738.9 397.4 739.1 397.4 739.3 397.5 739.6 397.6 739.8 397.7 740.1 397.7 740.3 397.7 740.5 397.8 740.8 397.8 741 397.8 741.3 397.8 741.5 397.8 741.7 397.8 742 397.7 742.2 397.7 742.5 397.7 742.7 397.6 742.9 397.5 743.2 397.4 743.4 397.4 743.7 397.3 743.9 397.2 744.1 397 744.4 396.9 744.6 396.8 744.9 396.6 745.1 396.5 745.3 396.3 745.6 396.1 745.8 396 746.1 395.8 746.3 395.6 746.5 395.4 746.8 395.1 747 394.9 747.2 394.7 747.5 394.4 747.7 394.2 748 393.9 748.2 393.7 748.4 393.4 748.7 393.1 748.9 392.8 749.2 392.5 749.4 392.2 749.6 391.9 749.9 391.6 750.1 391.3 750.4 390.9 750.6 390.6 750.8 390.2 751.1 389.9 751.3 389.5 751.6 389.1 751.8 388.8 752 388.4 752.3 388 752.5 387.6 752.8 387.2 753 386.8 753.2 386.3 753.5 385.9 753.7 385.5 754 385 754.2 384.6 754.4 384.1 754.7 383.6 754.9 383.2 755.1 382.7 755.4 382.2 755.6 381.6 755.9 381.1 756.1 380.5 756.3 380 756.6 379.4 756.8 378.8 757.1 378.2 757.3 377.6 757.5 376.9 757.8 376.2 758 375.6 758.3 374.9 758.5 374.1 758.7 373.4 759 372.6 759.2 371.8 759.5 371 759.7 370.2 759.9 369.3 760.2 368.4 760.4 367.5 760.7 366.5 760.9 365.6 761.1 364.6 761.4 363.5 761.6 362.5 761.8 361.4 762.1 360.3 762.3 359.1 762.6 358 762.8 356.7 763 355.5 763.3 354.2 763.5 352.9 763.8 351.6 764 350.2 764.2 348.8 764.5 347.4 764.7 345.9 765 344.4 765.2 342.9 765.4 341.3 765.7 339.7 765.9 338.1 766.2 336.5 766.4 334.8 766.6 333.1 766.9 331.3 767.1 329.5 767.4 327.7 767.6 325.9 767.8 324 768.1 322.1 768.3 320.2 768.6 318.2 768.8 316.2 769 314.2 769.3 312.2 769.5 310.1 769.7 308 770 305.9 770.2 303.7 770.5 301.6 770.7 299.4 770.9 297.1 771.2 294.9 771.4 292.6 771.7 290.3 771.9 288 772.1 285.7 772.4 283.3 772.6 280.9 772.9 278.5 773.1 276.1" fill="none" stroke="#80ff2a" stroke-width="2.6" stroke-linejoin="round" stroke-linecap="round" clip-path="url(#cd)"/>
<path d="M428.4 297.2L428.6 299 428.9 300.8 429.1 302.7 429.4 304.6 429.6 306.6 429.8 308.6 430.1 310.6 430.3 312.7 430.6 314.7 430.8 316.8 431 318.9 431.3 320.9 431.5 323 431.8 325.1 432 327.1 432.2 329.1 432.5 331.1 432.7 333.1 432.9 335 433.2 336.8 433.4 338.7 433.7 340.5 433.9 342.2 434.1 343.9 434.4 345.5 434.6 347 434.9 348.6 435.1 350 435.3 351.5 435.6 352.8 435.8 354.2 436.1 355.5 436.3 356.7 436.5 357.9 436.8 359.1 437 360.2 437.3 361.3 437.5 362.4 437.7 363.4 438 364.4 438.2 365.4 438.5 366.4 438.7 367.3 438.9 368.2 439.2 369 439.4 369.9 439.7 370.7 439.9 371.5 440.1 372.3 440.4 373.1 440.6 373.8 440.8 374.5 441.1 375.2 441.3 376 441.6 376.7 441.8 377.3 442 378 442.3 378.7 442.5 379.3 442.8 380 443 380.6 443.2 381.2 443.5 381.8 443.7 382.4 444 383 444.2 383.6 444.4 384.2 444.7 384.7 444.9 385.3 445.2 385.8 445.4 386.3 445.6 386.8 445.9 387.4 446.1 387.9 446.4 388.3 446.6 388.8 446.8 389.3 447.1 389.7 447.3 390.2 447.5 390.6 447.8 391 448 391.5 448.3 391.9 448.5 392.3 448.7 392.6 449 393 449.2 393.4 449.5 393.7 449.7 394.1 449.9 394.4 450.2 394.7 450.4 395.1 450.7 395.4 450.9 395.7 451.1 396 451.4 396.2 451.6 396.5 451.9 396.8 452.1 397 452.3 397.3 452.6 397.5 452.8 397.7 453.1 397.9 453.3 398.1 453.5 398.3 453.8 398.5 454 398.7 454.3 398.9 454.5 399 454.7 399.2 455 399.3 455.2 399.4 455.4 399.6 455.7 399.7 455.9 399.8 456.2 399.9 456.4 400 456.6 400.1 456.9 400.1 457.1 400.2 457.4 400.2 457.6 400.3 457.8 400.3 458.1 400.3 458.3 400.4 458.6 400.4 458.8 400.4 459 400.4 459.3 400.4 459.5 400.3 459.8 400.3 460 400.3 460.2 400.2 460.5 400.2 460.7 400.1 461 400 461.2 399.9 461.4 399.8 461.7 399.7 461.9 399.6 462.2 399.5 462.4 399.4 462.6 399.3 462.9 399.1 463.1 399 463.3 398.8 463.6 398.6 463.8 398.5 464.1 398.3 464.3 398.1 464.5 397.9 464.8 397.7 465 397.4 465.3 397.2 465.5 397 465.7 396.7 466 396.5 466.2 396.2 466.5 395.9 466.7 395.7 466.9 395.4 467.2 395.1 467.4 394.8 467.7 394.5 467.9 394.1 468.1 393.8 468.4 393.5 468.6 393.1 468.9 392.8 469.1 392.4 469.3 392 469.6 391.7 469.8 391.3 470.1 390.9 470.3 390.5 470.5 390 470.8 389.6 471 389.2 471.2 388.7 471.5 388.3 471.7 387.8 472 387.3 472.2 386.8 472.4 386.3 472.7 385.8 472.9 385.3 473.2 384.8 473.4 384.2 473.6 383.7 473.9 383.1 474.1 382.5 474.4 382 474.6 381.4 474.8 380.8 475.1 380.2 475.3 379.6 475.6 378.9 475.8 378.3 476 377.6 476.3 377 476.5 376.3 476.8 375.7 477 375 477.2 374.3 477.5 373.6 477.7 372.9 478 372.2 478.2 371.4 478.4 370.7 478.7 370 478.9 369.2 479.1 368.5 479.4 367.7 479.6 366.9 479.9 366.2 480.1 365.4 480.3 364.6 480.6 363.8 480.8 363 481.1 362.1 481.3 361.3 481.5 360.5 481.8 359.6 482 358.8 482.3 357.9 482.5 357.1 482.7 356.2 483 355.3 483.2 354.4 483.5 353.5 483.7 352.6 483.9 351.7 484.2 350.7 484.4 349.8 484.7 348.9 484.9 347.9 485.1 347 485.4 346 485.6 345 485.8 344 486.1 343 486.3 342 486.6 341 486.8 340 487 339 487.3 337.9 487.5 336.9 487.8 335.8 488 334.8 488.2 333.7 488.5 332.7 488.7 331.6 489 330.5 489.2 329.4 489.4 328.3 489.7 327.2 489.9 326.1 490.2 325 490.4 323.9 490.6 322.8 490.9 321.7 491.1 320.6 491.4 319.5 491.6 318.3 491.8 317.2 492.1 316.1 492.3 315 492.6 313.9 492.8 312.7 493 311.6 493.3 310.5 493.5 309.4 493.7 308.3 494 307.1 494.2 306 494.5 304.9 494.7 303.8 494.9 302.7 495.2 301.6 495.4 300.5 495.7 299.4 495.9 298.3 496.1 297.2 496.4 296.2 496.6 295.1 496.9 294 497.1 293 497.3 291.9 497.6 290.8 497.8 289.8 498.1 288.8 498.3 287.7 498.5 286.7 498.8 285.7 499 284.7 499.3 283.7 499.5 282.7 499.7 281.8 500 280.8 500.2 279.9 500.5 278.9 500.7 278 500.9 277.1 501.2 276.2 501.4 275.3 501.6 274.4 501.9 273.6 502.1 272.7 502.4 271.9 502.6 271 502.8 270.2 503.1 269.4 503.3 268.7 503.6 267.9 503.8 267.1 504 266.4 504.3 265.7 504.5 265 504.8 264.3 505 263.6 505.2 262.9 505.5 262.3 505.7 261.7 506 261 506.2 260.4 506.4 259.9 506.7 259.3 506.9 258.7 507.2 258.2 507.4 257.7 507.6 257.2 507.9 256.7 508.1 256.2 508.4 255.7 508.6 255.3 508.8 254.9 509.1 254.5 509.3 254.1 509.5 253.7 509.8 253.3 510 253 510.3 252.7 510.5 252.4 510.7 252.1 511 251.8 511.2 251.5 511.5 251.3 511.7 251.1 511.9 250.9 512.2 250.7 512.4 250.5 512.7 250.4 512.9 250.3 513.1 250.1 513.4 250.1 513.6 250 513.9 249.9 514.1 249.9 514.3 249.9 514.6 249.9 514.8 249.9 515.1 249.9 515.3 249.9 515.5 250 515.8 250.1 516 250.1 516.3 250.3 516.5 250.4 516.7 250.5 517 250.7 517.2 250.9 517.4 251.1 517.7 251.3 517.9 251.5 518.2 251.8 518.4 252.1 518.6 252.4 518.9 252.7 519.1 253 519.4 253.3 519.6 253.7 519.8 254.1 520.1 254.5 520.3 254.9 520.6 255.3 520.8 255.7 521 256.2 521.3 256.7 521.5 257.2 521.8 257.7 522 258.2 522.2 258.7 522.5 259.3 522.7 259.9 523 260.4 523.2 261 523.4 261.7 523.7 262.3 523.9 262.9 524.1 263.6 524.4 264.3 524.6 265 524.9 265.7 525.1 266.4 525.3 267.1 525.6 267.9 525.8 268.7 526.1 269.4 526.3 270.2 526.5 271 526.8 271.9 527 272.7 527.3 273.6 527.5 274.4 527.7 275.3 528 276.2 528.2 277.1 528.5 278 528.7 278.9 528.9 279.9 529.2 280.8 529.4 281.8 529.7 282.7 529.9 283.7 530.1 284.7 530.4 285.7 530.6 286.7 530.9 287.7 531.1 288.8 531.3 289.8 531.6 290.8 531.8 291.9 532 293 532.3 294 532.5 295.1 532.8 296.2 533 297.2 533.2 298.3 533.5 299.4 533.7 300.5 534 301.6 534.2 302.7 534.4 303.8 534.7 304.9 534.9 306 535.2 307.1 535.4 308.3 535.6 309.4 535.9 310.5 536.1 311.6 536.4 312.7 536.6 313.9 536.8 315 537.1 316.1 537.3 317.2 537.6 318.3 537.8 319.5 538 320.6 538.3 321.7 538.5 322.8 538.8 323.9 539 325 539.2 326.1 539.5 327.2 539.7 328.3 539.9 329.4 540.2 330.5 540.4 331.6 540.7 332.7 540.9 333.7 541.1 334.8 541.4 335.8 541.6 336.9 541.9 337.9 542.1 339 542.3 340 542.6 341 542.8 342 543.1 343 543.3 344 543.5 345 543.8 346 544 347 544.3 347.9 544.5 348.9 544.7 349.8 545 350.7 545.2 351.7 545.5 352.6 545.7 353.5 545.9 354.4 546.2 355.3 546.4 356.2 546.7 357.1 546.9 357.9 547.1 358.8 547.4 359.6 547.6 360.5 547.8 361.3 548.1 362.1 548.3 363 548.6 363.8 548.8 364.6 549 365.4 549.3 366.2 549.5 366.9 549.8 367.7 550 368.5 550.2 369.2 550.5 370 550.7 370.7 551 371.4 551.2 372.2 551.4 372.9 551.7 373.6 551.9 374.3 552.2 375 552.4 375.7 552.6 376.3 552.9 377 553.1 377.6 553.4 378.3 553.6 378.9 553.8 379.6 554.1 380.2 554.3 380.8 554.6 381.4 554.8 382 555 382.5 555.3 383.1 555.5 383.7 555.7 384.2 556 384.8 556.2 385.3 556.5 385.8 556.7 386.3 556.9 386.8 557.2 387.3 557.4 387.8 557.7 388.3 557.9 388.7 558.1 389.2 558.4 389.6 558.6 390 558.9 390.5 559.1 390.9 559.3 391.3 559.6 391.7 559.8 392 560.1 392.4 560.3 392.8 560.5 393.1 560.8 393.5 561 393.8 561.3 394.1 561.5 394.5 561.7 394.8 562 395.1 562.2 395.4 562.5 395.7 562.7 395.9 562.9 396.2 563.2 396.5 563.4 396.7 563.6 397 563.9 397.2 564.1 397.4 564.4 397.7 564.6 397.9 564.8 398.1 565.1 398.3 565.3 398.5 565.6 398.6 565.8 398.8 566 399 566.3 399.1 566.5 399.3 566.8 399.4 567 399.5 567.2 399.6 567.5 399.7 567.7 399.8 568 399.9 568.2 400 568.4 400.1 568.7 400.2 568.9 400.2 569.2 400.3 569.4 400.3 569.6 400.3 569.9 400.4 570.1 400.4 570.3 400.4 570.6 400.4 570.8 400.4 571.1 400.3 571.3 400.3 571.5 400.3 571.8 400.2 572 400.2 572.3 400.1 572.5 400.1 572.7 400 573 399.9 573.2 399.8 573.5 399.7 573.7 399.6 573.9 399.4 574.2 399.3 574.4 399.2 574.7 399 574.9 398.9 575.1 398.7 575.4 398.5 575.6 398.3 575.9 398.1 576.1 397.9 576.3 397.7 576.6 397.5 576.8 397.3 577.1 397 577.3 396.8 577.5 396.5 577.8 396.2 578 396 578.2 395.7 578.5 395.4 578.7 395.1 579 394.7 579.2 394.4 579.4 394.1 579.7 393.7 579.9 393.4 580.2 393 580.4 392.6 580.6 392.3 580.9 391.9 581.1 391.5 581.4 391 581.6 390.6 581.8 390.2 582.1 389.7 582.3 389.3 582.6 388.8 582.8 388.3 583 387.9 583.3 387.4 583.5 386.8 583.8 386.3 584 385.8 584.2 385.3 584.5 384.7 584.7 384.2 585 383.6 585.2 383 585.4 382.4 585.7 381.8 585.9 381.2 586.1 380.6 586.4 380 586.6 379.3 586.9 378.7 587.1 378 587.3 377.3 587.6 376.7 587.8 376 588.1 375.2 588.3 374.5 588.5 373.8 588.8 373.1 589 372.3 589.3 371.5 589.5 370.7 589.7 369.9 590 369 590.2 368.2 590.5 367.3 590.7 366.4 590.9 365.4 591.2 364.4 591.4 363.4 591.7 362.4 591.9 361.3 592.1 360.2 592.4 359.1 592.6 357.9 592.9 356.7 593.1 355.5 593.3 354.2 593.6 352.8 593.8 351.5 594 350 594.3 348.6 594.5 347 594.8 345.5 595 343.9 595.2 342.2 595.5 340.5 595.7 338.7 596 336.8 596.2 335 596.4 333.1 596.7 331.1 596.9 329.1 597.2 327.1 597.4 325.1 597.6 323 597.9 320.9 598.1 318.9 598.4 316.8 598.6 314.7 598.8 312.7 599.1 310.6 599.3 308.6 599.6 306.6 599.8 304.6 600 302.7 600.3 300.8 600.5 299 600.8 297.2 601 299 601.2 300.8 601.5 302.7 601.7 304.6 601.9 306.6 602.2 308.6 602.4 310.6 602.7 312.7 602.9 314.7 603.1 316.8 603.4 318.9 603.6 320.9 603.9 323 604.1 325.1 604.3 327.1 604.6 329.1 604.8 331.1 605.1 333.1 605.3 335 605.5 336.8 605.8 338.7 606 340.5 606.3 342.2 606.5 343.9 606.7 345.5 607 347 607.2 348.6 607.5 350 607.7 351.5 607.9 352.8 608.2 354.2 608.4 355.5 608.6 356.7 608.9 357.9 609.1 359.1 609.4 360.2 609.6 361.3 609.8 362.4 610.1 363.4 610.3 364.4 610.6 365.4 610.8 366.4 611 367.3 611.3 368.2 611.5 369 611.8 369.9 612 370.7 612.2 371.5 612.5 372.3 612.7 373.1 613 373.8 613.2 374.5 613.4 375.2 613.7 376 613.9 376.7 614.2 377.3 614.4 378 614.6 378.7 614.9 379.3 615.1 380 615.4 380.6 615.6 381.2 615.8 381.8 616.1 382.4 616.3 383 616.5 383.6 616.8 384.2 617 384.7 617.3 385.3 617.5 385.8 617.7 386.3 618 386.8 618.2 387.4 618.5 387.9 618.7 388.3 618.9 388.8 619.2 389.3 619.4 389.7 619.7 390.2 619.9 390.6 620.1 391 620.4 391.5 620.6 391.9 620.9 392.3 621.1 392.6 621.3 393 621.6 393.4 621.8 393.7 622.1 394.1 622.3 394.4 622.5 394.7 622.8 395.1 623 395.4 623.3 395.7 623.5 396 623.7 396.2 624 396.5 624.2 396.8 624.4 397 624.7 397.3 624.9 397.5 625.2 397.7 625.4 397.9 625.6 398.1 625.9 398.3 626.1 398.5 626.4 398.7 626.6 398.9 626.8 399 627.1 399.2 627.3 399.3 627.6 399.4 627.8 399.6 628 399.7 628.3 399.8 628.5 399.9 628.8 400 629 400.1 629.2 400.1 629.5 400.2 629.7 400.2 630 400.3 630.2 400.3 630.4 400.3 630.7 400.4 630.9 400.4 631.2 400.4 631.4 400.4 631.6 400.4 631.9 400.3 632.1 400.3 632.3 400.3 632.6 400.2 632.8 400.2 633.1 400.1 633.3 400 633.5 399.9 633.8 399.8 634 399.7 634.3 399.6 634.5 399.5 634.7 399.4 635 399.3 635.2 399.1 635.5 399 635.7 398.8 635.9 398.6 636.2 398.5 636.4 398.3 636.7 398.1 636.9 397.9 637.1 397.7 637.4 397.4 637.6 397.2 637.9 397 638.1 396.7 638.3 396.5 638.6 396.2 638.8 395.9 639 395.7 639.3 395.4 639.5 395.1 639.8 394.8 640 394.5 640.2 394.1 640.5 393.8 640.7 393.5 641 393.1 641.2 392.8 641.4 392.4 641.7 392 641.9 391.7 642.2 391.3 642.4 390.9 642.6 390.5 642.9 390 643.1 389.6 643.4 389.2 643.6 388.7 643.8 388.3 644.1 387.8 644.3 387.3 644.6 386.8 644.8 386.3 645 385.8 645.3 385.3 645.5 384.8 645.8 384.2 646 383.7 646.2 383.1 646.5 382.5 646.7 382 646.9 381.4 647.2 380.8 647.4 380.2 647.7 379.6 647.9 378.9 648.1 378.3 648.4 377.6 648.6 377 648.9 376.3 649.1 375.7 649.3 375 649.6 374.3 649.8 373.6 650.1 372.9 650.3 372.2 650.5 371.4 650.8 370.7 651 370 651.3 369.2 651.5 368.5 651.7 367.7 652 366.9 652.2 366.2 652.5 365.4 652.7 364.6 652.9 363.8 653.2 363 653.4 362.1 653.7 361.3 653.9 360.5 654.1 359.6 654.4 358.8 654.6 357.9 654.8 357.1 655.1 356.2 655.3 355.3 655.6 354.4 655.8 353.5 656 352.6 656.3 351.7 656.5 350.7 656.8 349.8 657 348.9 657.2 347.9 657.5 347 657.7 346 658 345 658.2 344 658.4 343 658.7 342 658.9 341 659.2 340 659.4 339 659.6 337.9 659.9 336.9 660.1 335.8 660.4 334.8 660.6 333.7 660.8 332.7 661.1 331.6 661.3 330.5 661.6 329.4 661.8 328.3 662 327.2 662.3 326.1 662.5 325 662.7 323.9 663 322.8 663.2 321.7 663.5 320.6 663.7 319.5 663.9 318.3 664.2 317.2 664.4 316.1 664.7 315 664.9 313.9 665.1 312.7 665.4 311.6 665.6 310.5 665.9 309.4 666.1 308.3 666.3 307.1 666.6 306 666.8 304.9 667.1 303.8 667.3 302.7 667.5 301.6 667.8 300.5 668 299.4 668.3 298.3 668.5 297.2 668.7 296.2 669 295.1 669.2 294 669.5 293 669.7 291.9 669.9 290.8 670.2 289.8 670.4 288.8 670.6 287.7 670.9 286.7 671.1 285.7 671.4 284.7 671.6 283.7 671.8 282.7 672.1 281.8 672.3 280.8 672.6 279.9 672.8 278.9 673 278 673.3 277.1 673.5 276.2 673.8 275.3 674 274.4 674.2 273.6 674.5 272.7 674.7 271.9 675 271 675.2 270.2 675.4 269.4 675.7 268.7 675.9 267.9 676.2 267.1 676.4 266.4 676.6 265.7 676.9 265 677.1 264.3 677.4 263.6 677.6 262.9 677.8 262.3 678.1 261.7 678.3 261 678.5 260.4 678.8 259.9 679 259.3 679.3 258.7 679.5 258.2 679.7 257.7 680 257.2 680.2 256.7 680.5 256.2 680.7 255.7 680.9 255.3 681.2 254.9 681.4 254.5 681.7 254.1 681.9 253.7 682.1 253.3 682.4 253 682.6 252.7 682.9 252.4 683.1 252.1 683.3 251.8 683.6 251.5 683.8 251.3 684.1 251.1 684.3 250.9 684.5 250.7 684.8 250.5 685 250.4 685.2 250.3 685.5 250.1 685.7 250.1 686 250 686.2 249.9 686.4 249.9 686.7 249.9 686.9 249.9 687.2 249.9 687.4 249.9 687.6 249.9 687.9 250 688.1 250.1 688.4 250.1 688.6 250.3 688.8 250.4 689.1 250.5 689.3 250.7 689.6 250.9 689.8 251.1 690 251.3 690.3 251.5 690.5 251.8 690.8 252.1 691 252.4 691.2 252.7 691.5 253 691.7 253.3 692 253.7 692.2 254.1 692.4 254.5 692.7 254.9 692.9 255.3 693.1 255.7 693.4 256.2 693.6 256.7 693.9 257.2 694.1 257.7 694.3 258.2 694.6 258.7 694.8 259.3 695.1 259.9 695.3 260.4 695.5 261 695.8 261.7 696 262.3 696.3 262.9 696.5 263.6 696.7 264.3 697 265 697.2 265.7 697.5 266.4 697.7 267.1 697.9 267.9 698.2 268.7 698.4 269.4 698.7 270.2 698.9 271 699.1 271.9 699.4 272.7 699.6 273.6 699.9 274.4 700.1 275.3 700.3 276.2 700.6 277.1 700.8 278 701 278.9 701.3 279.9 701.5 280.8 701.8 281.8 702 282.7 702.2 283.7 702.5 284.7 702.7 285.7 703 286.7 703.2 287.7 703.4 288.8 703.7 289.8 703.9 290.8 704.2 291.9 704.4 293 704.6 294 704.9 295.1 705.1 296.2 705.4 297.2 705.6 298.3 705.8 299.4 706.1 300.5 706.3 301.6 706.6 302.7 706.8 303.8 707 304.9 707.3 306 707.5 307.1 707.8 308.3 708 309.4 708.2 310.5 708.5 311.6 708.7 312.7 708.9 313.9 709.2 315 709.4 316.1 709.7 317.2 709.9 318.3 710.1 319.5 710.4 320.6 710.6 321.7 710.9 322.8 711.1 323.9 711.3 325 711.6 326.1 711.8 327.2 712.1 328.3 712.3 329.4 712.5 330.5 712.8 331.6 713 332.7 713.3 333.7 713.5 334.8 713.7 335.8 714 336.9 714.2 337.9 714.5 339 714.7 340 714.9 341 715.2 342 715.4 343 715.7 344 715.9 345 716.1 346 716.4 347 716.6 347.9 716.8 348.9 717.1 349.8 717.3 350.7 717.6 351.7 717.8 352.6 718 353.5 718.3 354.4 718.5 355.3 718.8 356.2 719 357.1 719.2 357.9 719.5 358.8 719.7 359.6 720 360.5 720.2 361.3 720.4 362.1 720.7 363 720.9 363.8 721.2 364.6 721.4 365.4 721.6 366.2 721.9 366.9 722.1 367.7 722.4 368.5 722.6 369.2 722.8 370 723.1 370.7 723.3 371.4 723.5 372.2 723.8 372.9 724 373.6 724.3 374.3 724.5 375 724.7 375.7 725 376.3 725.2 377 725.5 377.6 725.7 378.3 725.9 378.9 726.2 379.6 726.4 380.2 726.7 380.8 726.9 381.4 727.1 382 727.4 382.5 727.6 383.1 727.9 383.7 728.1 384.2 728.3 384.8 728.6 385.3 728.8 385.8 729.1 386.3 729.3 386.8 729.5 387.3 729.8 387.8 730 388.3 730.3 388.7 730.5 389.2 730.7 389.6 731 390 731.2 390.5 731.4 390.9 731.7 391.3 731.9 391.7 732.2 392 732.4 392.4 732.6 392.8 732.9 393.1 733.1 393.5 733.4 393.8 733.6 394.1 733.8 394.5 734.1 394.8 734.3 395.1 734.6 395.4 734.8 395.7 735 395.9 735.3 396.2 735.5 396.5 735.8 396.7 736 397 736.2 397.2 736.5 397.4 736.7 397.7 737 397.9 737.2 398.1 737.4 398.3 737.7 398.5 737.9 398.6 738.2 398.8 738.4 399 738.6 399.1 738.9 399.3 739.1 399.4 739.3 399.5 739.6 399.6 739.8 399.7 740.1 399.8 740.3 399.9 740.5 400 740.8 400.1 741 400.2 741.3 400.2 741.5 400.3 741.7 400.3 742 400.3 742.2 400.4 742.5 400.4 742.7 400.4 742.9 400.4 743.2 400.4 743.4 400.3 743.7 400.3 743.9 400.3 744.1 400.2 744.4 400.2 744.6 400.1 744.9 400.1 745.1 400 745.3 399.9 745.6 399.8 745.8 399.7 746.1 399.6 746.3 399.4 746.5 399.3 746.8 399.2 747 399 747.2 398.9 747.5 398.7 747.7 398.5 748 398.3 748.2 398.1 748.4 397.9 748.7 397.7 748.9 397.5 749.2 397.3 749.4 397 749.6 396.8 749.9 396.5 750.1 396.2 750.4 396 750.6 395.7 750.8 395.4 751.1 395.1 751.3 394.7 751.6 394.4 751.8 394.1 752 393.7 752.3 393.4 752.5 393 752.8 392.6 753 392.3 753.2 391.9 753.5 391.5 753.7 391 754 390.6 754.2 390.2 754.4 389.7 754.7 389.3 754.9 388.8 755.1 388.3 755.4 387.9 755.6 387.4 755.9 386.8 756.1 386.3 756.3 385.8 756.6 385.3 756.8 384.7 757.1 384.2 757.3 383.6 757.5 383 757.8 382.4 758 381.8 758.3 381.2 758.5 380.6 758.7 380 759 379.3 759.2 378.7 759.5 378 759.7 377.3 759.9 376.7 760.2 376 760.4 375.2 760.7 374.5 760.9 373.8 761.1 373.1 761.4 372.3 761.6 371.5 761.8 370.7 762.1 369.9 762.3 369 762.6 368.2 762.8 367.3 763 366.4 763.3 365.4 763.5 364.4 763.8 363.4 764 362.4 764.2 361.3 764.5 360.2 764.7 359.1 765 357.9 765.2 356.7 765.4 355.5 765.7 354.2 765.9 352.8 766.2 351.5 766.4 350 766.6 348.6 766.9 347 767.1 345.5 767.4 343.9 767.6 342.2 767.8 340.5 768.1 338.7 768.3 336.8 768.6 335 768.8 333.1 769 331.1 769.3 329.1 769.5 327.1 769.7 325.1 770 323 770.2 320.9 770.5 318.9 770.7 316.8 770.9 314.7 771.2 312.7 771.4 310.6 771.7 308.6 771.9 306.6 772.1 304.6 772.4 302.7 772.6 300.8 772.9 299 773.1 297.2" fill="none" stroke="#0000ff" stroke-width="2.6" stroke-linejoin="round" stroke-linecap="round" clip-path="url(#cd)"/>
</g>
<path d="M428.4 316.3L428.6 318.6 428.9 320.8 429.1 323 429.4 325.1 429.6 327.2 429.8 329.2 430.1 331.2 430.3 333.2 430.6 335 430.8 336.9 431 338.7 431.3 340.4 431.5 342.1 431.8 343.7 432 345.4 432.2 346.9 432.5 348.4 432.7 349.9 432.9 351.4 433.2 352.8 433.4 354.1 433.7 355.5 433.9 356.7 434.1 358 434.4 359.2 434.6 360.4 434.9 361.6 435.1 362.7 435.3 363.8 435.6 364.8 435.8 365.8 436.1 366.8 436.3 367.8 436.5 368.8 436.8 369.7 437 370.6 437.3 371.4 437.5 372.3 437.7 373.1 438 373.9 438.2 374.7 438.5 375.4 438.7 376.2 438.9 376.9 439.2 377.6 439.4 378.2 439.7 378.9 439.9 379.6 440.1 380.2 440.4 380.8 440.6 381.4 440.8 382 441.1 382.6 441.3 383.2 441.6 383.8 441.8 384.3 442 384.9 442.3 385.4 442.5 385.9 442.8 386.5 443 387 443.2 387.5 443.5 388 443.7 388.5 444 389 444.2 389.5 444.4 389.9 444.7 390.4 444.9 390.8 445.2 391.3 445.4 391.7 445.6 392.1 445.9 392.6 446.1 393 446.4 393.4 446.6 393.8 446.8 394.1 447.1 394.5 447.3 394.9 447.5 395.2 447.8 395.6 448 395.9 448.3 396.3 448.5 396.6 448.7 396.9 449 397.2 449.2 397.5 449.5 397.8 449.7 398.1 449.9 398.4 450.2 398.7 450.4 398.9 450.7 399.2 450.9 399.4 451.1 399.7 451.4 399.9 451.6 400.1 451.9 400.3 452.1 400.5 452.3 400.7 452.6 400.9 452.8 401.1 453.1 401.2 453.3 401.4 453.5 401.6 453.8 401.7 454 401.8 454.3 402 454.5 402.1 454.7 402.2 455 402.3 455.2 402.4 455.4 402.5 455.7 402.6 455.9 402.6 456.2 402.7 456.4 402.8 456.6 402.8 456.9 402.8 457.1 402.9 457.4 402.9 457.6 402.9 457.8 402.9 458.1 402.9 458.3 402.9 458.6 402.9 458.8 402.8 459 402.8 459.3 402.7 459.5 402.7 459.8 402.6 460 402.6 460.2 402.5 460.5 402.4 460.7 402.3 461 402.2 461.2 402.1 461.4 402 461.7 401.8 461.9 401.7 462.2 401.6 462.4 401.4 462.6 401.2 462.9 401.1 463.1 400.9 463.3 400.7 463.6 400.5 463.8 400.3 464.1 400.1 464.3 399.9 464.5 399.6 464.8 399.4 465 399.2 465.3 398.9 465.5 398.6 465.7 398.4 466 398.1 466.2 397.8 466.5 397.5 466.7 397.2 466.9 396.9 467.2 396.6 467.4 396.3 467.7 395.9 467.9 395.6 468.1 395.2 468.4 394.9 468.6 394.5 468.9 394.1 469.1 393.7 469.3 393.3 469.6 392.9 469.8 392.5 470.1 392.1 470.3 391.6 470.5 391.2 470.8 390.8 471 390.3 471.2 389.8 471.5 389.4 471.7 388.9 472 388.4 472.2 387.9 472.4 387.4 472.7 386.9 472.9 386.4 473.2 385.8 473.4 385.3 473.6 384.7 473.9 384.2 474.1 383.6 474.4 383 474.6 382.5 474.8 381.9 475.1 381.3 475.3 380.7 475.6 380 475.8 379.4 476 378.8 476.3 378.1 476.5 377.5 476.8 376.8 477 376.2 477.2 375.5 477.5 374.8 477.7 374.1 478 373.4 478.2 372.7 478.4 372 478.7 371.2 478.9 370.5 479.1 369.8 479.4 369 479.6 368.2 479.9 367.5 480.1 366.7 480.3 365.9 480.6 365.1 480.8 364.3 481.1 363.5 481.3 362.7 481.5 361.8 481.8 361 482 360.1 482.3 359.3 482.5 358.4 482.7 357.5 483 356.7 483.2 355.8 483.5 354.9 483.7 354 483.9 353 484.2 352.1 484.4 351.2 484.7 350.2 484.9 349.3 485.1 348.3 485.4 347.3 485.6 346.4 485.8 345.4 486.1 344.4 486.3 343.4 486.6 342.4 486.8 341.3 487 340.3 487.3 339.3 487.5 338.2 487.8 337.2 488 336.1 488.2 335 488.5 334 488.7 332.9 489 331.8 489.2 330.7 489.4 329.6 489.7 328.5 489.9 327.4 490.2 326.2 490.4 325.1 490.6 324 490.9 322.9 491.1 321.7 491.4 320.6 491.6 319.5 491.8 318.3 492.1 317.2 492.3 316.1 492.6 314.9 492.8 313.8 493 312.6 493.3 311.5 493.5 310.4 493.7 309.2 494 308.1 494.2 307 494.5 305.8 494.7 304.7 494.9 303.6 495.2 302.4 495.4 301.3 495.7 300.2 495.9 299.1 496.1 298 496.4 296.9 496.6 295.8 496.9 294.7 497.1 293.6 497.3 292.5 497.6 291.5 497.8 290.4 498.1 289.4 498.3 288.3 498.5 287.3 498.8 286.2 499 285.2 499.3 284.2 499.5 283.2 499.7 282.2 500 281.2 500.2 280.3 500.5 279.3 500.7 278.4 500.9 277.4 501.2 276.5 501.4 275.6 501.6 274.7 501.9 273.8 502.1 273 502.4 272.1 502.6 271.3 502.8 270.5 503.1 269.7 503.3 268.9 503.6 268.1 503.8 267.3 504 266.6 504.3 265.8 504.5 265.1 504.8 264.4 505 263.7 505.2 263.1 505.5 262.4 505.7 261.8 506 261.1 506.2 260.5 506.4 259.9 506.7 259.4 506.9 258.8 507.2 258.3 507.4 257.7 507.6 257.2 507.9 256.7 508.1 256.2 508.4 255.8 508.6 255.3 508.8 254.9 509.1 254.5 509.3 254.1 509.5 253.7 509.8 253.4 510 253 510.3 252.7 510.5 252.4 510.7 252.1 511 251.8 511.2 251.5 511.5 251.3 511.7 251.1 511.9 250.9 512.2 250.7 512.4 250.5 512.7 250.4 512.9 250.3 513.1 250.1 513.4 250.1 513.6 250 513.9 249.9 514.1 249.9 514.3 249.9 514.6 249.9 514.8 249.9 515.1 249.9 515.3 249.9 515.5 250 515.8 250.1 516 250.1 516.3 250.3 516.5 250.4 516.7 250.5 517 250.7 517.2 250.9 517.4 251.1 517.7 251.3 517.9 251.5 518.2 251.8 518.4 252.1 518.6 252.4 518.9 252.7 519.1 253 519.4 253.4 519.6 253.7 519.8 254.1 520.1 254.5 520.3 254.9 520.6 255.3 520.8 255.8 521 256.2 521.3 256.7 521.5 257.2 521.8 257.7 522 258.3 522.2 258.8 522.5 259.4 522.7 259.9 523 260.5 523.2 261.1 523.4 261.8 523.7 262.4 523.9 263.1 524.1 263.7 524.4 264.4 524.6 265.1 524.9 265.8 525.1 266.6 525.3 267.3 525.6 268.1 525.8 268.9 526.1 269.7 526.3 270.5 526.5 271.3 526.8 272.1 527 273 527.3 273.8 527.5 274.7 527.7 275.6 528 276.5 528.2 277.4 528.5 278.4 528.7 279.3 528.9 280.3 529.2 281.2 529.4 282.2 529.7 283.2 529.9 284.2 530.1 285.2 530.4 286.2 530.6 287.3 530.9 288.3 531.1 289.4 531.3 290.4 531.6 291.5 531.8 292.5 532 293.6 532.3 294.7 532.5 295.8 532.8 296.9 533 298 533.2 299.1 533.5 300.2 533.7 301.3 534 302.4 534.2 303.6 534.4 304.7 534.7 305.8 534.9 307 535.2 308.1 535.4 309.2 535.6 310.4 535.9 311.5 536.1 312.6 536.4 313.8 536.6 314.9 536.8 316.1 537.1 317.2 537.3 318.3 537.6 319.5 537.8 320.6 538 321.7 538.3 322.9 538.5 324 538.8 325.1 539 326.2 539.2 327.4 539.5 328.5 539.7 329.6 539.9 330.7 540.2 331.8 540.4 332.9 540.7 334 540.9 335 541.1 336.1 541.4 337.2 541.6 338.2 541.9 339.3 542.1 340.3 542.3 341.3 542.6 342.4 542.8 343.4 543.1 344.4 543.3 345.4 543.5 346.4 543.8 347.3 544 348.3 544.3 349.3 544.5 350.2 544.7 351.2 545 352.1 545.2 353 545.5 354 545.7 354.9 545.9 355.8 546.2 356.7 546.4 357.5 546.7 358.4 546.9 359.3 547.1 360.1 547.4 361 547.6 361.8 547.8 362.7 548.1 363.5 548.3 364.3 548.6 365.1 548.8 365.9 549 366.7 549.3 367.5 549.5 368.2 549.8 369 550 369.8 550.2 370.5 550.5 371.2 550.7 372 551 372.7 551.2 373.4 551.4 374.1 551.7 374.8 551.9 375.5 552.2 376.2 552.4 376.8 552.6 377.5 552.9 378.1 553.1 378.8 553.4 379.4 553.6 380 553.8 380.7 554.1 381.3 554.3 381.9 554.6 382.5 554.8 383 555 383.6 555.3 384.2 555.5 384.7 555.7 385.3 556 385.8 556.2 386.4 556.5 386.9 556.7 387.4 556.9 387.9 557.2 388.4 557.4 388.9 557.7 389.4 557.9 389.8 558.1 390.3 558.4 390.8 558.6 391.2 558.9 391.6 559.1 392.1 559.3 392.5 559.6 392.9 559.8 393.3 560.1 393.7 560.3 394.1 560.5 394.5 560.8 394.9 561 395.2 561.3 395.6 561.5 395.9 561.7 396.3 562 396.6 562.2 396.9 562.5 397.2 562.7 397.5 562.9 397.8 563.2 398.1 563.4 398.4 563.6 398.6 563.9 398.9 564.1 399.2 564.4 399.4 564.6 399.6 564.8 399.9 565.1 400.1 565.3 400.3 565.6 400.5 565.8 400.7 566 400.9 566.3 401.1 566.5 401.2 566.8 401.4 567 401.6 567.2 401.7 567.5 401.8 567.7 402 568 402.1 568.2 402.2 568.4 402.3 568.7 402.4 568.9 402.5 569.2 402.6 569.4 402.6 569.6 402.7 569.9 402.7 570.1 402.8 570.3 402.8 570.6 402.9 570.8 402.9 571.1 402.9 571.3 402.9 571.5 402.9 571.8 402.9 572 402.9 572.3 402.8 572.5 402.8 572.7 402.8 573 402.7 573.2 402.6 573.5 402.6 573.7 402.5 573.9 402.4 574.2 402.3 574.4 402.2 574.7 402.1 574.9 402 575.1 401.8 575.4 401.7 575.6 401.6 575.9 401.4 576.1 401.2 576.3 401.1 576.6 400.9 576.8 400.7 577.1 400.5 577.3 400.3 577.5 400.1 577.8 399.9 578 399.7 578.2 399.4 578.5 399.2 578.7 398.9 579 398.7 579.2 398.4 579.4 398.1 579.7 397.8 579.9 397.5 580.2 397.2 580.4 396.9 580.6 396.6 580.9 396.3 581.1 395.9 581.4 395.6 581.6 395.2 581.8 394.9 582.1 394.5 582.3 394.1 582.6 393.8 582.8 393.4 583 393 583.3 392.6 583.5 392.1 583.8 391.7 584 391.3 584.2 390.8 584.5 390.4 584.7 389.9 585 389.5 585.2 389 585.4 388.5 585.7 388 585.9 387.5 586.1 387 586.4 386.5 586.6 385.9 586.9 385.4 587.1 384.9 587.3 384.3 587.6 383.8 587.8 383.2 588.1 382.6 588.3 382 588.5 381.4 588.8 380.8 589 380.2 589.3 379.6 589.5 378.9 589.7 378.2 590 377.6 590.2 376.9 590.5 376.2 590.7 375.4 590.9 374.7 591.2 373.9 591.4 373.1 591.7 372.3 591.9 371.4 592.1 370.6 592.4 369.7 592.6 368.8 592.9 367.8 593.1 366.8 593.3 365.8 593.6 364.8 593.8 363.8 594 362.7 594.3 361.6 594.5 360.4 594.8 359.2 595 358 595.2 356.7 595.5 355.5 595.7 354.1 596 352.8 596.2 351.4 596.4 349.9 596.7 348.4 596.9 346.9 597.2 345.4 597.4 343.7 597.6 342.1 597.9 340.4 598.1 338.7 598.4 336.9 598.6 335 598.8 333.2 599.1 331.2 599.3 329.2 599.6 327.2 599.8 325.1 600 323 600.3 320.8 600.5 318.6 600.8 316.3 601 318.6 601.2 320.8 601.5 323 601.7 325.1 601.9 327.2 602.2 329.2 602.4 331.2 602.7 333.2 602.9 335 603.1 336.9 603.4 338.7 603.6 340.4 603.9 342.1 604.1 343.7 604.3 345.4 604.6 346.9 604.8 348.4 605.1 349.9 605.3 351.4 605.5 352.8 605.8 354.1 606 355.5 606.3 356.7 606.5 358 606.7 359.2 607 360.4 607.2 361.6 607.5 362.7 607.7 363.8 607.9 364.8 608.2 365.8 608.4 366.8 608.6 367.8 608.9 368.8 609.1 369.7 609.4 370.6 609.6 371.4 609.8 372.3 610.1 373.1 610.3 373.9 610.6 374.7 610.8 375.4 611 376.2 611.3 376.9 611.5 377.6 611.8 378.2 612 378.9 612.2 379.6 612.5 380.2 612.7 380.8 613 381.4 613.2 382 613.4 382.6 613.7 383.2 613.9 383.8 614.2 384.3 614.4 384.9 614.6 385.4 614.9 385.9 615.1 386.5 615.4 387 615.6 387.5 615.8 388 616.1 388.5 616.3 389 616.5 389.5 616.8 389.9 617 390.4 617.3 390.8 617.5 391.3 617.7 391.7 618 392.1 618.2 392.6 618.5 393 618.7 393.4 618.9 393.8 619.2 394.1 619.4 394.5 619.7 394.9 619.9 395.2 620.1 395.6 620.4 395.9 620.6 396.3 620.9 396.6 621.1 396.9 621.3 397.2 621.6 397.5 621.8 397.8 622.1 398.1 622.3 398.4 622.5 398.7 622.8 398.9 623 399.2 623.3 399.4 623.5 399.7 623.7 399.9 624 400.1 624.2 400.3 624.4 400.5 624.7 400.7 624.9 400.9 625.2 401.1 625.4 401.2 625.6 401.4 625.9 401.6 626.1 401.7 626.4 401.8 626.6 402 626.8 402.1 627.1 402.2 627.3 402.3 627.6 402.4 627.8 402.5 628 402.6 628.3 402.6 628.5 402.7 628.8 402.8 629 402.8 629.2 402.8 629.5 402.9 629.7 402.9 630 402.9 630.2 402.9 630.4 402.9 630.7 402.9 630.9 402.9 631.2 402.8 631.4 402.8 631.6 402.7 631.9 402.7 632.1 402.6 632.3 402.6 632.6 402.5 632.8 402.4 633.1 402.3 633.3 402.2 633.5 402.1 633.8 402 634 401.8 634.3 401.7 634.5 401.6 634.7 401.4 635 401.2 635.2 401.1 635.5 400.9 635.7 400.7 635.9 400.5 636.2 400.3 636.4 400.1 636.7 399.9 636.9 399.6 637.1 399.4 637.4 399.2 637.6 398.9 637.9 398.6 638.1 398.4 638.3 398.1 638.6 397.8 638.8 397.5 639 397.2 639.3 396.9 639.5 396.6 639.8 396.3 640 395.9 640.2 395.6 640.5 395.2 640.7 394.9 641 394.5 641.2 394.1 641.4 393.7 641.7 393.3 641.9 392.9 642.2 392.5 642.4 392.1 642.6 391.6 642.9 391.2 643.1 390.8 643.4 390.3 643.6 389.8 643.8 389.4 644.1 388.9 644.3 388.4 644.6 387.9 644.8 387.4 645 386.9 645.3 386.4 645.5 385.8 645.8 385.3 646 384.7 646.2 384.2 646.5 383.6 646.7 383 646.9 382.5 647.2 381.9 647.4 381.3 647.7 380.7 647.9 380 648.1 379.4 648.4 378.8 648.6 378.1 648.9 377.5 649.1 376.8 649.3 376.2 649.6 375.5 649.8 374.8 650.1 374.1 650.3 373.4 650.5 372.7 650.8 372 651 371.2 651.3 370.5 651.5 369.8 651.7 369 652 368.2 652.2 367.5 652.5 366.7 652.7 365.9 652.9 365.1 653.2 364.3 653.4 363.5 653.7 362.7 653.9 361.8 654.1 361 654.4 360.1 654.6 359.3 654.8 358.4 655.1 357.5 655.3 356.7 655.6 355.8 655.8 354.9 656 354 656.3 353 656.5 352.1 656.8 351.2 657 350.2 657.2 349.3 657.5 348.3 657.7 347.3 658 346.4 658.2 345.4 658.4 344.4 658.7 343.4 658.9 342.4 659.2 341.3 659.4 340.3 659.6 339.3 659.9 338.2 660.1 337.2 660.4 336.1 660.6 335 660.8 334 661.1 332.9 661.3 331.8 661.6 330.7 661.8 329.6 662 328.5 662.3 327.4 662.5 326.2 662.7 325.1 663 324 663.2 322.9 663.5 321.7 663.7 320.6 663.9 319.5 664.2 318.3 664.4 317.2 664.7 316.1 664.9 314.9 665.1 313.8 665.4 312.6 665.6 311.5 665.9 310.4 666.1 309.2 666.3 308.1 666.6 307 666.8 305.8 667.1 304.7 667.3 303.6 667.5 302.4 667.8 301.3 668 300.2 668.3 299.1 668.5 298 668.7 296.9 669 295.8 669.2 294.7 669.5 293.6 669.7 292.5 669.9 291.5 670.2 290.4 670.4 289.4 670.6 288.3 670.9 287.3 671.1 286.2 671.4 285.2 671.6 284.2 671.8 283.2 672.1 282.2 672.3 281.2 672.6 280.3 672.8 279.3 673 278.4 673.3 277.4 673.5 276.5 673.8 275.6 674 274.7 674.2 273.8 674.5 273 674.7 272.1 675 271.3 675.2 270.5 675.4 269.7 675.7 268.9 675.9 268.1 676.2 267.3 676.4 266.6 676.6 265.8 676.9 265.1 677.1 264.4 677.4 263.7 677.6 263.1 677.8 262.4 678.1 261.8 678.3 261.1 678.5 260.5 678.8 259.9 679 259.4 679.3 258.8 679.5 258.3 679.7 257.7 680 257.2 680.2 256.7 680.5 256.2 680.7 255.8 680.9 255.3 681.2 254.9 681.4 254.5 681.7 254.1 681.9 253.7 682.1 253.4 682.4 253 682.6 252.7 682.9 252.4 683.1 252.1 683.3 251.8 683.6 251.5 683.8 251.3 684.1 251.1 684.3 250.9 684.5 250.7 684.8 250.5 685 250.4 685.2 250.3 685.5 250.1 685.7 250.1 686 250 686.2 249.9 686.4 249.9 686.7 249.9 686.9 249.9 687.2 249.9 687.4 249.9 687.6 249.9 687.9 250 688.1 250.1 688.4 250.1 688.6 250.3 688.8 250.4 689.1 250.5 689.3 250.7 689.6 250.9 689.8 251.1 690 251.3 690.3 251.5 690.5 251.8 690.8 252.1 691 252.4 691.2 252.7 691.5 253 691.7 253.4 692 253.7 692.2 254.1 692.4 254.5 692.7 254.9 692.9 255.3 693.1 255.8 693.4 256.2 693.6 256.7 693.9 257.2 694.1 257.7 694.3 258.3 694.6 258.8 694.8 259.4 695.1 259.9 695.3 260.5 695.5 261.1 695.8 261.8 696 262.4 696.3 263.1 696.5 263.7 696.7 264.4 697 265.1 697.2 265.8 697.5 266.6 697.7 267.3 697.9 268.1 698.2 268.9 698.4 269.7 698.7 270.5 698.9 271.3 699.1 272.1 699.4 273 699.6 273.8 699.9 274.7 700.1 275.6 700.3 276.5 700.6 277.4 700.8 278.4 701 279.3 701.3 280.3 701.5 281.2 701.8 282.2 702 283.2 702.2 284.2 702.5 285.2 702.7 286.2 703 287.3 703.2 288.3 703.4 289.4 703.7 290.4 703.9 291.5 704.2 292.5 704.4 293.6 704.6 294.7 704.9 295.8 705.1 296.9 705.4 298 705.6 299.1 705.8 300.2 706.1 301.3 706.3 302.4 706.6 303.6 706.8 304.7 707 305.8 707.3 307 707.5 308.1 707.8 309.2 708 310.4 708.2 311.5 708.5 312.6 708.7 313.8 708.9 314.9 709.2 316.1 709.4 317.2 709.7 318.3 709.9 319.5 710.1 320.6 710.4 321.7 710.6 322.9 710.9 324 711.1 325.1 711.3 326.2 711.6 327.4 711.8 328.5 712.1 329.6 712.3 330.7 712.5 331.8 712.8 332.9 713 334 713.3 335 713.5 336.1 713.7 337.2 714 338.2 714.2 339.3 714.5 340.3 714.7 341.3 714.9 342.4 715.2 343.4 715.4 344.4 715.7 345.4 715.9 346.4 716.1 347.3 716.4 348.3 716.6 349.3 716.8 350.2 717.1 351.2 717.3 352.1 717.6 353 717.8 354 718 354.9 718.3 355.8 718.5 356.7 718.8 357.5 719 358.4 719.2 359.3 719.5 360.1 719.7 361 720 361.8 720.2 362.7 720.4 363.5 720.7 364.3 720.9 365.1 721.2 365.9 721.4 366.7 721.6 367.5 721.9 368.2 722.1 369 722.4 369.8 722.6 370.5 722.8 371.2 723.1 372 723.3 372.7 723.5 373.4 723.8 374.1 724 374.8 724.3 375.5 724.5 376.2 724.7 376.8 725 377.5 725.2 378.1 725.5 378.8 725.7 379.4 725.9 380 726.2 380.7 726.4 381.3 726.7 381.9 726.9 382.5 727.1 383 727.4 383.6 727.6 384.2 727.9 384.7 728.1 385.3 728.3 385.8 728.6 386.4 728.8 386.9 729.1 387.4 729.3 387.9 729.5 388.4 729.8 388.9 730 389.4 730.3 389.8 730.5 390.3 730.7 390.8 731 391.2 731.2 391.6 731.4 392.1 731.7 392.5 731.9 392.9 732.2 393.3 732.4 393.7 732.6 394.1 732.9 394.5 733.1 394.9 733.4 395.2 733.6 395.6 733.8 395.9 734.1 396.3 734.3 396.6 734.6 396.9 734.8 397.2 735 397.5 735.3 397.8 735.5 398.1 735.8 398.4 736 398.6 736.2 398.9 736.5 399.2 736.7 399.4 737 399.6 737.2 399.9 737.4 400.1 737.7 400.3 737.9 400.5 738.2 400.7 738.4 400.9 738.6 401.1 738.9 401.2 739.1 401.4 739.3 401.6 739.6 401.7 739.8 401.8 740.1 402 740.3 402.1 740.5 402.2 740.8 402.3 741 402.4 741.3 402.5 741.5 402.6 741.7 402.6 742 402.7 742.2 402.7 742.5 402.8 742.7 402.8 742.9 402.9 743.2 402.9 743.4 402.9 743.7 402.9 743.9 402.9 744.1 402.9 744.4 402.9 744.6 402.8 744.9 402.8 745.1 402.8 745.3 402.7 745.6 402.6 745.8 402.6 746.1 402.5 746.3 402.4 746.5 402.3 746.8 402.2 747 402.1 747.2 402 747.5 401.8 747.7 401.7 748 401.6 748.2 401.4 748.4 401.2 748.7 401.1 748.9 400.9 749.2 400.7 749.4 400.5 749.6 400.3 749.9 400.1 750.1 399.9 750.4 399.7 750.6 399.4 750.8 399.2 751.1 398.9 751.3 398.7 751.6 398.4 751.8 398.1 752 397.8 752.3 397.5 752.5 397.2 752.8 396.9 753 396.6 753.2 396.3 753.5 395.9 753.7 395.6 754 395.2 754.2 394.9 754.4 394.5 754.7 394.1 754.9 393.8 755.1 393.4 755.4 393 755.6 392.6 755.9 392.1 756.1 391.7 756.3 391.3 756.6 390.8 756.8 390.4 757.1 389.9 757.3 389.5 757.5 389 757.8 388.5 758 388 758.3 387.5 758.5 387 758.7 386.5 759 385.9 759.2 385.4 759.5 384.9 759.7 384.3 759.9 383.8 760.2 383.2 760.4 382.6 760.7 382 760.9 381.4 761.1 380.8 761.4 380.2 761.6 379.6 761.8 378.9 762.1 378.2 762.3 377.6 762.6 376.9 762.8 376.2 763 375.4 763.3 374.7 763.5 373.9 763.8 373.1 764 372.3 764.2 371.4 764.5 370.6 764.7 369.7 765 368.8 765.2 367.8 765.4 366.8 765.7 365.8 765.9 364.8 766.2 363.8 766.4 362.7 766.6 361.6 766.9 360.4 767.1 359.2 767.4 358 767.6 356.7 767.8 355.5 768.1 354.1 768.3 352.8 768.6 351.4 768.8 349.9 769 348.4 769.3 346.9 769.5 345.4 769.7 343.7 770 342.1 770.2 340.4 770.5 338.7 770.7 336.9 770.9 335 771.2 333.2 771.4 331.2 771.7 329.2 771.9 327.2 772.1 325.1 772.4 323 772.6 320.8 772.9 318.6 773.1 316.3" fill="none" stroke="#80ffff" stroke-width="3.0" stroke-linejoin="round" clip-path="url(#cd)"/>
<path d="M61.15 0.75H405.95V239.3H61.15ZM61.15 239.3H405.95V477.85H61.15ZM428.3 0.75H773.0V239.3H428.3ZM428.3 239.3H773.0V477.85H428.3Z" stroke="#000" stroke-width="1.8" fill="none" stroke-linejoin="miter"/>
<text x="56.3" y="232.9" font-size="16.9" text-anchor="end" >0.0</text>
<text x="56.3" y="124.4" font-size="16.9" text-anchor="end" >0.5</text>
<text x="56.3" y="15.9" font-size="16.9" text-anchor="end" >1.0</text>
<text x="56.3" y="471.7" font-size="16.9" text-anchor="end" >0.0</text>
<text x="56.3" y="363.2" font-size="16.9" text-anchor="end" >0.5</text>
<text x="56.3" y="254.7" font-size="16.9" text-anchor="end" >1.0</text>
<text x="61.1" y="495.7" font-size="16.9" text-anchor="middle" >-90</text>
<text x="118.5" y="495.7" font-size="16.9" text-anchor="middle" >-60</text>
<text x="176.0" y="495.7" font-size="16.9" text-anchor="middle" >-30</text>
<text x="233.4" y="495.7" font-size="16.9" text-anchor="middle" >0</text>
<text x="290.9" y="495.7" font-size="16.9" text-anchor="middle" >30</text>
<text x="348.4" y="495.7" font-size="16.9" text-anchor="middle" >60</text>
<text x="405.8" y="495.7" font-size="16.9" text-anchor="middle" >90</text>
<text x="428.4" y="495.7" font-size="16.9" text-anchor="middle" >0</text>
<text x="514.6" y="495.7" font-size="16.9" text-anchor="middle" >90</text>
<text x="600.8" y="495.7" font-size="16.9" text-anchor="middle" >180</text>
<text x="686.9" y="495.7" font-size="16.9" text-anchor="middle" >270</text>
<text x="773.1" y="495.7" font-size="16.9" text-anchor="middle" >360</text>
<text transform="translate(18.2 135) rotate(-90)" font-size="21.5" text-anchor="middle">T</text>
<text transform="translate(18.2 373.7) rotate(-90)" font-size="21.5" text-anchor="middle">T</text>
<text x="233.5" y="528.4" font-size="22" text-anchor="middle" class="s">φ</text>
<text x="600.8" y="528.5" font-size="20.5" text-anchor="middle" class="s">θ</text>
<text x="70.3" y="93.1" font-size="22" text-anchor="start" >(a)</text>
<text x="444.5" y="110.8" font-size="22" text-anchor="start" >(b)</text>
<text x="67.8" y="285.7" font-size="22" text-anchor="start" >(c)</text>
<text x="439.5" y="284.3" font-size="22" text-anchor="start" >(d)</text>
<text x="199.5" y="98.8" font-size="17" text-anchor="start" >N=10000</text>
<text x="480.8" y="141.0" font-size="17" text-anchor="start" >N=10000</text>
<text x="131.3" y="301.6" font-size="17" text-anchor="start" >N=10000</text>
<text x="528.5" y="262.0" font-size="17" text-anchor="start" >N=10000</text>
<line x1="186.3" y1="117.3" x2="220.8" y2="117.3" stroke="#000000" stroke-width="2.6"/>
<text x="223.5" y="122.1" font-size="13.3" text-anchor="start" ><tspan class="s" style="letter-spacing:0.3px;">δ</tspan>=0.0</text>
<line x1="186.3" y1="133.3" x2="220.8" y2="133.3" stroke="#da0000" stroke-width="2.6"/>
<text x="223.5" y="138.1" font-size="13.3" text-anchor="start" ><tspan class="s" style="letter-spacing:0.3px;">δ</tspan>=0.05</text>
<line x1="186.3" y1="149.3" x2="220.8" y2="149.3" stroke="#80ff2a" stroke-width="2.6"/>
<text x="223.5" y="154.1" font-size="13.3" text-anchor="start" ><tspan class="s" style="letter-spacing:0.3px;">δ</tspan>=0.1</text>
<line x1="186.3" y1="165.3" x2="220.8" y2="165.3" stroke="#0000ff" stroke-width="2.6"/>
<text x="223.5" y="170.1" font-size="13.3" text-anchor="start" ><tspan class="s" style="letter-spacing:0.3px;">δ</tspan>=0.15</text>
<line x1="186.3" y1="181.3" x2="220.8" y2="181.3" stroke="#80ffff" stroke-width="2.6"/>
<text x="223.5" y="186.1" font-size="13.3" text-anchor="start" ><tspan class="s" style="letter-spacing:0.3px;">δ</tspan>=0.2</text>
<line x1="581.3" y1="121.3" x2="625.7" y2="121.3" stroke="#000000" stroke-width="2.6"/>
<text x="629.2" y="127.3" font-size="16.6" text-anchor="start" ><tspan class="s" style="letter-spacing:0.3px;">δ</tspan>=0.0</text>
<line x1="581.3" y1="141.6" x2="625.7" y2="141.6" stroke="#da0000" stroke-width="2.6"/>
<text x="629.2" y="147.6" font-size="16.6" text-anchor="start" ><tspan class="s" style="letter-spacing:0.3px;">δ</tspan>=0.05</text>
<line x1="581.3" y1="161.9" x2="625.7" y2="161.9" stroke="#80ff2a" stroke-width="2.6"/>
<text x="629.2" y="167.9" font-size="16.6" text-anchor="start" ><tspan class="s" style="letter-spacing:0.3px;">δ</tspan>=0.1</text>
<line x1="581.3" y1="182.2" x2="625.7" y2="182.2" stroke="#0000ff" stroke-width="2.6"/>
<text x="629.2" y="188.2" font-size="16.6" text-anchor="start" ><tspan class="s" style="letter-spacing:0.3px;">δ</tspan>=0.15</text>
<line x1="581.3" y1="202.5" x2="625.7" y2="202.5" stroke="#80ffff" stroke-width="2.6"/>
<text x="629.2" y="208.5" font-size="16.6" text-anchor="start" ><tspan class="s" style="letter-spacing:0.3px;">δ</tspan>=0.2</text>
<line x1="280.8" y1="312.2" x2="325.0" y2="312.2" stroke="#000000" stroke-width="2.6"/>
<text x="328.8" y="318.2" font-size="16.6" text-anchor="start" ><tspan class="s" style="letter-spacing:0.3px;">δ</tspan>=0.0</text>
<line x1="280.8" y1="332.6" x2="325.0" y2="332.6" stroke="#da0000" stroke-width="2.6"/>
<text x="328.8" y="338.6" font-size="16.6" text-anchor="start" ><tspan class="s" style="letter-spacing:0.3px;">δ</tspan>=0.05</text>
<line x1="280.8" y1="353.0" x2="325.0" y2="353.0" stroke="#80ff2a" stroke-width="2.6"/>
<text x="328.8" y="359.0" font-size="16.6" text-anchor="start" ><tspan class="s" style="letter-spacing:0.3px;">δ</tspan>=0.1</text>
<line x1="280.8" y1="373.4" x2="325.0" y2="373.4" stroke="#0000ff" stroke-width="2.6"/>
<text x="328.8" y="379.4" font-size="16.6" text-anchor="start" ><tspan class="s" style="letter-spacing:0.3px;">δ</tspan>=0.15</text>
<line x1="280.8" y1="393.8" x2="325.0" y2="393.8" stroke="#80ffff" stroke-width="2.6"/>
<text x="328.8" y="399.8" font-size="16.6" text-anchor="start" ><tspan class="s" style="letter-spacing:0.3px;">δ</tspan>=0.2</text>
<line x1="649.6" y1="402.0" x2="684.3" y2="402.0" stroke="#000000" stroke-width="2.6"/>
<text x="687.2" y="406.8" font-size="13.3" text-anchor="start" ><tspan class="s" style="letter-spacing:0.3px;">δ</tspan>=0.0</text>
<line x1="649.6" y1="418.1" x2="684.3" y2="418.1" stroke="#da0000" stroke-width="2.6"/>
<text x="687.2" y="422.8" font-size="13.3" text-anchor="start" ><tspan class="s" style="letter-spacing:0.3px;">δ</tspan>=0.05</text>
<line x1="649.6" y1="434.1" x2="684.3" y2="434.1" stroke="#80ff2a" stroke-width="2.6"/>
<text x="687.2" y="438.9" font-size="13.3" text-anchor="start" ><tspan class="s" style="letter-spacing:0.3px;">δ</tspan>=0.1</text>
<line x1="649.6" y1="450.1" x2="684.3" y2="450.1" stroke="#0000ff" stroke-width="2.6"/>
<text x="687.2" y="454.9" font-size="13.3" text-anchor="start" ><tspan class="s" style="letter-spacing:0.3px;">δ</tspan>=0.15</text>
<line x1="649.6" y1="466.2" x2="684.3" y2="466.2" stroke="#80ffff" stroke-width="2.6"/>
<text x="687.2" y="471.0" font-size="13.3" text-anchor="start" ><tspan class="s" style="letter-spacing:0.3px;">δ</tspan>=0.2</text>
<text x="134.0" y="207.2" font-size="16.9" text-anchor="start" ><tspan class="s" style="letter-spacing:0.2px;">ε</tspan>=1 V=3</text>
<text x="134.0" y="227.8" font-size="16.9" text-anchor="start" ><tspan class="s" style="font-size:1.08em;letter-spacing:0.5px;">α</tspan>=0 <tspan class="s" style="font-size:1.04em;letter-spacing:0.4px;">θ</tspan>=0.1<tspan class="s" style="letter-spacing:0.3px;">π</tspan></text>
<text x="262.3" y="204.2" font-size="16.9" text-anchor="start" >d<tspan font-size="10" dy="6.2">B</tspan><tspan dy="-6.2">=3</tspan></text>
<text x="262.3" y="225.4" font-size="16.9" text-anchor="start" >d<tspan font-size="10" dy="6.2">W</tspan><tspan dy="-6.2">=0.5 n=21</tspan></text>
<text x="480.8" y="226.9" font-size="16.7" text-anchor="start" ><tspan class="s" style="font-size:1.08em;letter-spacing:0.5px;">α</tspan>=0 <tspan class="s" style="letter-spacing:-0.6px;">φ</tspan>=0.1<tspan class="s" style="letter-spacing:0.3px;">π</tspan> <tspan class="s" style="letter-spacing:0.2px;">ε</tspan>=1 V=3 d<tspan font-size="10" dy="6.2">B</tspan><tspan dy="-6.2">=3 d</tspan><tspan font-size="10" dy="6.2">W</tspan><tspan dy="-6.2">=0.5 n=21</tspan></text>
<text x="81.3" y="353.5" font-size="16.9" text-anchor="start" ><tspan class="s" style="font-size:1.08em;letter-spacing:0.5px;">α</tspan>=<tspan class="s" style="letter-spacing:0.3px;">π</tspan>/4 <tspan class="s" style="font-size:1.04em;letter-spacing:0.4px;">θ</tspan>=0.1<tspan class="s" style="letter-spacing:0.3px;">π</tspan></text>
<text x="81.3" y="373.4" font-size="16.9" text-anchor="start" ><tspan class="s" style="letter-spacing:0.2px;">ε</tspan>=1 V=3 d<tspan font-size="10" dy="6.2">B</tspan><tspan dy="-6.2">=3</tspan></text>
<text x="81.3" y="395.0" font-size="16.9" text-anchor="start" >d<tspan font-size="10" dy="6.2">W</tspan><tspan dy="-6.2">=0.5 n=21</tspan></text>
<text x="445.0" y="430.6" font-size="16.7" text-anchor="start" ><tspan class="s" style="font-size:1.08em;letter-spacing:0.5px;">α</tspan>=<tspan class="s" style="letter-spacing:0.3px;">π</tspan>/4 <tspan class="s" style="letter-spacing:-0.6px;">φ</tspan>=0.1<tspan class="s" style="letter-spacing:0.3px;">π</tspan> <tspan class="s" style="letter-spacing:0.2px;">ε</tspan>=1</text>
<text x="445.0" y="450.3" font-size="16.7" text-anchor="start" >V=3 d<tspan font-size="10" dy="6.8">B</tspan><tspan dy="-6.8">=3 d</tspan><tspan font-size="10" dy="6.8">W</tspan><tspan dy="-6.8">=0.5 n=21</tspan></text>
</svg></body></html>
